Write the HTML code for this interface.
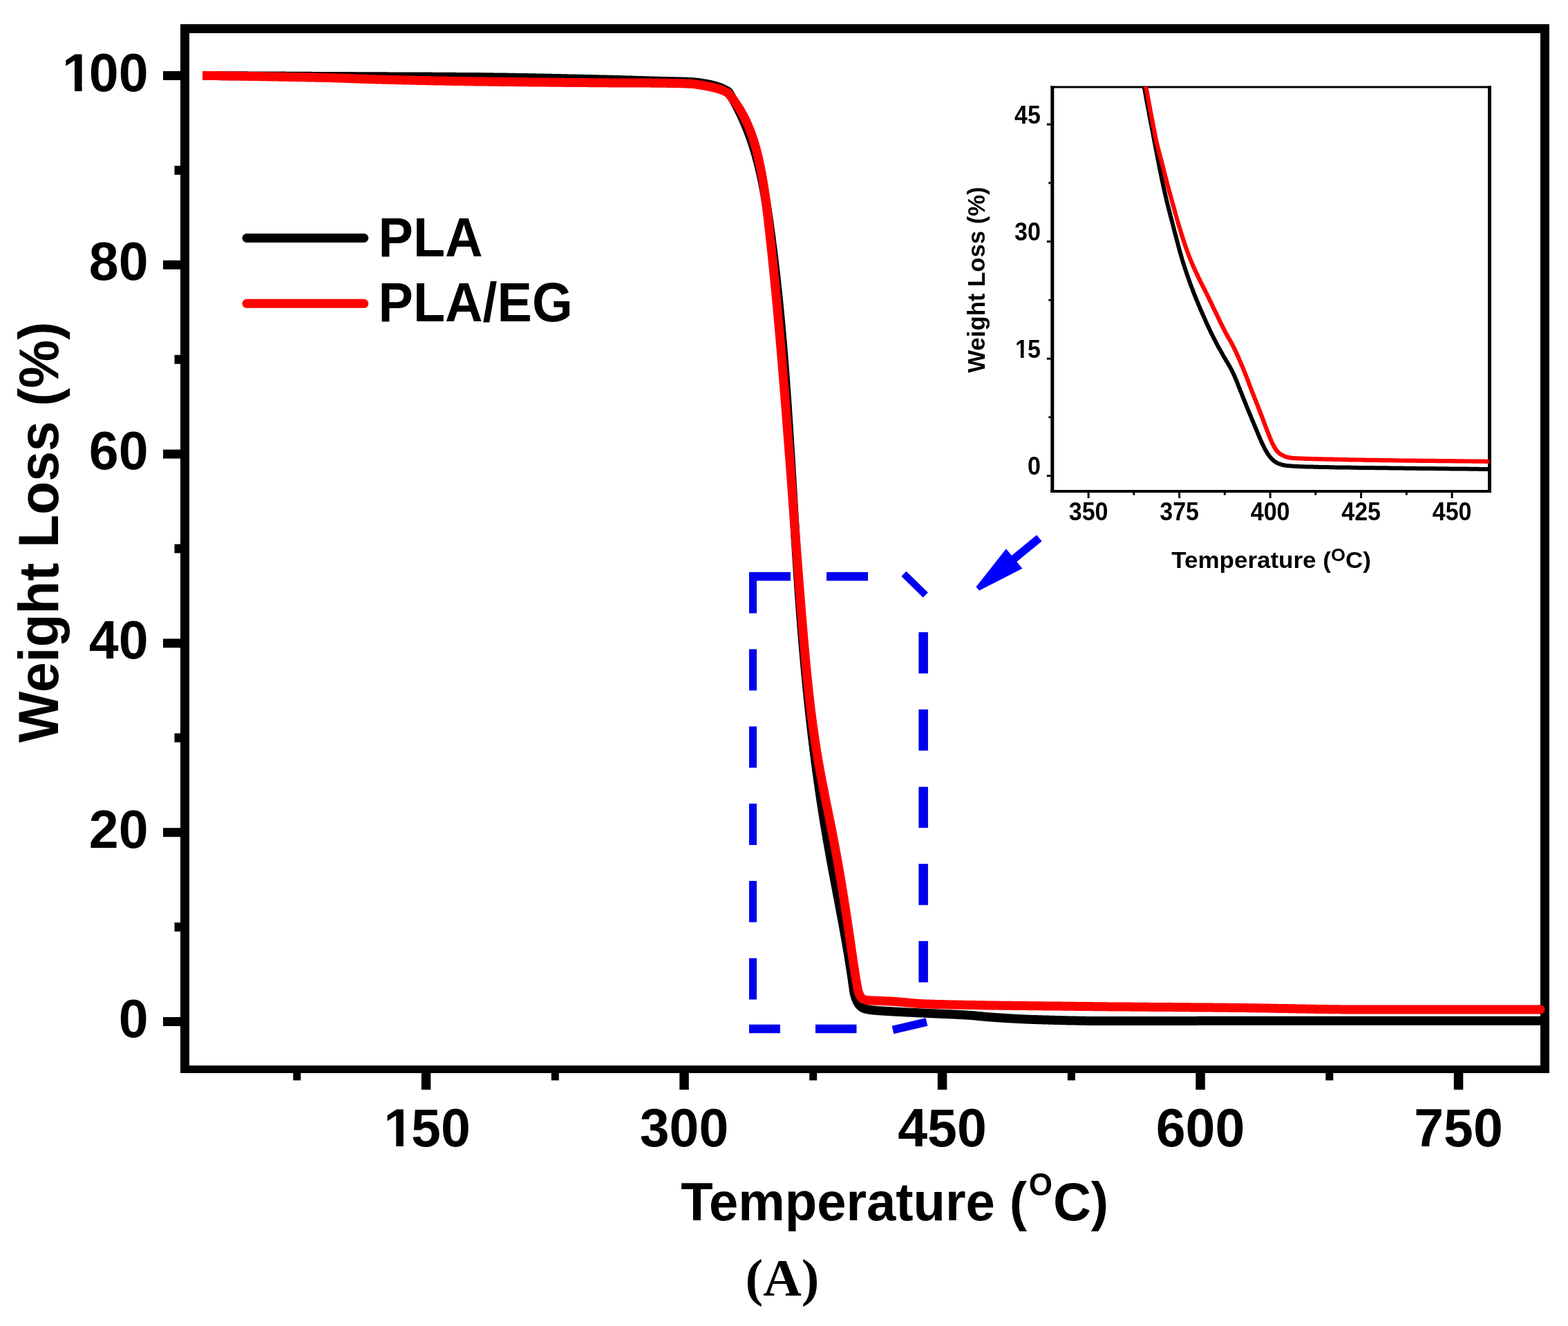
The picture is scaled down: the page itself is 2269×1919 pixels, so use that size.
<!DOCTYPE html>
<html><head><meta charset="utf-8"><title>TGA</title>
<style>html,body{margin:0;padding:0;background:#fff;}svg{display:block;}.s{font-family:"Liberation Sans",Arial,sans-serif;font-weight:bold;fill:#000;}.r{font-family:"Liberation Serif","Times New Roman",serif;font-weight:bold;fill:#000;}</style>
</head><body>
<svg xmlns="http://www.w3.org/2000/svg" width="2269" height="1919" viewBox="0 0 2269 1919">
<rect x="0" y="0" width="2269" height="1919" fill="#fff"/>
<g fill="#000">
<rect x="261" y="35" width="1981" height="13"/>
<rect x="261" y="35" width="13" height="1518"/>
<rect x="2229" y="35" width="13" height="1518"/>
<rect x="261" y="1542" width="1981" height="11"/>
<rect x="236" y="1472.0" width="25" height="13"/>
<rect x="236" y="1198.2" width="25" height="13"/>
<rect x="236" y="924.4" width="25" height="13"/>
<rect x="236" y="650.6" width="25" height="13"/>
<rect x="236" y="376.8" width="25" height="13"/>
<rect x="236" y="103.0" width="25" height="13"/>
<rect x="252.5" y="1335.1" width="8.5" height="13"/>
<rect x="252.5" y="1061.3" width="8.5" height="13"/>
<rect x="252.5" y="787.5" width="8.5" height="13"/>
<rect x="252.5" y="513.7" width="8.5" height="13"/>
<rect x="252.5" y="239.9" width="8.5" height="13"/>
<rect x="609.8" y="1553" width="13.5" height="24"/>
<rect x="983.3" y="1553" width="13.5" height="24"/>
<rect x="1356.8" y="1553" width="13.5" height="24"/>
<rect x="1730.3" y="1553" width="13.5" height="24"/>
<rect x="2103.8" y="1553" width="13.5" height="24"/>
<rect x="424.2" y="1553" width="11" height="10.5"/>
<rect x="797.8" y="1553" width="11" height="10.5"/>
<rect x="1171.2" y="1553" width="11" height="10.5"/>
<rect x="1544.8" y="1553" width="11" height="10.5"/>
<rect x="1918.3" y="1553" width="11" height="10.5"/>
</g>
<text class="s" font-size="77" transform="translate(171.68,1500.50) scale(1,1.000)">0</text>
<text class="s" font-size="77" transform="translate(128.85,1226.70) scale(1,1.000)">20</text>
<text class="s" font-size="77" transform="translate(128.85,952.90) scale(1,1.000)">40</text>
<text class="s" font-size="77" transform="translate(128.85,679.10) scale(1,1.000)">60</text>
<text class="s" font-size="77" transform="translate(128.85,405.30) scale(1,1.000)">80</text>
<text class="s" font-size="77" transform="translate(90.03,131.50) scale(1,1.000)">1</text>
<text class="s" font-size="77" transform="translate(128.85,131.50) scale(1,1.000)">00</text>
<rect x="93.11" y="122.11" width="14.89" height="10.59" fill="#fff"/>
<rect x="118.57" y="122.11" width="13.44" height="10.59" fill="#fff"/>
<text class="s" font-size="77" transform="translate(555.26,1659.00) scale(1,1.000)">1</text>
<text class="s" font-size="77" transform="translate(595.09,1659.00) scale(1,1.000)">50</text>
<rect x="558.34" y="1649.61" width="14.89" height="10.59" fill="#fff"/>
<rect x="583.80" y="1649.61" width="13.44" height="10.59" fill="#fff"/>
<text class="s" font-size="77" transform="translate(925.76,1659.00) scale(1,1.000)">300</text>
<text class="s" font-size="77" transform="translate(1299.26,1659.00) scale(1,1.000)">450</text>
<text class="s" font-size="77" transform="translate(1672.76,1659.00) scale(1,1.000)">600</text>
<text class="s" font-size="77" transform="translate(2046.26,1659.00) scale(1,1.000)">750</text>
<text class="s" font-size="78.5" text-anchor="middle" transform="translate(83.5,770.2) rotate(-90) scale(1,1.05)">Weight Loss (%)</text>
<text class="s" font-size="76" transform="translate(985.15,1765.8) scale(1,1.03)">Temperature (<tspan font-size="44" dx="2.5" dy="-35.2">O</tspan><tspan dy="35.2" dx="1">C)</tspan></text>
<text class="r" font-size="77" x="1078.6" y="1875">(A)</text>
<line x1="357" y1="344.5" x2="526.7" y2="344.5" stroke="#000" stroke-width="13" stroke-linecap="round"/>
<line x1="357" y1="439.3" x2="526.7" y2="439.3" stroke="#f00" stroke-width="13" stroke-linecap="round"/>
<text class="s" font-size="75.5" transform="translate(547.6,370.5) scale(1,1.045)">PLA</text>
<text class="s" font-size="75.5" transform="translate(547.6,465) scale(1,1.045)">PLA/EG</text>
<path d="M293.0 109.5 L293.2 109.5 L293.6 109.5 L294.1 109.5 L294.9 109.5 L295.6 109.5 L296.4 109.5 L297.1 109.5 L297.9 109.5 L298.6 109.5 L299.4 109.5 L300.1 109.5 L300.9 109.5 L301.6 109.5 L302.4 109.6 L303.1 109.6 L303.9 109.6 L304.6 109.6 L305.3 109.6 L306.1 109.6 L306.8 109.6 L307.6 109.6 L308.3 109.6 L309.1 109.6 L309.8 109.6 L310.6 109.6 L311.3 109.6 L312.1 109.6 L312.8 109.6 L313.6 109.6 L314.3 109.6 L315.1 109.6 L315.8 109.6 L316.6 109.6 L317.3 109.6 L318.1 109.6 L318.8 109.6 L319.6 109.6 L320.3 109.7 L321.1 109.7 L321.8 109.7 L322.6 109.7 L323.3 109.7 L324.1 109.7 L324.8 109.7 L325.6 109.7 L326.3 109.7 L327.0 109.7 L327.8 109.7 L328.5 109.7 L329.3 109.7 L330.0 109.7 L330.8 109.7 L331.5 109.7 L332.3 109.7 L333.0 109.7 L333.8 109.7 L334.5 109.7 L335.3 109.7 L336.0 109.7 L336.8 109.7 L337.5 109.7 L338.3 109.7 L339.0 109.8 L339.8 109.8 L340.5 109.8 L341.3 109.8 L342.0 109.8 L342.8 109.8 L343.5 109.8 L344.3 109.8 L345.0 109.8 L345.8 109.8 L346.5 109.8 L347.3 109.8 L348.0 109.8 L348.8 109.8 L349.5 109.8 L350.2 109.8 L351.0 109.8 L351.7 109.8 L352.5 109.8 L353.2 109.8 L354.0 109.8 L354.7 109.8 L355.5 109.8 L356.2 109.8 L357.0 109.8 L357.7 109.9 L358.5 109.9 L359.2 109.9 L360.0 109.9 L360.7 109.9 L361.5 109.9 L362.2 109.9 L363.0 109.9 L363.7 109.9 L364.5 109.9 L365.2 109.9 L366.0 109.9 L366.7 109.9 L367.5 109.9 L368.2 109.9 L369.0 109.9 L369.7 109.9 L370.5 109.9 L371.2 109.9 L371.9 109.9 L372.7 109.9 L373.4 109.9 L374.2 109.9 L374.9 109.9 L375.7 110.0 L376.4 110.0 L377.2 110.0 L377.9 110.0 L378.7 110.0 L379.4 110.0 L380.2 110.0 L380.9 110.0 L381.7 110.0 L382.4 110.0 L383.2 110.0 L383.9 110.0 L384.7 110.0 L385.4 110.0 L386.2 110.0 L386.9 110.0 L387.7 110.0 L388.4 110.0 L389.2 110.0 L389.9 110.0 L390.7 110.0 L391.4 110.0 L392.2 110.0 L392.9 110.0 L393.7 110.0 L394.4 110.1 L395.1 110.1 L395.9 110.1 L396.6 110.1 L397.4 110.1 L398.1 110.1 L398.9 110.1 L399.6 110.1 L400.4 110.1 L401.1 110.1 L401.9 110.1 L402.6 110.1 L403.4 110.1 L404.1 110.1 L404.9 110.1 L405.6 110.1 L406.4 110.1 L407.1 110.1 L407.9 110.1 L408.6 110.1 L409.4 110.1 L410.1 110.1 L410.9 110.1 L411.6 110.1 L412.4 110.1 L413.1 110.1 L413.9 110.2 L414.6 110.2 L415.4 110.2 L416.1 110.2 L416.8 110.2 L417.6 110.2 L418.3 110.2 L419.1 110.2 L419.8 110.2 L420.6 110.2 L421.3 110.2 L422.1 110.2 L422.8 110.2 L423.6 110.2 L424.3 110.2 L425.1 110.2 L425.8 110.2 L426.6 110.2 L427.3 110.2 L428.1 110.2 L428.8 110.2 L429.6 110.2 L430.3 110.2 L431.1 110.2 L431.8 110.2 L432.6 110.3 L433.3 110.3 L434.1 110.3 L434.8 110.3 L435.6 110.3 L436.3 110.3 L437.1 110.3 L437.8 110.3 L438.6 110.3 L439.3 110.3 L440.0 110.3 L440.8 110.3 L441.5 110.3 L442.3 110.3 L443.0 110.3 L443.8 110.3 L444.5 110.3 L445.3 110.3 L446.0 110.3 L446.8 110.3 L447.5 110.3 L448.3 110.3 L449.0 110.3 L449.8 110.3 L450.5 110.3 L451.3 110.4 L452.0 110.4 L452.8 110.4 L453.5 110.4 L454.3 110.4 L455.0 110.4 L455.8 110.4 L456.5 110.4 L457.3 110.4 L458.0 110.4 L458.8 110.4 L459.5 110.4 L460.3 110.4 L461.0 110.4 L461.8 110.4 L462.5 110.4 L463.2 110.4 L464.0 110.4 L464.7 110.4 L465.5 110.4 L466.2 110.4 L467.0 110.4 L467.7 110.4 L468.5 110.4 L469.2 110.4 L470.0 110.4 L470.7 110.5 L471.5 110.5 L472.2 110.5 L473.0 110.5 L473.7 110.5 L474.5 110.5 L475.2 110.5 L476.0 110.5 L476.7 110.5 L477.5 110.5 L478.2 110.5 L479.0 110.5 L479.7 110.5 L480.5 110.5 L481.2 110.5 L482.0 110.5 L482.7 110.5 L483.5 110.5 L484.2 110.5 L484.9 110.5 L485.7 110.5 L486.4 110.5 L487.2 110.5 L487.9 110.5 L488.7 110.5 L489.4 110.5 L490.2 110.6 L490.9 110.6 L491.7 110.6 L492.4 110.6 L493.2 110.6 L493.9 110.6 L494.7 110.6 L495.4 110.6 L496.2 110.6 L496.9 110.6 L497.7 110.6 L498.4 110.6 L499.2 110.6 L499.9 110.6 L500.7 110.6 L501.4 110.6 L502.2 110.6 L502.9 110.6 L503.7 110.6 L504.4 110.6 L505.2 110.6 L505.9 110.6 L506.7 110.6 L507.4 110.6 L508.1 110.6 L508.9 110.6 L509.6 110.6 L510.4 110.6 L511.1 110.6 L511.9 110.7 L512.6 110.7 L513.4 110.7 L514.1 110.7 L514.9 110.7 L515.6 110.7 L516.4 110.7 L517.1 110.7 L517.9 110.7 L518.6 110.7 L519.4 110.7 L520.1 110.7 L520.9 110.7 L521.6 110.7 L522.4 110.7 L523.1 110.7 L523.9 110.7 L524.6 110.7 L525.4 110.7 L526.1 110.7 L526.9 110.7 L527.6 110.7 L528.4 110.7 L529.1 110.7 L529.8 110.7 L530.6 110.7 L531.3 110.7 L532.1 110.7 L532.8 110.7 L533.6 110.7 L534.3 110.7 L535.1 110.7 L535.8 110.8 L536.6 110.8 L537.3 110.8 L538.1 110.8 L538.8 110.8 L539.6 110.8 L540.3 110.8 L541.1 110.8 L541.8 110.8 L542.6 110.8 L543.3 110.8 L544.1 110.8 L544.8 110.8 L545.6 110.8 L546.3 110.8 L547.1 110.8 L547.8 110.8 L548.6 110.8 L549.3 110.8 L550.1 110.8 L550.8 110.8 L551.6 110.8 L552.3 110.8 L553.0 110.8 L553.8 110.8 L554.5 110.8 L555.3 110.8 L556.0 110.8 L556.8 110.8 L557.5 110.8 L558.3 110.8 L559.0 110.8 L559.8 110.8 L560.5 110.9 L561.3 110.9 L562.0 110.9 L562.8 110.9 L563.5 110.9 L564.3 110.9 L565.0 110.9 L565.8 110.9 L566.5 110.9 L567.3 110.9 L568.0 110.9 L568.8 110.9 L569.5 110.9 L570.3 110.9 L571.0 110.9 L571.8 110.9 L572.5 110.9 L573.3 110.9 L574.0 110.9 L574.8 110.9 L575.5 110.9 L576.2 110.9 L577.0 110.9 L577.7 110.9 L578.5 110.9 L579.2 110.9 L580.0 110.9 L580.7 110.9 L581.5 110.9 L582.2 110.9 L583.0 110.9 L583.7 110.9 L584.5 111.0 L585.2 111.0 L586.0 111.0 L586.7 111.0 L587.5 111.0 L588.2 111.0 L589.0 111.0 L589.7 111.0 L590.5 111.0 L591.2 111.0 L592.0 111.0 L592.7 111.0 L593.5 111.0 L594.2 111.0 L595.0 111.0 L595.7 111.0 L596.5 111.0 L597.2 111.0 L597.9 111.0 L598.7 111.0 L599.4 111.0 L600.2 111.0 L600.9 111.0 L601.7 111.0 L602.4 111.0 L603.2 111.0 L603.9 111.0 L604.7 111.0 L605.4 111.0 L606.2 111.0 L606.9 111.1 L607.7 111.1 L608.4 111.1 L609.2 111.1 L609.9 111.1 L610.7 111.1 L611.4 111.1 L612.2 111.1 L612.9 111.1 L613.7 111.1 L614.4 111.1 L615.2 111.1 L615.9 111.1 L616.7 111.1 L617.4 111.1 L618.2 111.1 L618.9 111.1 L619.7 111.1 L620.4 111.1 L621.1 111.1 L621.9 111.1 L622.6 111.1 L623.4 111.1 L624.1 111.1 L624.9 111.1 L625.6 111.1 L626.4 111.2 L627.1 111.2 L627.9 111.2 L628.6 111.2 L629.4 111.2 L630.1 111.2 L630.9 111.2 L631.6 111.2 L632.4 111.2 L633.1 111.2 L633.9 111.2 L634.6 111.2 L635.4 111.2 L636.1 111.2 L636.9 111.2 L637.6 111.2 L638.4 111.2 L639.1 111.2 L639.9 111.2 L640.6 111.2 L641.4 111.2 L642.1 111.2 L642.9 111.2 L643.6 111.2 L644.3 111.3 L645.1 111.3 L645.8 111.3 L646.6 111.3 L647.3 111.3 L648.1 111.3 L648.8 111.3 L649.6 111.3 L650.3 111.3 L651.1 111.3 L651.8 111.3 L652.6 111.3 L653.3 111.3 L654.1 111.3 L654.8 111.3 L655.6 111.3 L656.3 111.3 L657.1 111.3 L657.8 111.3 L658.6 111.3 L659.3 111.3 L660.1 111.4 L660.8 111.4 L661.6 111.4 L662.3 111.4 L663.1 111.4 L663.8 111.4 L664.6 111.4 L665.3 111.4 L666.0 111.4 L666.8 111.4 L667.5 111.4 L668.3 111.4 L669.0 111.4 L669.8 111.4 L670.5 111.4 L671.3 111.4 L672.0 111.4 L672.8 111.4 L673.5 111.5 L674.3 111.5 L675.0 111.5 L675.8 111.5 L676.5 111.5 L677.3 111.5 L678.0 111.5 L678.8 111.5 L679.5 111.5 L680.3 111.5 L681.0 111.5 L681.8 111.5 L682.5 111.5 L683.3 111.5 L684.0 111.5 L684.8 111.5 L685.5 111.5 L686.3 111.6 L687.0 111.6 L687.7 111.6 L688.5 111.6 L689.2 111.6 L690.0 111.6 L690.7 111.6 L691.5 111.6 L692.2 111.6 L693.0 111.6 L693.7 111.6 L694.5 111.6 L695.2 111.6 L696.0 111.6 L696.7 111.7 L697.5 111.7 L698.2 111.7 L699.0 111.7 L699.7 111.7 L700.5 111.7 L701.2 111.7 L702.0 111.7 L702.7 111.7 L703.5 111.7 L704.2 111.7 L705.0 111.7 L705.7 111.8 L706.5 111.8 L707.2 111.8 L708.0 111.8 L708.7 111.8 L709.4 111.8 L710.2 111.8 L710.9 111.8 L711.7 111.8 L712.4 111.8 L713.2 111.8 L713.9 111.9 L714.7 111.9 L715.4 111.9 L716.2 111.9 L716.9 111.9 L717.7 111.9 L718.4 111.9 L719.2 111.9 L719.9 111.9 L720.7 111.9 L721.4 112.0 L722.2 112.0 L722.9 112.0 L723.7 112.0 L724.4 112.0 L725.2 112.0 L725.9 112.0 L726.7 112.0 L727.4 112.0 L728.2 112.1 L728.9 112.1 L729.7 112.1 L730.4 112.1 L731.1 112.1 L731.9 112.1 L732.6 112.1 L733.4 112.1 L734.1 112.1 L734.9 112.2 L735.6 112.2 L736.4 112.2 L737.1 112.2 L737.9 112.2 L738.6 112.2 L739.4 112.2 L740.1 112.2 L740.9 112.3 L741.6 112.3 L742.4 112.3 L743.1 112.3 L743.9 112.3 L744.6 112.3 L745.4 112.3 L746.1 112.3 L746.9 112.4 L747.6 112.4 L748.4 112.4 L749.1 112.4 L749.9 112.4 L750.6 112.4 L751.4 112.4 L752.1 112.4 L752.8 112.5 L753.6 112.5 L754.3 112.5 L755.1 112.5 L755.8 112.5 L756.6 112.5 L757.3 112.5 L758.1 112.6 L758.8 112.6 L759.6 112.6 L760.3 112.6 L761.1 112.6 L761.8 112.6 L762.6 112.6 L763.3 112.6 L764.1 112.7 L764.8 112.7 L765.6 112.7 L766.3 112.7 L767.1 112.7 L767.8 112.7 L768.6 112.7 L769.3 112.8 L770.1 112.8 L770.8 112.8 L771.6 112.8 L772.3 112.8 L773.0 112.8 L773.8 112.8 L774.5 112.9 L775.3 112.9 L776.0 112.9 L776.8 112.9 L777.5 112.9 L778.3 112.9 L779.0 113.0 L779.8 113.0 L780.5 113.0 L781.3 113.0 L782.0 113.0 L782.8 113.0 L783.5 113.0 L784.3 113.1 L785.0 113.1 L785.8 113.1 L786.5 113.1 L787.3 113.1 L788.0 113.1 L788.8 113.1 L789.5 113.2 L790.3 113.2 L791.0 113.2 L791.8 113.2 L792.5 113.2 L793.3 113.2 L794.0 113.3 L794.7 113.3 L795.5 113.3 L796.2 113.3 L797.0 113.3 L797.7 113.3 L798.5 113.4 L799.2 113.4 L800.0 113.4 L800.7 113.4 L801.5 113.4 L802.2 113.4 L803.0 113.4 L803.7 113.5 L804.5 113.5 L805.2 113.5 L806.0 113.5 L806.7 113.5 L807.5 113.5 L808.2 113.6 L809.0 113.6 L809.7 113.6 L810.5 113.6 L811.2 113.6 L812.0 113.6 L812.7 113.7 L813.5 113.7 L814.2 113.7 L814.9 113.7 L815.7 113.7 L816.4 113.7 L817.2 113.8 L817.9 113.8 L818.7 113.8 L819.4 113.8 L820.2 113.8 L820.9 113.8 L821.7 113.9 L822.4 113.9 L823.2 113.9 L823.9 113.9 L824.7 113.9 L825.4 113.9 L826.2 114.0 L826.9 114.0 L827.7 114.0 L828.4 114.0 L829.2 114.0 L829.9 114.0 L830.7 114.1 L831.4 114.1 L832.2 114.1 L832.9 114.1 L833.7 114.1 L834.4 114.1 L835.2 114.2 L835.9 114.2 L836.6 114.2 L837.4 114.2 L838.1 114.2 L838.9 114.2 L839.6 114.3 L840.4 114.3 L841.1 114.3 L841.9 114.3 L842.6 114.3 L843.4 114.3 L844.1 114.4 L844.9 114.4 L845.6 114.4 L846.4 114.4 L847.1 114.4 L847.9 114.4 L848.6 114.5 L849.4 114.5 L850.1 114.5 L850.9 114.5 L851.6 114.5 L852.4 114.6 L853.1 114.6 L853.9 114.6 L854.6 114.6 L855.4 114.6 L856.1 114.6 L856.8 114.7 L857.6 114.7 L858.3 114.7 L859.1 114.7 L859.8 114.7 L860.6 114.7 L861.3 114.8 L862.1 114.8 L862.8 114.8 L863.6 114.8 L864.3 114.8 L865.1 114.8 L865.8 114.9 L866.6 114.9 L867.3 114.9 L868.1 114.9 L868.8 114.9 L869.6 114.9 L870.3 115.0 L871.1 115.0 L871.8 115.0 L872.6 115.0 L873.3 115.0 L874.1 115.0 L874.8 115.1 L875.6 115.1 L876.3 115.1 L877.0 115.1 L877.8 115.1 L878.5 115.2 L879.3 115.2 L880.0 115.2 L880.8 115.2 L881.5 115.2 L882.3 115.2 L883.0 115.3 L883.8 115.3 L884.5 115.3 L885.3 115.3 L886.0 115.3 L886.8 115.4 L887.5 115.4 L888.3 115.4 L889.0 115.4 L889.8 115.4 L890.5 115.5 L891.3 115.5 L892.0 115.5 L892.8 115.5 L893.5 115.5 L894.3 115.6 L895.0 115.6 L895.7 115.6 L896.5 115.6 L897.2 115.6 L898.0 115.7 L898.7 115.7 L899.5 115.7 L900.2 115.7 L901.0 115.8 L901.7 115.8 L902.5 115.8 L903.2 115.8 L904.0 115.8 L904.7 115.9 L905.5 115.9 L906.2 115.9 L907.0 115.9 L907.7 115.9 L908.5 116.0 L909.2 116.0 L910.0 116.0 L910.7 116.0 L911.5 116.1 L912.2 116.1 L913.0 116.1 L913.7 116.1 L914.5 116.1 L915.2 116.2 L915.9 116.2 L916.7 116.2 L917.4 116.2 L918.2 116.3 L918.9 116.3 L919.7 116.3 L920.4 116.3 L921.2 116.4 L921.9 116.4 L922.7 116.4 L923.4 116.4 L924.2 116.4 L924.9 116.5 L925.7 116.5 L926.4 116.5 L927.2 116.5 L927.9 116.6 L928.7 116.6 L929.4 116.6 L930.2 116.6 L930.9 116.6 L931.7 116.7 L932.4 116.7 L933.2 116.7 L933.9 116.7 L934.6 116.8 L935.4 116.8 L936.1 116.8 L936.9 116.8 L937.6 116.8 L938.4 116.9 L939.1 116.9 L939.9 116.9 L940.6 116.9 L941.4 117.0 L942.1 117.0 L942.9 117.0 L943.6 117.0 L944.4 117.0 L945.1 117.1 L945.9 117.1 L946.6 117.1 L947.4 117.1 L948.1 117.2 L948.9 117.2 L949.6 117.2 L950.4 117.2 L951.1 117.2 L951.9 117.3 L952.6 117.3 L953.3 117.3 L954.1 117.3 L954.8 117.4 L955.6 117.4 L956.3 117.4 L957.1 117.4 L957.8 117.4 L958.6 117.5 L959.3 117.5 L960.1 117.5 L960.8 117.5 L961.6 117.5 L962.3 117.6 L963.1 117.6 L963.8 117.6 L964.6 117.6 L965.3 117.6 L966.1 117.7 L966.8 117.7 L967.6 117.7 L968.3 117.7 L969.1 117.7 L969.8 117.7 L970.6 117.8 L971.3 117.8 L972.1 117.8 L972.8 117.8 L973.6 117.8 L974.3 117.8 L975.1 117.8 L975.8 117.9 L976.6 117.9 L977.3 117.9 L978.1 117.9 L978.8 117.9 L979.5 117.9 L980.3 118.0 L981.0 118.0 L981.8 118.0 L982.5 118.0 L983.3 118.0 L984.0 118.0 L984.8 118.1 L985.5 118.1 L986.3 118.1 L987.0 118.1 L987.8 118.1 L988.5 118.2 L989.3 118.2 L990.0 118.2 L990.8 118.2 L991.5 118.3 L992.3 118.3 L993.0 118.3 L993.8 118.3 L994.5 118.4 L995.3 118.4 L996.0 118.4 L996.7 118.5 L997.5 118.5 L998.2 118.5 L999.0 118.6 L999.7 118.6 L1000.5 118.6 L1001.2 118.7 L1002.0 118.7 L1002.7 118.8 L1003.5 118.8 L1004.2 118.9 L1004.9 119.0 L1005.7 119.0 L1006.4 119.1 L1007.2 119.2 L1007.9 119.3 L1008.7 119.4 L1009.4 119.5 L1010.2 119.5 L1010.9 119.6 L1011.7 119.7 L1012.4 119.8 L1013.1 120.0 L1013.9 120.1 L1014.6 120.2 L1015.4 120.3 L1016.1 120.4 L1016.8 120.5 L1017.6 120.6 L1018.3 120.7 L1019.1 120.9 L1019.8 121.0 L1020.5 121.1 L1021.3 121.2 L1022.0 121.3 L1022.7 121.5 L1023.5 121.6 L1024.2 121.8 L1025.0 121.9 L1025.7 122.0 L1026.4 122.2 L1027.2 122.4 L1027.9 122.5 L1028.6 122.7 L1029.4 122.9 L1030.1 123.0 L1030.8 123.2 L1031.6 123.4 L1032.3 123.6 L1033.0 123.8 L1033.7 124.0 L1034.5 124.2 L1035.2 124.4 L1035.9 124.6 L1036.6 124.8 L1037.3 125.0 L1038.0 125.2 L1038.7 125.4 L1039.4 125.7 L1040.1 125.9 L1040.8 126.1 L1041.5 126.4 L1042.2 126.7 L1042.9 126.9 L1043.6 127.2 L1044.3 127.5 L1045.0 127.8 L1045.7 128.1 L1046.3 128.4 L1047.0 128.8 L1047.7 129.1 L1048.4 129.4 L1049.0 129.8 L1049.7 130.1 L1050.4 130.5 L1051.0 130.8 L1051.7 131.2 L1052.4 131.6 L1053.0 131.9 L1053.6 132.4 L1054.2 133.0 L1054.7 133.6 L1055.1 134.4 L1055.6 135.1 L1056.0 135.9 L1056.5 136.6 L1056.9 137.4 L1057.4 138.1 L1057.8 138.9 L1058.3 139.6 L1058.7 140.4 L1059.1 141.1 L1059.6 141.9 L1060.0 142.6 L1060.4 143.4 L1060.8 144.1 L1061.3 144.9 L1061.7 145.6 L1062.1 146.4 L1062.5 147.1 L1062.9 147.9 L1063.3 148.6 L1063.7 149.4 L1064.1 150.1 L1064.5 150.9 L1064.9 151.6 L1065.3 152.4 L1065.7 153.1 L1066.1 153.9 L1066.5 154.6 L1066.9 155.4 L1067.3 156.1 L1067.6 156.9 L1068.0 157.6 L1068.4 158.4 L1068.8 159.1 L1069.2 159.9 L1069.5 160.6 L1069.9 161.4 L1070.3 162.1 L1070.6 162.9 L1071.0 163.6 L1071.3 164.4 L1071.7 165.1 L1072.1 165.9 L1072.4 166.6 L1072.8 167.4 L1073.1 168.1 L1073.5 168.9 L1073.8 169.6 L1074.2 170.4 L1074.5 171.1 L1074.8 171.9 L1075.2 172.6 L1075.5 173.4 L1075.8 174.1 L1076.2 174.9 L1076.5 175.6 L1076.8 176.4 L1077.1 177.1 L1077.5 177.9 L1077.8 178.6 L1078.1 179.4 L1078.4 180.1 L1078.7 180.9 L1079.0 181.6 L1079.4 182.4 L1079.7 183.1 L1080.0 183.9 L1080.3 184.6 L1080.6 185.4 L1080.9 186.1 L1081.2 186.9 L1081.5 187.6 L1081.8 188.4 L1082.1 189.1 L1082.4 189.9 L1082.6 190.6 L1082.9 191.4 L1083.2 192.1 L1083.5 192.9 L1083.8 193.6 L1084.1 194.4 L1084.3 195.1 L1084.6 195.9 L1084.9 196.6 L1085.2 197.4 L1085.4 198.1 L1085.7 198.9 L1086.0 199.6 L1086.2 200.4 L1086.5 201.1 L1086.8 201.9 L1087.0 202.6 L1087.3 203.4 L1087.5 204.1 L1087.8 204.9 L1088.0 205.6 L1088.3 206.4 L1088.5 207.1 L1088.8 207.9 L1089.0 208.6 L1089.3 209.4 L1089.5 210.1 L1089.8 210.9 L1090.0 211.6 L1090.3 212.4 L1090.5 213.1 L1090.7 213.9 L1091.0 214.6 L1091.2 215.4 L1091.4 216.1 L1091.7 216.9 L1091.9 217.6 L1092.1 218.4 L1092.3 219.1 L1092.6 219.9 L1092.8 220.6 L1093.0 221.4 L1093.2 222.1 L1093.4 222.9 L1093.7 223.6 L1093.9 224.4 L1094.1 225.1 L1094.3 225.9 L1094.5 226.6 L1094.7 227.4 L1094.9 228.1 L1095.1 228.9 L1095.3 229.6 L1095.5 230.4 L1095.7 231.1 L1095.9 231.9 L1096.1 232.6 L1096.3 233.4 L1096.5 234.1 L1096.7 234.9 L1096.9 235.6 L1097.1 236.4 L1097.3 237.1 L1097.5 237.9 L1097.7 238.6 L1097.9 239.4 L1098.1 240.1 L1098.2 240.9 L1098.4 241.6 L1098.6 242.4 L1098.8 243.1 L1099.0 243.9 L1099.2 244.6 L1099.3 245.4 L1099.5 246.1 L1099.7 246.9 L1099.9 247.6 L1100.0 248.4 L1100.2 249.1 L1100.4 249.9 L1100.5 250.6 L1100.7 251.4 L1100.9 252.1 L1101.0 252.9 L1101.2 253.6 L1101.4 254.4 L1101.5 255.1 L1101.7 255.9 L1101.9 256.6 L1102.0 257.4 L1102.2 258.1 L1102.3 258.9 L1102.5 259.6 L1102.7 260.4 L1102.8 261.1 L1103.0 261.9 L1103.1 262.6 L1103.3 263.4 L1103.4 264.1 L1103.6 264.9 L1103.7 265.6 L1103.9 266.4 L1104.0 267.1 L1104.2 267.9 L1104.3 268.6 L1104.5 269.4 L1104.6 270.1 L1104.7 270.9 L1104.9 271.6 L1105.0 272.4 L1105.2 273.1 L1105.3 273.9 L1105.4 274.6 L1105.6 275.4 L1105.7 276.1 L1105.9 276.9 L1106.0 277.6 L1106.1 278.4 L1106.3 279.1 L1106.4 279.9 L1106.5 280.6 L1106.7 281.4 L1106.8 282.1 L1106.9 282.9 L1107.1 283.6 L1107.2 284.4 L1107.3 285.1 L1107.4 285.9 L1107.6 286.6 L1107.7 287.4 L1107.8 288.1 L1107.9 288.9 L1108.1 289.6 L1108.2 290.4 L1108.3 291.1 L1108.4 291.9 L1108.6 292.6 L1108.7 293.4 L1108.8 294.1 L1108.9 294.9 L1109.0 295.6 L1109.2 296.4 L1109.3 297.1 L1109.4 297.9 L1109.5 298.6 L1109.6 299.4 L1109.8 300.1 L1109.9 300.9 L1110.0 301.6 L1110.1 302.4 L1110.2 303.1 L1110.3 303.9 L1110.4 304.6 L1110.6 305.4 L1110.7 306.1 L1110.8 306.9 L1110.9 307.6 L1111.0 308.4 L1111.1 309.1 L1111.2 309.9 L1111.3 310.6 L1111.5 311.4 L1111.6 312.1 L1111.7 312.9 L1111.8 313.6 L1111.9 314.4 L1112.0 315.1 L1112.1 315.9 L1112.2 316.6 L1112.3 317.4 L1112.4 318.1 L1112.5 318.9 L1112.6 319.6 L1112.8 320.4 L1112.9 321.1 L1113.0 321.9 L1113.1 322.6 L1113.2 323.4 L1113.3 324.1 L1113.4 324.9 L1113.5 325.6 L1113.6 326.4 L1113.7 327.1 L1113.8 327.9 L1113.9 328.6 L1114.0 329.4 L1114.1 330.1 L1114.2 330.9 L1114.3 331.6 L1114.4 332.4 L1114.5 333.1 L1114.6 333.9 L1114.7 334.6 L1114.8 335.4 L1114.9 336.1 L1115.0 336.9 L1115.1 337.6 L1115.2 338.4 L1115.4 339.1 L1115.5 339.9 L1115.6 340.6 L1115.7 341.4 L1115.8 342.1 L1115.9 342.9 L1116.0 343.6 L1116.1 344.4 L1116.2 345.1 L1116.3 345.9 L1116.3 346.6 L1116.4 347.4 L1116.5 348.1 L1116.6 348.9 L1116.7 349.6 L1116.8 350.4 L1116.9 351.1 L1117.0 351.9 L1117.1 352.6 L1117.2 353.4 L1117.3 354.1 L1117.4 354.9 L1117.5 355.6 L1117.6 356.4 L1117.7 357.1 L1117.8 357.9 L1117.9 358.6 L1118.0 359.4 L1118.1 360.1 L1118.2 360.9 L1118.3 361.6 L1118.4 362.4 L1118.5 363.1 L1118.6 363.9 L1118.7 364.6 L1118.8 365.4 L1118.8 366.1 L1118.9 366.9 L1119.0 367.6 L1119.1 368.4 L1119.2 369.1 L1119.3 369.9 L1119.4 370.6 L1119.5 371.4 L1119.6 372.1 L1119.7 372.9 L1119.8 373.6 L1119.9 374.4 L1119.9 375.1 L1120.0 375.9 L1120.1 376.6 L1120.2 377.4 L1120.3 378.1 L1120.4 378.9 L1120.5 379.6 L1120.6 380.4 L1120.7 381.1 L1120.8 381.9 L1120.8 382.6 L1120.9 383.4 L1121.0 384.1 L1121.1 384.9 L1121.2 385.6 L1121.3 386.4 L1121.4 387.1 L1121.5 387.9 L1121.5 388.6 L1121.6 389.4 L1121.7 390.1 L1121.8 390.9 L1121.9 391.6 L1122.0 392.4 L1122.1 393.1 L1122.2 393.9 L1122.2 394.6 L1122.3 395.4 L1122.4 396.1 L1122.5 396.9 L1122.6 397.6 L1122.7 398.4 L1122.8 399.1 L1122.8 399.9 L1122.9 400.6 L1123.0 401.4 L1123.1 402.1 L1123.2 402.9 L1123.3 403.6 L1123.3 404.4 L1123.4 405.1 L1123.5 405.9 L1123.6 406.6 L1123.7 407.4 L1123.8 408.1 L1123.8 408.9 L1123.9 409.6 L1124.0 410.4 L1124.1 411.1 L1124.2 411.9 L1124.2 412.6 L1124.3 413.4 L1124.4 414.1 L1124.5 414.9 L1124.6 415.6 L1124.6 416.4 L1124.7 417.1 L1124.8 417.9 L1124.9 418.6 L1125.0 419.4 L1125.0 420.1 L1125.1 420.9 L1125.2 421.6 L1125.3 422.4 L1125.4 423.1 L1125.4 423.9 L1125.5 424.6 L1125.6 425.4 L1125.7 426.1 L1125.8 426.9 L1125.8 427.6 L1125.9 428.4 L1126.0 429.1 L1126.1 429.9 L1126.1 430.6 L1126.2 431.4 L1126.3 432.1 L1126.4 432.9 L1126.4 433.6 L1126.5 434.4 L1126.6 435.1 L1126.7 435.9 L1126.8 436.6 L1126.8 437.4 L1126.9 438.1 L1127.0 438.9 L1127.1 439.6 L1127.1 440.4 L1127.2 441.1 L1127.3 441.9 L1127.4 442.6 L1127.4 443.4 L1127.5 444.1 L1127.6 444.9 L1127.7 445.6 L1127.7 446.4 L1127.8 447.1 L1127.9 447.9 L1127.9 448.6 L1128.0 449.4 L1128.1 450.1 L1128.2 450.9 L1128.2 451.6 L1128.3 452.4 L1128.4 453.1 L1128.5 453.9 L1128.5 454.6 L1128.6 455.4 L1128.7 456.1 L1128.7 456.9 L1128.8 457.6 L1128.9 458.4 L1129.0 459.1 L1129.0 459.9 L1129.1 460.6 L1129.2 461.4 L1129.2 462.1 L1129.3 462.9 L1129.4 463.6 L1129.4 464.4 L1129.5 465.1 L1129.6 465.9 L1129.7 466.6 L1129.7 467.4 L1129.8 468.1 L1129.9 468.9 L1129.9 469.6 L1130.0 470.4 L1130.1 471.1 L1130.1 471.9 L1130.2 472.6 L1130.3 473.4 L1130.3 474.1 L1130.4 474.9 L1130.5 475.6 L1130.5 476.4 L1130.6 477.1 L1130.7 477.9 L1130.7 478.6 L1130.8 479.4 L1130.9 480.1 L1130.9 480.9 L1131.0 481.6 L1131.1 482.4 L1131.1 483.1 L1131.2 483.9 L1131.3 484.6 L1131.3 485.4 L1131.4 486.1 L1131.5 486.9 L1131.5 487.6 L1131.6 488.4 L1131.7 489.1 L1131.7 489.9 L1131.8 490.6 L1131.9 491.4 L1131.9 492.1 L1132.0 492.9 L1132.1 493.6 L1132.1 494.4 L1132.2 495.1 L1132.3 495.9 L1132.3 496.6 L1132.4 497.4 L1132.4 498.1 L1132.5 498.9 L1132.6 499.6 L1132.6 500.4 L1132.7 501.1 L1132.8 501.9 L1132.8 502.6 L1132.9 503.4 L1133.0 504.1 L1133.0 504.9 L1133.1 505.6 L1133.1 506.4 L1133.2 507.1 L1133.3 507.9 L1133.3 508.6 L1133.4 509.4 L1133.4 510.1 L1133.5 510.9 L1133.6 511.6 L1133.6 512.4 L1133.7 513.1 L1133.8 513.9 L1133.8 514.6 L1133.9 515.4 L1133.9 516.1 L1134.0 516.9 L1134.1 517.6 L1134.1 518.4 L1134.2 519.1 L1134.2 519.9 L1134.3 520.6 L1134.4 521.4 L1134.4 522.1 L1134.5 522.9 L1134.5 523.6 L1134.6 524.4 L1134.7 525.1 L1134.7 525.9 L1134.8 526.6 L1134.8 527.4 L1134.9 528.1 L1135.0 528.9 L1135.0 529.6 L1135.1 530.4 L1135.1 531.1 L1135.2 531.9 L1135.2 532.6 L1135.3 533.4 L1135.4 534.1 L1135.4 534.9 L1135.5 535.6 L1135.5 536.4 L1135.6 537.1 L1135.7 537.9 L1135.7 538.6 L1135.8 539.4 L1135.8 540.1 L1135.9 540.9 L1135.9 541.6 L1136.0 542.4 L1136.1 543.1 L1136.1 543.9 L1136.2 544.6 L1136.2 545.4 L1136.3 546.1 L1136.3 546.9 L1136.4 547.6 L1136.4 548.4 L1136.5 549.1 L1136.6 549.9 L1136.6 550.6 L1136.7 551.4 L1136.7 552.1 L1136.8 552.9 L1136.8 553.6 L1136.9 554.4 L1136.9 555.1 L1137.0 555.9 L1137.1 556.6 L1137.1 557.4 L1137.2 558.1 L1137.2 558.9 L1137.3 559.6 L1137.3 560.4 L1137.4 561.1 L1137.4 561.9 L1137.5 562.6 L1137.5 563.4 L1137.6 564.1 L1137.7 564.9 L1137.7 565.6 L1137.8 566.4 L1137.8 567.1 L1137.9 567.9 L1137.9 568.6 L1138.0 569.4 L1138.0 570.1 L1138.1 570.9 L1138.1 571.6 L1138.2 572.4 L1138.2 573.1 L1138.3 573.9 L1138.3 574.6 L1138.4 575.4 L1138.5 576.1 L1138.5 576.9 L1138.6 577.6 L1138.6 578.4 L1138.7 579.1 L1138.7 579.9 L1138.8 580.6 L1138.8 581.4 L1138.9 582.1 L1138.9 582.9 L1139.0 583.6 L1139.0 584.4 L1139.1 585.1 L1139.1 585.9 L1139.2 586.6 L1139.2 587.4 L1139.3 588.1 L1139.3 588.9 L1139.4 589.6 L1139.4 590.4 L1139.5 591.1 L1139.5 591.9 L1139.6 592.6 L1139.6 593.4 L1139.7 594.1 L1139.7 594.9 L1139.8 595.6 L1139.8 596.4 L1139.9 597.1 L1139.9 597.9 L1140.0 598.6 L1140.0 599.4 L1140.1 600.1 L1140.1 600.9 L1140.2 601.6 L1140.2 602.4 L1140.3 603.1 L1140.3 603.9 L1140.4 604.6 L1140.4 605.4 L1140.5 606.1 L1140.5 606.9 L1140.6 607.6 L1140.6 608.4 L1140.7 609.1 L1140.7 609.9 L1140.8 610.6 L1140.8 611.4 L1140.9 612.1 L1140.9 612.9 L1141.0 613.6 L1141.0 614.4 L1141.1 615.1 L1141.1 615.9 L1141.2 616.6 L1141.2 617.4 L1141.3 618.1 L1141.3 618.9 L1141.4 619.6 L1141.4 620.4 L1141.5 621.1 L1141.5 621.9 L1141.6 622.6 L1141.6 623.4 L1141.7 624.1 L1141.7 624.9 L1141.8 625.6 L1141.8 626.4 L1141.9 627.1 L1141.9 627.9 L1142.0 628.6 L1142.0 629.4 L1142.1 630.1 L1142.1 630.9 L1142.1 631.6 L1142.2 632.4 L1142.2 633.1 L1142.3 633.9 L1142.3 634.6 L1142.4 635.4 L1142.4 636.1 L1142.5 636.9 L1142.5 637.6 L1142.6 638.4 L1142.6 639.1 L1142.7 639.9 L1142.7 640.6 L1142.8 641.4 L1142.8 642.1 L1142.9 642.9 L1142.9 643.6 L1143.0 644.4 L1143.0 645.1 L1143.0 645.9 L1143.1 646.6 L1143.1 647.4 L1143.2 648.1 L1143.2 648.9 L1143.3 649.6 L1143.3 650.4 L1143.4 651.1 L1143.4 651.9 L1143.5 652.6 L1143.5 653.4 L1143.6 654.1 L1143.6 654.9 L1143.7 655.6 L1143.7 656.4 L1143.7 657.1 L1143.8 657.9 L1143.8 658.6 L1143.9 659.4 L1143.9 660.1 L1144.0 660.9 L1144.0 661.6 L1144.1 662.4 L1144.1 663.1 L1144.2 663.9 L1144.2 664.6 L1144.3 665.4 L1144.3 666.1 L1144.3 666.9 L1144.4 667.6 L1144.4 668.4 L1144.5 669.1 L1144.5 669.9 L1144.6 670.6 L1144.6 671.4 L1144.7 672.1 L1144.7 672.9 L1144.8 673.6 L1144.8 674.4 L1144.8 675.1 L1144.9 675.9 L1144.9 676.6 L1145.0 677.4 L1145.0 678.1 L1145.1 678.9 L1145.1 679.6 L1145.2 680.4 L1145.2 681.1 L1145.3 681.9 L1145.3 682.6 L1145.3 683.4 L1145.4 684.1 L1145.4 684.9 L1145.5 685.6 L1145.5 686.4 L1145.6 687.1 L1145.6 687.9 L1145.7 688.6 L1145.7 689.4 L1145.8 690.1 L1145.8 690.9 L1145.8 691.6 L1145.9 692.4 L1145.9 693.1 L1146.0 693.9 L1146.0 694.6 L1146.1 695.4 L1146.1 696.1 L1146.2 696.9 L1146.2 697.6 L1146.2 698.4 L1146.3 699.1 L1146.3 699.9 L1146.4 700.6 L1146.4 701.4 L1146.5 702.1 L1146.5 702.9 L1146.6 703.6 L1146.6 704.4 L1146.7 705.1 L1146.7 705.9 L1146.7 706.6 L1146.8 707.4 L1146.8 708.1 L1146.9 708.9 L1146.9 709.6 L1147.0 710.4 L1147.0 711.1 L1147.1 711.9 L1147.1 712.6 L1147.1 713.4 L1147.2 714.1 L1147.2 714.9 L1147.3 715.6 L1147.3 716.4 L1147.4 717.1 L1147.4 717.9 L1147.5 718.6 L1147.5 719.4 L1147.5 720.1 L1147.6 720.9 L1147.6 721.6 L1147.7 722.4 L1147.7 723.1 L1147.8 723.9 L1147.8 724.6 L1147.9 725.4 L1147.9 726.1 L1148.0 726.9 L1148.0 727.6 L1148.0 728.4 L1148.1 729.1 L1148.1 729.9 L1148.2 730.6 L1148.2 731.4 L1148.3 732.1 L1148.3 732.9 L1148.4 733.6 L1148.4 734.4 L1148.4 735.1 L1148.5 735.9 L1148.5 736.6 L1148.6 737.4 L1148.6 738.1 L1148.7 738.9 L1148.7 739.6 L1148.8 740.4 L1148.8 741.1 L1148.9 741.9 L1148.9 742.6 L1148.9 743.4 L1149.0 744.1 L1149.0 744.9 L1149.1 745.6 L1149.1 746.4 L1149.2 747.1 L1149.2 747.9 L1149.3 748.6 L1149.3 749.4 L1149.3 750.1 L1149.4 750.9 L1149.4 751.6 L1149.5 752.4 L1149.5 753.1 L1149.6 753.9 L1149.6 754.6 L1149.7 755.4 L1149.7 756.1 L1149.8 756.9 L1149.8 757.6 L1149.8 758.4 L1149.9 759.1 L1149.9 759.9 L1150.0 760.6 L1150.0 761.4 L1150.1 762.1 L1150.1 762.9 L1150.2 763.6 L1150.2 764.4 L1150.3 765.1 L1150.3 765.9 L1150.4 766.6 L1150.4 767.4 L1150.4 768.1 L1150.5 768.9 L1150.5 769.6 L1150.6 770.4 L1150.6 771.1 L1150.7 771.9 L1150.7 772.6 L1150.8 773.4 L1150.8 774.1 L1150.9 774.9 L1150.9 775.6 L1150.9 776.4 L1151.0 777.1 L1151.0 777.9 L1151.1 778.6 L1151.1 779.4 L1151.2 780.1 L1151.2 780.9 L1151.3 781.6 L1151.3 782.4 L1151.4 783.1 L1151.4 783.9 L1151.5 784.6 L1151.5 785.4 L1151.6 786.1 L1151.6 786.9 L1151.6 787.6 L1151.7 788.4 L1151.7 789.1 L1151.8 789.9 L1151.8 790.6 L1151.9 791.4 L1151.9 792.1 L1152.0 792.9 L1152.0 793.6 L1152.1 794.4 L1152.1 795.1 L1152.2 795.9 L1152.2 796.6 L1152.3 797.4 L1152.3 798.1 L1152.4 798.9 L1152.4 799.6 L1152.5 800.4 L1152.5 801.1 L1152.5 801.9 L1152.6 802.6 L1152.6 803.4 L1152.7 804.1 L1152.7 804.9 L1152.8 805.6 L1152.8 806.4 L1152.9 807.1 L1152.9 807.9 L1153.0 808.6 L1153.0 809.4 L1153.1 810.1 L1153.1 810.9 L1153.2 811.6 L1153.2 812.4 L1153.3 813.1 L1153.3 813.9 L1153.4 814.6 L1153.4 815.4 L1153.5 816.1 L1153.5 816.9 L1153.6 817.6 L1153.6 818.4 L1153.7 819.1 L1153.7 819.9 L1153.8 820.6 L1153.8 821.4 L1153.9 822.1 L1153.9 822.9 L1154.0 823.6 L1154.0 824.4 L1154.1 825.1 L1154.1 825.9 L1154.2 826.6 L1154.2 827.4 L1154.2 828.1 L1154.3 828.9 L1154.3 829.6 L1154.4 830.4 L1154.4 831.1 L1154.5 831.9 L1154.5 832.6 L1154.6 833.4 L1154.7 834.1 L1154.7 834.9 L1154.8 835.6 L1154.8 836.4 L1154.9 837.1 L1154.9 837.9 L1155.0 838.6 L1155.0 839.4 L1155.1 840.1 L1155.1 840.9 L1155.2 841.6 L1155.2 842.4 L1155.3 843.1 L1155.3 843.9 L1155.4 844.6 L1155.4 845.4 L1155.5 846.1 L1155.5 846.9 L1155.6 847.6 L1155.6 848.4 L1155.7 849.1 L1155.7 849.9 L1155.8 850.6 L1155.8 851.4 L1155.9 852.1 L1155.9 852.9 L1156.0 853.6 L1156.0 854.4 L1156.1 855.1 L1156.1 855.9 L1156.2 856.6 L1156.2 857.4 L1156.3 858.1 L1156.4 858.9 L1156.4 859.6 L1156.5 860.4 L1156.5 861.1 L1156.6 861.9 L1156.6 862.6 L1156.7 863.4 L1156.7 864.1 L1156.8 864.9 L1156.8 865.6 L1156.9 866.4 L1156.9 867.1 L1157.0 867.9 L1157.0 868.6 L1157.1 869.4 L1157.2 870.1 L1157.2 870.9 L1157.3 871.6 L1157.3 872.4 L1157.4 873.1 L1157.4 873.9 L1157.5 874.6 L1157.5 875.4 L1157.6 876.1 L1157.6 876.9 L1157.7 877.6 L1157.8 878.4 L1157.8 879.1 L1157.9 879.9 L1157.9 880.6 L1158.0 881.4 L1158.0 882.1 L1158.1 882.9 L1158.1 883.6 L1158.2 884.4 L1158.3 885.1 L1158.3 885.9 L1158.4 886.6 L1158.4 887.4 L1158.5 888.1 L1158.5 888.9 L1158.6 889.6 L1158.6 890.4 L1158.7 891.1 L1158.8 891.9 L1158.8 892.6 L1158.9 893.4 L1158.9 894.1 L1159.0 894.9 L1159.0 895.6 L1159.1 896.4 L1159.2 897.1 L1159.2 897.9 L1159.3 898.6 L1159.3 899.4 L1159.4 900.1 L1159.5 900.9 L1159.5 901.6 L1159.6 902.4 L1159.6 903.1 L1159.7 903.9 L1159.7 904.6 L1159.8 905.4 L1159.9 906.1 L1159.9 906.9 L1160.0 907.6 L1160.0 908.4 L1160.1 909.1 L1160.2 909.9 L1160.2 910.6 L1160.3 911.4 L1160.3 912.1 L1160.4 912.9 L1160.5 913.6 L1160.5 914.4 L1160.6 915.1 L1160.6 915.9 L1160.7 916.6 L1160.8 917.4 L1160.8 918.1 L1160.9 918.9 L1160.9 919.6 L1161.0 920.4 L1161.1 921.1 L1161.1 921.9 L1161.2 922.6 L1161.3 923.4 L1161.3 924.1 L1161.4 924.9 L1161.4 925.6 L1161.5 926.4 L1161.6 927.1 L1161.6 927.9 L1161.7 928.6 L1161.7 929.4 L1161.8 930.1 L1161.9 930.9 L1161.9 931.6 L1162.0 932.4 L1162.1 933.1 L1162.1 933.9 L1162.2 934.6 L1162.3 935.4 L1162.3 936.1 L1162.4 936.9 L1162.4 937.6 L1162.5 938.4 L1162.6 939.1 L1162.6 939.9 L1162.7 940.6 L1162.8 941.4 L1162.8 942.1 L1162.9 942.9 L1163.0 943.6 L1163.0 944.4 L1163.1 945.1 L1163.2 945.9 L1163.2 946.6 L1163.3 947.4 L1163.4 948.1 L1163.4 948.9 L1163.5 949.6 L1163.6 950.4 L1163.6 951.1 L1163.7 951.9 L1163.7 952.6 L1163.8 953.4 L1163.9 954.1 L1163.9 954.9 L1164.0 955.6 L1164.1 956.4 L1164.2 957.1 L1164.2 957.9 L1164.3 958.6 L1164.4 959.4 L1164.4 960.1 L1164.5 960.9 L1164.6 961.6 L1164.6 962.4 L1164.7 963.1 L1164.8 963.9 L1164.8 964.6 L1164.9 965.4 L1165.0 966.1 L1165.0 966.9 L1165.1 967.6 L1165.2 968.4 L1165.2 969.1 L1165.3 969.9 L1165.4 970.6 L1165.5 971.4 L1165.5 972.1 L1165.6 972.9 L1165.7 973.6 L1165.7 974.4 L1165.8 975.1 L1165.9 975.9 L1165.9 976.6 L1166.0 977.4 L1166.1 978.1 L1166.2 978.9 L1166.2 979.6 L1166.3 980.4 L1166.4 981.1 L1166.4 981.9 L1166.5 982.6 L1166.6 983.4 L1166.7 984.1 L1166.7 984.9 L1166.8 985.6 L1166.9 986.4 L1167.0 987.1 L1167.0 987.9 L1167.1 988.6 L1167.2 989.4 L1167.2 990.1 L1167.3 990.9 L1167.4 991.6 L1167.5 992.4 L1167.5 993.1 L1167.6 993.9 L1167.7 994.6 L1167.8 995.4 L1167.8 996.1 L1167.9 996.9 L1168.0 997.6 L1168.1 998.4 L1168.1 999.1 L1168.2 999.9 L1168.3 1000.6 L1168.4 1001.4 L1168.4 1002.1 L1168.5 1002.9 L1168.6 1003.6 L1168.7 1004.4 L1168.7 1005.1 L1168.8 1005.9 L1168.9 1006.6 L1169.0 1007.4 L1169.0 1008.1 L1169.1 1008.9 L1169.2 1009.6 L1169.3 1010.4 L1169.4 1011.1 L1169.4 1011.9 L1169.5 1012.6 L1169.6 1013.4 L1169.7 1014.1 L1169.7 1014.9 L1169.8 1015.6 L1169.9 1016.4 L1170.0 1017.1 L1170.1 1017.9 L1170.1 1018.6 L1170.2 1019.4 L1170.3 1020.1 L1170.4 1020.9 L1170.5 1021.6 L1170.5 1022.4 L1170.6 1023.1 L1170.7 1023.9 L1170.8 1024.6 L1170.9 1025.4 L1170.9 1026.1 L1171.0 1026.9 L1171.1 1027.6 L1171.2 1028.4 L1171.3 1029.1 L1171.3 1029.9 L1171.4 1030.6 L1171.5 1031.4 L1171.6 1032.1 L1171.7 1032.9 L1171.8 1033.6 L1171.8 1034.4 L1171.9 1035.1 L1172.0 1035.9 L1172.1 1036.6 L1172.2 1037.4 L1172.2 1038.1 L1172.3 1038.9 L1172.4 1039.6 L1172.5 1040.4 L1172.6 1041.1 L1172.7 1041.9 L1172.7 1042.6 L1172.8 1043.4 L1172.9 1044.1 L1173.0 1044.9 L1173.1 1045.6 L1173.2 1046.4 L1173.3 1047.1 L1173.3 1047.9 L1173.4 1048.6 L1173.5 1049.4 L1173.6 1050.1 L1173.7 1050.9 L1173.8 1051.6 L1173.9 1052.4 L1173.9 1053.1 L1174.0 1053.9 L1174.1 1054.6 L1174.2 1055.4 L1174.3 1056.1 L1174.4 1056.9 L1174.5 1057.6 L1174.6 1058.4 L1174.6 1059.1 L1174.7 1059.9 L1174.8 1060.6 L1174.9 1061.4 L1175.0 1062.1 L1175.1 1062.9 L1175.2 1063.6 L1175.3 1064.4 L1175.4 1065.1 L1175.4 1065.9 L1175.5 1066.6 L1175.6 1067.4 L1175.7 1068.1 L1175.8 1068.9 L1175.9 1069.6 L1176.0 1070.4 L1176.1 1071.1 L1176.2 1071.9 L1176.3 1072.6 L1176.3 1073.4 L1176.4 1074.1 L1176.5 1074.9 L1176.6 1075.6 L1176.7 1076.4 L1176.8 1077.1 L1176.9 1077.9 L1177.0 1078.6 L1177.1 1079.4 L1177.2 1080.1 L1177.3 1080.9 L1177.4 1081.6 L1177.5 1082.4 L1177.5 1083.1 L1177.6 1083.9 L1177.7 1084.6 L1177.8 1085.4 L1177.9 1086.1 L1178.0 1086.9 L1178.1 1087.6 L1178.2 1088.4 L1178.3 1089.1 L1178.4 1089.9 L1178.5 1090.6 L1178.6 1091.4 L1178.7 1092.1 L1178.8 1092.9 L1178.9 1093.6 L1179.0 1094.4 L1179.1 1095.1 L1179.2 1095.9 L1179.3 1096.6 L1179.4 1097.4 L1179.5 1098.1 L1179.5 1098.9 L1179.6 1099.6 L1179.7 1100.4 L1179.8 1101.1 L1179.9 1101.9 L1180.0 1102.6 L1180.1 1103.4 L1180.2 1104.1 L1180.3 1104.9 L1180.4 1105.6 L1180.5 1106.4 L1180.6 1107.1 L1180.7 1107.9 L1180.8 1108.6 L1180.9 1109.4 L1181.0 1110.1 L1181.1 1110.9 L1181.2 1111.6 L1181.3 1112.4 L1181.4 1113.1 L1181.5 1113.9 L1181.6 1114.6 L1181.7 1115.4 L1181.8 1116.1 L1181.9 1116.9 L1182.0 1117.6 L1182.1 1118.4 L1182.2 1119.1 L1182.4 1119.9 L1182.5 1120.6 L1182.6 1121.4 L1182.7 1122.1 L1182.8 1122.9 L1182.9 1123.6 L1183.0 1124.4 L1183.1 1125.1 L1183.2 1125.9 L1183.3 1126.6 L1183.4 1127.4 L1183.5 1128.1 L1183.6 1128.9 L1183.7 1129.6 L1183.8 1130.4 L1183.9 1131.1 L1184.0 1131.9 L1184.1 1132.6 L1184.2 1133.4 L1184.3 1134.1 L1184.4 1134.9 L1184.6 1135.6 L1184.7 1136.4 L1184.8 1137.1 L1184.9 1137.9 L1185.0 1138.6 L1185.1 1139.4 L1185.2 1140.1 L1185.3 1140.9 L1185.4 1141.6 L1185.5 1142.4 L1185.6 1143.1 L1185.7 1143.9 L1185.9 1144.6 L1186.0 1145.4 L1186.1 1146.1 L1186.2 1146.9 L1186.3 1147.6 L1186.4 1148.4 L1186.5 1149.1 L1186.6 1149.9 L1186.7 1150.6 L1186.8 1151.4 L1187.0 1152.1 L1187.1 1152.9 L1187.2 1153.6 L1187.3 1154.4 L1187.4 1155.1 L1187.5 1155.9 L1187.6 1156.6 L1187.7 1157.4 L1187.9 1158.1 L1188.0 1158.9 L1188.1 1159.6 L1188.2 1160.4 L1188.3 1161.1 L1188.4 1161.9 L1188.5 1162.6 L1188.7 1163.4 L1188.8 1164.1 L1188.9 1164.9 L1189.0 1165.6 L1189.1 1166.4 L1189.2 1167.1 L1189.3 1167.9 L1189.5 1168.6 L1189.6 1169.4 L1189.7 1170.1 L1189.8 1170.9 L1189.9 1171.6 L1190.0 1172.4 L1190.2 1173.1 L1190.3 1173.9 L1190.4 1174.6 L1190.5 1175.4 L1190.6 1176.1 L1190.7 1176.9 L1190.9 1177.6 L1191.0 1178.4 L1191.1 1179.1 L1191.2 1179.9 L1191.3 1180.6 L1191.5 1181.4 L1191.6 1182.1 L1191.7 1182.9 L1191.8 1183.6 L1191.9 1184.4 L1192.1 1185.1 L1192.2 1185.9 L1192.3 1186.6 L1192.4 1187.4 L1192.5 1188.1 L1192.7 1188.9 L1192.8 1189.6 L1192.9 1190.4 L1193.0 1191.1 L1193.2 1191.9 L1193.3 1192.6 L1193.4 1193.4 L1193.5 1194.1 L1193.7 1194.9 L1193.8 1195.6 L1193.9 1196.4 L1194.0 1197.1 L1194.2 1197.9 L1194.3 1198.6 L1194.4 1199.4 L1194.5 1200.1 L1194.7 1200.9 L1194.8 1201.6 L1194.9 1202.4 L1195.0 1203.1 L1195.2 1203.9 L1195.3 1204.6 L1195.4 1205.4 L1195.5 1206.1 L1195.7 1206.9 L1195.8 1207.6 L1195.9 1208.4 L1196.0 1209.1 L1196.2 1209.9 L1196.3 1210.6 L1196.4 1211.4 L1196.6 1212.1 L1196.7 1212.9 L1196.8 1213.6 L1196.9 1214.4 L1197.1 1215.1 L1197.2 1215.9 L1197.3 1216.6 L1197.5 1217.4 L1197.6 1218.1 L1197.7 1218.9 L1197.9 1219.6 L1198.0 1220.4 L1198.1 1221.1 L1198.3 1221.9 L1198.4 1222.6 L1198.5 1223.4 L1198.7 1224.1 L1198.8 1224.9 L1198.9 1225.6 L1199.1 1226.4 L1199.2 1227.1 L1199.3 1227.9 L1199.5 1228.6 L1199.6 1229.4 L1199.7 1230.1 L1199.9 1230.9 L1200.0 1231.6 L1200.1 1232.4 L1200.3 1233.1 L1200.4 1233.9 L1200.5 1234.6 L1200.7 1235.4 L1200.8 1236.1 L1200.9 1236.9 L1201.1 1237.6 L1201.2 1238.4 L1201.3 1239.1 L1201.5 1239.9 L1201.6 1240.6 L1201.8 1241.4 L1201.9 1242.1 L1202.0 1242.9 L1202.2 1243.6 L1202.3 1244.4 L1202.4 1245.1 L1202.6 1245.9 L1202.7 1246.6 L1202.9 1247.4 L1203.0 1248.1 L1203.1 1248.9 L1203.3 1249.6 L1203.4 1250.4 L1203.6 1251.1 L1203.7 1251.9 L1203.8 1252.6 L1204.0 1253.4 L1204.1 1254.1 L1204.3 1254.9 L1204.4 1255.6 L1204.5 1256.4 L1204.7 1257.1 L1204.8 1257.9 L1205.0 1258.6 L1205.1 1259.4 L1205.2 1260.1 L1205.4 1260.9 L1205.5 1261.6 L1205.7 1262.4 L1205.8 1263.1 L1205.9 1263.9 L1206.1 1264.6 L1206.2 1265.4 L1206.4 1266.1 L1206.5 1266.9 L1206.6 1267.6 L1206.8 1268.4 L1206.9 1269.1 L1207.1 1269.9 L1207.2 1270.6 L1207.3 1271.4 L1207.5 1272.1 L1207.6 1272.9 L1207.8 1273.6 L1207.9 1274.4 L1208.1 1275.1 L1208.2 1275.9 L1208.3 1276.6 L1208.5 1277.4 L1208.6 1278.1 L1208.8 1278.9 L1208.9 1279.6 L1209.0 1280.4 L1209.2 1281.1 L1209.3 1281.9 L1209.5 1282.6 L1209.6 1283.4 L1209.8 1284.1 L1209.9 1284.9 L1210.0 1285.6 L1210.2 1286.4 L1210.3 1287.1 L1210.5 1287.9 L1210.6 1288.6 L1210.8 1289.4 L1210.9 1290.1 L1211.0 1290.9 L1211.2 1291.6 L1211.3 1292.4 L1211.5 1293.1 L1211.6 1293.9 L1211.8 1294.6 L1211.9 1295.4 L1212.0 1296.1 L1212.2 1296.9 L1212.3 1297.6 L1212.5 1298.4 L1212.6 1299.1 L1212.8 1299.9 L1212.9 1300.6 L1213.0 1301.4 L1213.2 1302.1 L1213.3 1302.9 L1213.5 1303.6 L1213.6 1304.4 L1213.7 1305.1 L1213.9 1305.9 L1214.0 1306.6 L1214.2 1307.4 L1214.3 1308.1 L1214.5 1308.9 L1214.6 1309.6 L1214.7 1310.4 L1214.9 1311.1 L1215.0 1311.9 L1215.2 1312.6 L1215.3 1313.4 L1215.4 1314.1 L1215.6 1314.9 L1215.7 1315.6 L1215.9 1316.4 L1216.0 1317.1 L1216.2 1317.9 L1216.3 1318.6 L1216.4 1319.4 L1216.6 1320.1 L1216.7 1320.9 L1216.9 1321.6 L1217.0 1322.4 L1217.1 1323.1 L1217.3 1323.9 L1217.4 1324.6 L1217.6 1325.4 L1217.7 1326.1 L1217.8 1326.9 L1218.0 1327.6 L1218.1 1328.4 L1218.3 1329.1 L1218.4 1329.9 L1218.5 1330.6 L1218.7 1331.4 L1218.8 1332.1 L1219.0 1332.9 L1219.1 1333.6 L1219.2 1334.4 L1219.4 1335.1 L1219.5 1335.9 L1219.6 1336.6 L1219.8 1337.4 L1219.9 1338.1 L1220.1 1338.9 L1220.2 1339.6 L1220.3 1340.4 L1220.5 1341.1 L1220.6 1341.9 L1220.7 1342.6 L1220.9 1343.4 L1221.0 1344.1 L1221.2 1344.9 L1221.3 1345.6 L1221.4 1346.4 L1221.6 1347.1 L1221.7 1347.9 L1221.8 1348.6 L1222.0 1349.4 L1222.1 1350.1 L1222.2 1350.9 L1222.4 1351.6 L1222.5 1352.4 L1222.6 1353.1 L1222.8 1353.9 L1222.9 1354.6 L1223.0 1355.4 L1223.2 1356.1 L1223.3 1356.9 L1223.4 1357.6 L1223.6 1358.4 L1223.7 1359.1 L1223.8 1359.9 L1224.0 1360.6 L1224.1 1361.4 L1224.2 1362.1 L1224.4 1362.9 L1224.5 1363.6 L1224.6 1364.4 L1224.8 1365.1 L1224.9 1365.9 L1225.0 1366.6 L1225.2 1367.4 L1225.3 1368.1 L1225.4 1368.9 L1225.5 1369.6 L1225.7 1370.4 L1225.8 1371.1 L1225.9 1371.9 L1226.1 1372.6 L1226.2 1373.4 L1226.3 1374.1 L1226.4 1374.9 L1226.6 1375.6 L1226.7 1376.4 L1226.8 1377.1 L1227.0 1377.9 L1227.1 1378.6 L1227.2 1379.4 L1227.3 1380.1 L1227.5 1380.9 L1227.6 1381.6 L1227.7 1382.4 L1227.8 1383.1 L1228.0 1383.9 L1228.1 1384.6 L1228.2 1385.4 L1228.3 1386.1 L1228.4 1386.9 L1228.6 1387.6 L1228.7 1388.4 L1228.8 1389.1 L1228.9 1389.9 L1229.1 1390.6 L1229.2 1391.4 L1229.3 1392.1 L1229.4 1392.9 L1229.5 1393.6 L1229.7 1394.4 L1229.8 1395.1 L1229.9 1395.9 L1230.0 1396.6 L1230.1 1397.4 L1230.3 1398.1 L1230.4 1398.9 L1230.5 1399.6 L1230.6 1400.4 L1230.7 1401.1 L1230.8 1401.9 L1231.0 1402.6 L1231.1 1403.4 L1231.2 1404.1 L1231.3 1404.9 L1231.4 1405.6 L1231.5 1406.4 L1231.6 1407.1 L1231.8 1407.9 L1231.9 1408.6 L1232.0 1409.4 L1232.1 1410.1 L1232.2 1410.9 L1232.3 1411.6 L1232.4 1412.4 L1232.5 1413.1 L1232.7 1413.9 L1232.8 1414.6 L1232.9 1415.4 L1233.0 1416.1 L1233.1 1416.9 L1233.2 1417.6 L1233.3 1418.4 L1233.4 1419.1 L1233.5 1419.9 L1233.6 1420.6 L1233.7 1421.4 L1233.8 1422.1 L1233.9 1422.9 L1234.0 1423.6 L1234.2 1424.4 L1234.3 1425.1 L1234.4 1425.9 L1234.5 1426.6 L1234.6 1427.4 L1234.7 1428.1 L1234.8 1428.8 L1234.9 1429.6 L1235.0 1430.2 L1235.1 1431.0 L1235.2 1431.7 L1235.2 1432.4 L1235.3 1433.2 L1235.5 1433.9 L1235.6 1434.7 L1235.7 1435.4 L1235.9 1436.2 L1236.0 1436.9 L1236.2 1437.7 L1236.4 1438.4 L1236.6 1439.1 L1236.8 1439.8 L1237.0 1440.6 L1237.2 1441.3 L1237.4 1442.0 L1237.6 1442.7 L1237.8 1443.4 L1238.0 1444.1 L1238.3 1444.8 L1238.5 1445.5 L1238.8 1446.2 L1239.1 1446.9 L1239.4 1447.6 L1239.7 1448.3 L1240.0 1449.0 L1240.3 1449.7 L1240.7 1450.4 L1241.1 1451.0 L1241.4 1451.7 L1241.8 1452.3 L1242.2 1452.9 L1242.7 1453.5 L1243.1 1454.1 L1243.6 1454.7 L1244.1 1455.2 L1244.6 1455.7 L1245.2 1456.3 L1245.8 1456.8 L1246.4 1457.3 L1247.0 1457.8 L1247.6 1458.2 L1248.2 1458.6 L1248.9 1458.9 L1249.5 1459.2 L1250.2 1459.5 L1250.9 1459.8 L1251.6 1460.0 L1252.3 1460.1 L1253.0 1460.3 L1253.7 1460.5 L1254.4 1460.6 L1255.2 1460.8 L1255.9 1460.9 L1256.7 1461.1 L1257.4 1461.2 L1258.2 1461.3 L1259.0 1461.4 L1259.7 1461.5 L1260.5 1461.6 L1261.2 1461.7 L1262.0 1461.8 L1262.7 1461.9 L1263.5 1462.0 L1264.2 1462.0 L1265.0 1462.1 L1265.7 1462.2 L1266.4 1462.2 L1267.2 1462.3 L1267.9 1462.4 L1268.7 1462.4 L1269.4 1462.5 L1270.2 1462.6 L1270.9 1462.6 L1271.7 1462.7 L1272.4 1462.7 L1273.2 1462.8 L1273.9 1462.8 L1274.7 1462.9 L1275.4 1462.9 L1276.2 1463.0 L1276.9 1463.0 L1277.6 1463.1 L1278.4 1463.1 L1279.1 1463.2 L1279.9 1463.2 L1280.6 1463.3 L1281.4 1463.3 L1282.1 1463.3 L1282.9 1463.4 L1283.6 1463.4 L1284.4 1463.5 L1285.1 1463.5 L1285.9 1463.6 L1286.6 1463.6 L1287.4 1463.6 L1288.1 1463.7 L1288.9 1463.7 L1289.6 1463.8 L1290.4 1463.8 L1291.1 1463.9 L1291.9 1463.9 L1292.6 1464.0 L1293.4 1464.0 L1294.1 1464.0 L1294.9 1464.1 L1295.6 1464.1 L1296.4 1464.2 L1297.1 1464.2 L1297.9 1464.2 L1298.6 1464.3 L1299.4 1464.3 L1300.1 1464.4 L1300.8 1464.4 L1301.6 1464.4 L1302.3 1464.5 L1303.1 1464.5 L1303.8 1464.6 L1304.6 1464.6 L1305.3 1464.6 L1306.1 1464.7 L1306.8 1464.7 L1307.6 1464.8 L1308.3 1464.8 L1309.1 1464.8 L1309.8 1464.9 L1310.6 1464.9 L1311.3 1464.9 L1312.1 1465.0 L1312.8 1465.0 L1313.6 1465.0 L1314.3 1465.1 L1315.1 1465.1 L1315.8 1465.2 L1316.6 1465.2 L1317.3 1465.2 L1318.1 1465.3 L1318.8 1465.3 L1319.6 1465.3 L1320.3 1465.4 L1321.1 1465.4 L1321.8 1465.4 L1322.5 1465.5 L1323.3 1465.5 L1324.0 1465.5 L1324.8 1465.6 L1325.5 1465.6 L1326.3 1465.6 L1327.0 1465.7 L1327.8 1465.7 L1328.5 1465.8 L1329.3 1465.8 L1330.0 1465.8 L1330.8 1465.9 L1331.5 1465.9 L1332.3 1465.9 L1333.0 1466.0 L1333.8 1466.0 L1334.5 1466.0 L1335.3 1466.1 L1336.0 1466.1 L1336.8 1466.1 L1337.5 1466.2 L1338.3 1466.2 L1339.0 1466.3 L1339.8 1466.3 L1340.5 1466.3 L1341.3 1466.4 L1342.0 1466.4 L1342.8 1466.4 L1343.5 1466.5 L1344.2 1466.5 L1345.0 1466.5 L1345.7 1466.6 L1346.5 1466.6 L1347.2 1466.6 L1348.0 1466.7 L1348.7 1466.7 L1349.5 1466.7 L1350.2 1466.8 L1351.0 1466.8 L1351.7 1466.8 L1352.5 1466.9 L1353.2 1466.9 L1354.0 1466.9 L1354.7 1467.0 L1355.5 1467.0 L1356.2 1467.0 L1357.0 1467.1 L1357.7 1467.1 L1358.5 1467.1 L1359.2 1467.2 L1360.0 1467.2 L1360.7 1467.2 L1361.5 1467.3 L1362.2 1467.3 L1363.0 1467.3 L1363.7 1467.4 L1364.5 1467.4 L1365.2 1467.4 L1366.0 1467.4 L1366.7 1467.5 L1367.5 1467.5 L1368.2 1467.5 L1369.0 1467.6 L1369.7 1467.6 L1370.4 1467.6 L1371.2 1467.7 L1371.9 1467.7 L1372.7 1467.7 L1373.4 1467.8 L1374.2 1467.8 L1374.9 1467.8 L1375.7 1467.9 L1376.4 1467.9 L1377.2 1467.9 L1377.9 1468.0 L1378.7 1468.0 L1379.4 1468.0 L1380.2 1468.1 L1380.9 1468.1 L1381.7 1468.1 L1382.4 1468.2 L1383.2 1468.2 L1383.9 1468.2 L1384.7 1468.3 L1385.4 1468.3 L1386.2 1468.4 L1386.9 1468.4 L1387.7 1468.4 L1388.4 1468.5 L1389.2 1468.5 L1389.9 1468.5 L1390.7 1468.6 L1391.4 1468.6 L1392.2 1468.7 L1392.9 1468.7 L1393.6 1468.7 L1394.4 1468.8 L1395.1 1468.8 L1395.9 1468.9 L1396.6 1468.9 L1397.4 1469.0 L1398.1 1469.0 L1398.9 1469.0 L1399.6 1469.1 L1400.4 1469.1 L1401.1 1469.2 L1401.9 1469.2 L1402.6 1469.3 L1403.4 1469.3 L1404.1 1469.4 L1404.9 1469.4 L1405.6 1469.5 L1406.3 1469.5 L1407.1 1469.6 L1407.8 1469.6 L1408.6 1469.7 L1409.3 1469.8 L1410.1 1469.8 L1410.8 1469.9 L1411.6 1470.0 L1412.3 1470.0 L1413.1 1470.1 L1413.8 1470.2 L1414.6 1470.3 L1415.3 1470.4 L1416.0 1470.4 L1416.8 1470.5 L1417.5 1470.6 L1418.3 1470.7 L1419.0 1470.7 L1419.8 1470.8 L1420.5 1470.9 L1421.3 1471.0 L1422.0 1471.1 L1422.8 1471.1 L1423.5 1471.2 L1424.2 1471.3 L1425.0 1471.3 L1425.7 1471.4 L1426.5 1471.5 L1427.2 1471.5 L1428.0 1471.6 L1428.7 1471.7 L1429.5 1471.7 L1430.2 1471.8 L1431.0 1471.8 L1431.7 1471.9 L1432.5 1471.9 L1433.2 1472.0 L1433.9 1472.0 L1434.7 1472.1 L1435.4 1472.1 L1436.2 1472.2 L1436.9 1472.3 L1437.7 1472.3 L1438.4 1472.4 L1439.2 1472.4 L1439.9 1472.5 L1440.7 1472.5 L1441.4 1472.6 L1442.2 1472.6 L1442.9 1472.7 L1443.7 1472.7 L1444.4 1472.8 L1445.2 1472.8 L1445.9 1472.9 L1446.7 1472.9 L1447.4 1473.0 L1448.1 1473.0 L1448.9 1473.1 L1449.6 1473.1 L1450.4 1473.2 L1451.1 1473.2 L1451.9 1473.3 L1452.6 1473.3 L1453.4 1473.4 L1454.1 1473.4 L1454.9 1473.5 L1455.6 1473.5 L1456.4 1473.6 L1457.1 1473.6 L1457.9 1473.7 L1458.6 1473.7 L1459.4 1473.7 L1460.1 1473.8 L1460.9 1473.8 L1461.6 1473.9 L1462.4 1473.9 L1463.1 1474.0 L1463.9 1474.0 L1464.6 1474.1 L1465.3 1474.1 L1466.1 1474.1 L1466.8 1474.2 L1467.6 1474.2 L1468.3 1474.3 L1469.1 1474.3 L1469.8 1474.3 L1470.6 1474.4 L1471.3 1474.4 L1472.1 1474.5 L1472.8 1474.5 L1473.6 1474.5 L1474.3 1474.6 L1475.1 1474.6 L1475.8 1474.7 L1476.6 1474.7 L1477.3 1474.7 L1478.1 1474.8 L1478.8 1474.8 L1479.6 1474.8 L1480.3 1474.9 L1481.1 1474.9 L1481.8 1474.9 L1482.6 1475.0 L1483.3 1475.0 L1484.1 1475.0 L1484.8 1475.1 L1485.6 1475.1 L1486.3 1475.1 L1487.1 1475.2 L1487.8 1475.2 L1488.5 1475.2 L1489.3 1475.3 L1490.0 1475.3 L1490.8 1475.3 L1491.5 1475.3 L1492.3 1475.4 L1493.0 1475.4 L1493.8 1475.4 L1494.5 1475.5 L1495.3 1475.5 L1496.0 1475.5 L1496.8 1475.5 L1497.5 1475.6 L1498.3 1475.6 L1499.0 1475.6 L1499.8 1475.6 L1500.5 1475.6 L1501.3 1475.7 L1502.0 1475.7 L1502.8 1475.7 L1503.5 1475.7 L1504.3 1475.8 L1505.0 1475.8 L1505.8 1475.8 L1506.5 1475.8 L1507.3 1475.8 L1508.0 1475.9 L1508.8 1475.9 L1509.5 1475.9 L1510.3 1475.9 L1511.0 1476.0 L1511.8 1476.0 L1512.5 1476.0 L1513.2 1476.0 L1514.0 1476.0 L1514.7 1476.1 L1515.5 1476.1 L1516.2 1476.1 L1517.0 1476.1 L1517.7 1476.2 L1518.5 1476.2 L1519.2 1476.2 L1520.0 1476.2 L1520.7 1476.2 L1521.5 1476.3 L1522.2 1476.3 L1523.0 1476.3 L1523.7 1476.3 L1524.5 1476.3 L1525.2 1476.4 L1526.0 1476.4 L1526.7 1476.4 L1527.5 1476.4 L1528.2 1476.5 L1529.0 1476.5 L1529.7 1476.5 L1530.5 1476.5 L1531.2 1476.5 L1532.0 1476.6 L1532.7 1476.6 L1533.5 1476.6 L1534.2 1476.6 L1535.0 1476.6 L1535.7 1476.6 L1536.5 1476.7 L1537.2 1476.7 L1538.0 1476.7 L1538.7 1476.7 L1539.5 1476.7 L1540.2 1476.8 L1541.0 1476.8 L1541.7 1476.8 L1542.5 1476.8 L1543.2 1476.8 L1544.0 1476.9 L1544.7 1476.9 L1545.5 1476.9 L1546.2 1476.9 L1546.9 1476.9 L1547.7 1476.9 L1548.4 1477.0 L1549.2 1477.0 L1549.9 1477.0 L1550.7 1477.0 L1551.4 1477.0 L1552.2 1477.0 L1552.9 1477.0 L1553.7 1477.1 L1554.4 1477.1 L1555.2 1477.1 L1555.9 1477.1 L1556.7 1477.1 L1557.4 1477.1 L1558.2 1477.1 L1558.9 1477.2 L1559.7 1477.2 L1560.4 1477.2 L1561.2 1477.2 L1561.9 1477.2 L1562.7 1477.2 L1563.4 1477.2 L1564.2 1477.2 L1564.9 1477.3 L1565.7 1477.3 L1566.4 1477.3 L1567.2 1477.3 L1567.9 1477.3 L1568.7 1477.3 L1569.4 1477.3 L1570.2 1477.3 L1570.9 1477.3 L1571.7 1477.4 L1572.4 1477.4 L1573.2 1477.4 L1573.9 1477.4 L1574.7 1477.4 L1575.4 1477.4 L1576.2 1477.4 L1576.9 1477.4 L1577.7 1477.4 L1578.4 1477.4 L1579.2 1477.4 L1579.9 1477.4 L1580.7 1477.4 L1581.4 1477.5 L1582.2 1477.5 L1582.9 1477.5 L1583.7 1477.5 L1584.4 1477.5 L1585.2 1477.5 L1585.9 1477.5 L1586.7 1477.5 L1587.4 1477.5 L1588.1 1477.5 L1588.9 1477.5 L1589.6 1477.5 L1590.4 1477.5 L1591.1 1477.5 L1591.9 1477.5 L1592.6 1477.5 L1593.4 1477.5 L1594.1 1477.5 L1594.9 1477.5 L1595.6 1477.5 L1596.4 1477.5 L1597.1 1477.5 L1597.9 1477.5 L1598.6 1477.5 L1599.4 1477.5 L1600.1 1477.5 L1600.9 1477.5 L1601.6 1477.5 L1602.4 1477.5 L1603.1 1477.5 L1603.9 1477.5 L1604.6 1477.5 L1605.4 1477.5 L1606.1 1477.5 L1606.9 1477.5 L1607.6 1477.5 L1608.4 1477.5 L1609.1 1477.5 L1609.9 1477.5 L1610.6 1477.5 L1611.4 1477.5 L1612.1 1477.5 L1612.9 1477.5 L1613.6 1477.5 L1614.4 1477.5 L1615.1 1477.5 L1615.9 1477.5 L1616.6 1477.5 L1617.4 1477.5 L1618.1 1477.5 L1618.9 1477.5 L1619.6 1477.5 L1620.4 1477.5 L1621.1 1477.5 L1621.9 1477.5 L1622.6 1477.5 L1623.4 1477.5 L1624.1 1477.5 L1624.9 1477.5 L1625.6 1477.5 L1626.4 1477.5 L1627.1 1477.5 L1627.8 1477.5 L1628.6 1477.5 L1629.3 1477.5 L1630.1 1477.5 L1630.8 1477.5 L1631.6 1477.5 L1632.3 1477.5 L1633.1 1477.5 L1633.8 1477.5 L1634.6 1477.5 L1635.3 1477.5 L1636.1 1477.5 L1636.8 1477.5 L1637.6 1477.5 L1638.3 1477.5 L1639.1 1477.5 L1639.8 1477.5 L1640.6 1477.5 L1641.3 1477.5 L1642.1 1477.5 L1642.8 1477.5 L1643.6 1477.5 L1644.3 1477.5 L1645.1 1477.5 L1645.8 1477.5 L1646.6 1477.5 L1647.3 1477.5 L1648.1 1477.5 L1648.8 1477.5 L1649.6 1477.5 L1650.3 1477.5 L1651.1 1477.5 L1651.8 1477.5 L1652.6 1477.5 L1653.3 1477.5 L1654.1 1477.5 L1654.8 1477.5 L1655.6 1477.5 L1656.3 1477.5 L1657.1 1477.5 L1657.8 1477.5 L1658.6 1477.5 L1659.3 1477.5 L1660.1 1477.5 L1660.8 1477.5 L1661.6 1477.4 L1662.3 1477.4 L1663.1 1477.4 L1663.8 1477.4 L1664.6 1477.4 L1665.3 1477.4 L1666.1 1477.4 L1666.8 1477.4 L1667.5 1477.4 L1668.3 1477.4 L1669.0 1477.4 L1669.8 1477.4 L1670.5 1477.4 L1671.3 1477.4 L1672.0 1477.4 L1672.8 1477.4 L1673.5 1477.4 L1674.3 1477.4 L1675.0 1477.4 L1675.8 1477.4 L1676.5 1477.4 L1677.3 1477.4 L1678.0 1477.4 L1678.8 1477.4 L1679.5 1477.4 L1680.3 1477.4 L1681.0 1477.4 L1681.8 1477.4 L1682.5 1477.4 L1683.3 1477.4 L1684.0 1477.4 L1684.8 1477.4 L1685.5 1477.4 L1686.3 1477.4 L1687.0 1477.4 L1687.8 1477.4 L1688.5 1477.4 L1689.3 1477.4 L1690.0 1477.4 L1690.8 1477.4 L1691.5 1477.4 L1692.3 1477.4 L1693.0 1477.4 L1693.8 1477.4 L1694.5 1477.4 L1695.3 1477.4 L1696.0 1477.4 L1696.8 1477.4 L1697.5 1477.4 L1698.3 1477.4 L1699.0 1477.4 L1699.8 1477.4 L1700.5 1477.4 L1701.3 1477.4 L1702.0 1477.4 L1702.8 1477.4 L1703.5 1477.4 L1704.3 1477.4 L1705.0 1477.4 L1705.8 1477.4 L1706.5 1477.4 L1707.3 1477.4 L1708.0 1477.4 L1708.8 1477.4 L1709.5 1477.4 L1710.2 1477.4 L1711.0 1477.4 L1711.7 1477.4 L1712.5 1477.4 L1713.2 1477.4 L1714.0 1477.4 L1714.7 1477.4 L1715.5 1477.4 L1716.2 1477.4 L1717.0 1477.4 L1717.7 1477.4 L1718.5 1477.4 L1719.2 1477.4 L1720.0 1477.4 L1720.7 1477.4 L1721.5 1477.4 L1722.2 1477.4 L1723.0 1477.4 L1723.7 1477.4 L1724.5 1477.4 L1725.2 1477.4 L1726.0 1477.4 L1726.7 1477.4 L1727.5 1477.4 L1728.2 1477.4 L1729.0 1477.4 L1729.7 1477.4 L1730.5 1477.4 L1731.2 1477.4 L1732.0 1477.4 L1732.7 1477.4 L1733.5 1477.3 L1734.2 1477.3 L1735.0 1477.3 L1735.7 1477.3 L1736.5 1477.3 L1737.2 1477.3 L1738.0 1477.3 L1738.7 1477.3 L1739.5 1477.3 L1740.2 1477.3 L1741.0 1477.3 L1741.7 1477.3 L1742.5 1477.3 L1743.2 1477.3 L1744.0 1477.3 L1744.7 1477.3 L1745.5 1477.3 L1746.2 1477.3 L1747.0 1477.3 L1747.7 1477.3 L1748.5 1477.3 L1749.2 1477.3 L1750.0 1477.3 L1750.7 1477.3 L1751.5 1477.3 L1752.2 1477.3 L1752.9 1477.3 L1753.7 1477.3 L1754.4 1477.3 L1755.2 1477.3 L1755.9 1477.3 L1756.7 1477.3 L1757.4 1477.3 L1758.2 1477.3 L1758.9 1477.3 L1759.7 1477.3 L1760.4 1477.3 L1761.2 1477.3 L1761.9 1477.3 L1762.7 1477.3 L1763.4 1477.3 L1764.2 1477.3 L1764.9 1477.3 L1765.7 1477.3 L1766.4 1477.3 L1767.2 1477.3 L1767.9 1477.3 L1768.7 1477.3 L1769.4 1477.3 L1770.2 1477.3 L1770.9 1477.3 L1771.7 1477.3 L1772.4 1477.3 L1773.2 1477.3 L1773.9 1477.3 L1774.7 1477.3 L1775.4 1477.3 L1776.2 1477.3 L1776.9 1477.3 L1777.7 1477.3 L1778.4 1477.3 L1779.2 1477.3 L1779.9 1477.3 L1780.7 1477.3 L1781.4 1477.3 L1782.2 1477.3 L1782.9 1477.3 L1783.7 1477.3 L1784.4 1477.3 L1785.2 1477.3 L1785.9 1477.3 L1786.7 1477.3 L1787.4 1477.3 L1788.2 1477.3 L1788.9 1477.3 L1789.7 1477.3 L1790.4 1477.3 L1791.2 1477.3 L1791.9 1477.3 L1792.7 1477.3 L1793.4 1477.3 L1794.2 1477.3 L1794.9 1477.3 L1795.6 1477.3 L1796.4 1477.3 L1797.1 1477.3 L1797.9 1477.3 L1798.6 1477.3 L1799.4 1477.3 L1800.1 1477.3 L1800.9 1477.3 L1801.6 1477.3 L1802.4 1477.3 L1803.1 1477.3 L1803.9 1477.3 L1804.6 1477.3 L1805.4 1477.3 L1806.1 1477.3 L1806.9 1477.3 L1807.6 1477.3 L1808.4 1477.3 L1809.1 1477.3 L1809.9 1477.3 L1810.6 1477.3 L1811.4 1477.3 L1812.1 1477.3 L1812.9 1477.3 L1813.6 1477.3 L1814.4 1477.3 L1815.1 1477.3 L1815.9 1477.3 L1816.6 1477.3 L1817.4 1477.3 L1818.1 1477.3 L1818.9 1477.3 L1819.6 1477.3 L1820.4 1477.3 L1821.1 1477.3 L1821.9 1477.3 L1822.6 1477.3 L1823.4 1477.3 L1824.1 1477.3 L1824.9 1477.3 L1825.6 1477.3 L1826.4 1477.3 L1827.1 1477.3 L1827.9 1477.3 L1828.6 1477.3 L1829.4 1477.3 L1830.1 1477.3 L1830.9 1477.3 L1831.6 1477.3 L1832.4 1477.3 L1833.1 1477.3 L1833.9 1477.3 L1834.6 1477.3 L1835.4 1477.3 L1836.1 1477.3 L1836.8 1477.3 L1837.6 1477.3 L1838.3 1477.3 L1839.1 1477.3 L1839.8 1477.3 L1840.6 1477.3 L1841.3 1477.3 L1842.1 1477.3 L1842.8 1477.3 L1843.6 1477.3 L1844.3 1477.3 L1845.1 1477.3 L1845.8 1477.3 L1846.6 1477.3 L1847.3 1477.3 L1848.1 1477.3 L1848.8 1477.3 L1849.6 1477.3 L1850.3 1477.3 L1851.1 1477.3 L1851.8 1477.3 L1852.6 1477.3 L1853.3 1477.3 L1854.1 1477.3 L1854.8 1477.3 L1855.6 1477.3 L1856.3 1477.3 L1857.1 1477.3 L1857.8 1477.3 L1858.6 1477.3 L1859.3 1477.3 L1860.1 1477.3 L1860.8 1477.3 L1861.6 1477.3 L1862.3 1477.3 L1863.1 1477.3 L1863.8 1477.3 L1864.6 1477.3 L1865.3 1477.3 L1866.1 1477.3 L1866.8 1477.3 L1867.6 1477.3 L1868.3 1477.3 L1869.1 1477.3 L1869.8 1477.3 L1870.6 1477.3 L1871.3 1477.3 L1872.1 1477.3 L1872.8 1477.3 L1873.6 1477.3 L1874.3 1477.3 L1875.1 1477.3 L1875.8 1477.3 L1876.6 1477.3 L1877.3 1477.3 L1878.0 1477.3 L1878.8 1477.3 L1879.5 1477.3 L1880.3 1477.3 L1881.0 1477.3 L1881.8 1477.3 L1882.5 1477.3 L1883.3 1477.3 L1884.0 1477.3 L1884.8 1477.3 L1885.5 1477.3 L1886.3 1477.3 L1887.0 1477.3 L1887.8 1477.3 L1888.5 1477.3 L1889.3 1477.3 L1890.0 1477.3 L1890.8 1477.3 L1891.5 1477.3 L1892.3 1477.3 L1893.0 1477.3 L1893.8 1477.3 L1894.5 1477.3 L1895.3 1477.3 L1896.0 1477.3 L1896.8 1477.3 L1897.5 1477.3 L1898.3 1477.3 L1899.0 1477.3 L1899.8 1477.3 L1900.5 1477.3 L1901.3 1477.3 L1902.0 1477.3 L1902.8 1477.3 L1903.5 1477.3 L1904.3 1477.3 L1905.0 1477.3 L1905.8 1477.3 L1906.5 1477.3 L1907.3 1477.3 L1908.0 1477.3 L1908.8 1477.3 L1909.5 1477.3 L1910.3 1477.3 L1911.0 1477.3 L1911.8 1477.3 L1912.5 1477.3 L1913.3 1477.3 L1914.0 1477.3 L1914.8 1477.3 L1915.5 1477.3 L1916.3 1477.3 L1917.0 1477.3 L1917.8 1477.3 L1918.5 1477.3 L1919.2 1477.3 L1920.0 1477.3 L1920.7 1477.3 L1921.5 1477.3 L1922.2 1477.3 L1923.0 1477.3 L1923.7 1477.3 L1924.5 1477.3 L1925.2 1477.3 L1926.0 1477.3 L1926.7 1477.3 L1927.5 1477.3 L1928.2 1477.3 L1929.0 1477.3 L1929.7 1477.3 L1930.5 1477.3 L1931.2 1477.3 L1932.0 1477.3 L1932.7 1477.3 L1933.5 1477.3 L1934.2 1477.3 L1935.0 1477.3 L1935.7 1477.3 L1936.5 1477.3 L1937.2 1477.3 L1938.0 1477.3 L1938.7 1477.3 L1939.5 1477.3 L1940.2 1477.3 L1941.0 1477.3 L1941.7 1477.3 L1942.5 1477.3 L1943.2 1477.3 L1944.0 1477.3 L1944.7 1477.3 L1945.5 1477.3 L1946.2 1477.3 L1947.0 1477.3 L1947.7 1477.3 L1948.5 1477.3 L1949.2 1477.3 L1950.0 1477.3 L1950.7 1477.3 L1951.5 1477.3 L1952.2 1477.3 L1953.0 1477.3 L1953.7 1477.3 L1954.5 1477.3 L1955.2 1477.3 L1956.0 1477.3 L1956.7 1477.3 L1957.5 1477.3 L1958.2 1477.3 L1959.0 1477.3 L1959.7 1477.3 L1960.4 1477.3 L1961.2 1477.3 L1961.9 1477.3 L1962.7 1477.3 L1963.4 1477.3 L1964.2 1477.3 L1964.9 1477.3 L1965.7 1477.3 L1966.4 1477.3 L1967.2 1477.3 L1967.9 1477.3 L1968.7 1477.3 L1969.4 1477.3 L1970.2 1477.3 L1970.9 1477.3 L1971.7 1477.3 L1972.4 1477.3 L1973.2 1477.3 L1973.9 1477.3 L1974.7 1477.3 L1975.4 1477.3 L1976.2 1477.3 L1976.9 1477.3 L1977.7 1477.3 L1978.4 1477.3 L1979.2 1477.3 L1979.9 1477.3 L1980.7 1477.3 L1981.4 1477.3 L1982.2 1477.3 L1982.9 1477.3 L1983.7 1477.3 L1984.4 1477.3 L1985.2 1477.3 L1985.9 1477.3 L1986.7 1477.3 L1987.4 1477.3 L1988.2 1477.3 L1988.9 1477.3 L1989.7 1477.3 L1990.4 1477.3 L1991.2 1477.3 L1991.9 1477.3 L1992.7 1477.3 L1993.4 1477.3 L1994.2 1477.3 L1994.9 1477.3 L1995.7 1477.3 L1996.4 1477.3 L1997.2 1477.3 L1997.9 1477.3 L1998.7 1477.3 L1999.4 1477.3 L2000.2 1477.3 L2000.9 1477.3 L2001.6 1477.3 L2002.4 1477.3 L2003.1 1477.3 L2003.9 1477.3 L2004.6 1477.3 L2005.4 1477.3 L2006.1 1477.3 L2006.9 1477.3 L2007.6 1477.3 L2008.4 1477.3 L2009.1 1477.3 L2009.9 1477.3 L2010.6 1477.3 L2011.4 1477.3 L2012.1 1477.3 L2012.9 1477.3 L2013.6 1477.3 L2014.4 1477.3 L2015.1 1477.3 L2015.9 1477.3 L2016.6 1477.3 L2017.4 1477.3 L2018.1 1477.3 L2018.9 1477.3 L2019.6 1477.3 L2020.4 1477.3 L2021.1 1477.3 L2021.9 1477.3 L2022.6 1477.3 L2023.4 1477.3 L2024.1 1477.3 L2024.9 1477.3 L2025.6 1477.3 L2026.4 1477.3 L2027.1 1477.3 L2027.9 1477.3 L2028.6 1477.3 L2029.4 1477.3 L2030.1 1477.3 L2030.9 1477.3 L2031.6 1477.3 L2032.4 1477.3 L2033.1 1477.3 L2033.9 1477.3 L2034.6 1477.3 L2035.4 1477.3 L2036.1 1477.3 L2036.9 1477.3 L2037.6 1477.3 L2038.4 1477.3 L2039.1 1477.3 L2039.9 1477.3 L2040.6 1477.3 L2041.4 1477.3 L2042.1 1477.3 L2042.8 1477.3 L2043.6 1477.3 L2044.3 1477.3 L2045.1 1477.3 L2045.8 1477.3 L2046.6 1477.3 L2047.3 1477.3 L2048.1 1477.3 L2048.8 1477.3 L2049.6 1477.3 L2050.3 1477.3 L2051.1 1477.3 L2051.8 1477.3 L2052.6 1477.3 L2053.3 1477.3 L2054.1 1477.3 L2054.8 1477.3 L2055.6 1477.3 L2056.3 1477.3 L2057.1 1477.3 L2057.8 1477.3 L2058.6 1477.3 L2059.3 1477.3 L2060.1 1477.3 L2060.8 1477.3 L2061.6 1477.3 L2062.3 1477.3 L2063.1 1477.3 L2063.8 1477.3 L2064.6 1477.3 L2065.3 1477.3 L2066.1 1477.3 L2066.8 1477.3 L2067.6 1477.3 L2068.3 1477.3 L2069.1 1477.3 L2069.8 1477.3 L2070.6 1477.3 L2071.3 1477.3 L2072.1 1477.3 L2072.8 1477.3 L2073.6 1477.3 L2074.3 1477.3 L2075.1 1477.3 L2075.8 1477.3 L2076.6 1477.3 L2077.3 1477.3 L2078.1 1477.3 L2078.8 1477.3 L2079.6 1477.3 L2080.3 1477.3 L2081.1 1477.3 L2081.8 1477.3 L2082.6 1477.3 L2083.3 1477.3 L2084.0 1477.3 L2084.8 1477.3 L2085.5 1477.3 L2086.3 1477.3 L2087.0 1477.3 L2087.8 1477.3 L2088.5 1477.3 L2089.3 1477.3 L2090.0 1477.3 L2090.8 1477.3 L2091.5 1477.3 L2092.3 1477.3 L2093.0 1477.3 L2093.8 1477.3 L2094.5 1477.3 L2095.3 1477.3 L2096.0 1477.3 L2096.8 1477.3 L2097.5 1477.3 L2098.3 1477.3 L2099.0 1477.3 L2099.8 1477.3 L2100.5 1477.3 L2101.3 1477.3 L2102.0 1477.3 L2102.8 1477.3 L2103.5 1477.3 L2104.3 1477.3 L2105.0 1477.3 L2105.8 1477.3 L2106.5 1477.3 L2107.3 1477.3 L2108.0 1477.3 L2108.8 1477.3 L2109.5 1477.3 L2110.3 1477.3 L2111.0 1477.3 L2111.8 1477.3 L2112.5 1477.3 L2113.3 1477.3 L2114.0 1477.3 L2114.8 1477.3 L2115.5 1477.3 L2116.3 1477.3 L2117.0 1477.3 L2117.8 1477.3 L2118.5 1477.3 L2119.3 1477.3 L2120.0 1477.3 L2120.8 1477.3 L2121.5 1477.3 L2122.3 1477.3 L2123.0 1477.3 L2123.8 1477.3 L2124.5 1477.3 L2125.3 1477.3 L2126.0 1477.3 L2126.7 1477.3 L2127.5 1477.3 L2128.2 1477.3 L2129.0 1477.3 L2129.7 1477.3 L2130.5 1477.3 L2131.2 1477.3 L2132.0 1477.3 L2132.7 1477.3 L2133.5 1477.3 L2134.2 1477.3 L2135.0 1477.3 L2135.7 1477.3 L2136.5 1477.3 L2137.2 1477.3 L2138.0 1477.3 L2138.7 1477.3 L2139.5 1477.3 L2140.2 1477.3 L2141.0 1477.3 L2141.7 1477.3 L2142.5 1477.3 L2143.2 1477.3 L2144.0 1477.3 L2144.7 1477.3 L2145.5 1477.3 L2146.2 1477.3 L2147.0 1477.3 L2147.7 1477.3 L2148.5 1477.3 L2149.2 1477.3 L2150.0 1477.3 L2150.7 1477.3 L2151.5 1477.3 L2152.2 1477.3 L2153.0 1477.3 L2153.7 1477.3 L2154.5 1477.3 L2155.2 1477.3 L2156.0 1477.3 L2156.7 1477.3 L2157.5 1477.3 L2158.2 1477.3 L2159.0 1477.3 L2159.7 1477.3 L2160.5 1477.3 L2161.2 1477.3 L2162.0 1477.3 L2162.7 1477.3 L2163.5 1477.3 L2164.2 1477.3 L2165.0 1477.3 L2165.7 1477.3 L2166.5 1477.3 L2167.2 1477.3 L2167.9 1477.3 L2168.7 1477.3 L2169.4 1477.3 L2170.2 1477.3 L2170.9 1477.3 L2171.7 1477.3 L2172.4 1477.3 L2173.2 1477.3 L2173.9 1477.3 L2174.7 1477.3 L2175.4 1477.3 L2176.2 1477.3 L2176.9 1477.3 L2177.7 1477.3 L2178.4 1477.3 L2179.2 1477.3 L2179.9 1477.3 L2180.7 1477.3 L2181.4 1477.3 L2182.2 1477.3 L2182.9 1477.3 L2183.7 1477.3 L2184.4 1477.3 L2185.2 1477.3 L2185.9 1477.3 L2186.7 1477.3 L2187.4 1477.3 L2188.2 1477.3 L2188.9 1477.3 L2189.7 1477.3 L2190.4 1477.3 L2191.2 1477.3 L2191.9 1477.3 L2192.7 1477.3 L2193.4 1477.3 L2194.2 1477.3 L2194.9 1477.3 L2195.7 1477.3 L2196.4 1477.3 L2197.2 1477.3 L2197.9 1477.3 L2198.7 1477.3 L2199.4 1477.3 L2200.2 1477.3 L2200.9 1477.3 L2201.7 1477.3 L2202.4 1477.3 L2203.2 1477.3 L2203.9 1477.3 L2204.7 1477.3 L2205.4 1477.3 L2206.2 1477.3 L2206.9 1477.3 L2207.7 1477.3 L2208.4 1477.3 L2209.1 1477.3 L2209.9 1477.3 L2210.6 1477.3 L2211.4 1477.3 L2212.1 1477.3 L2212.9 1477.3 L2213.6 1477.3 L2214.4 1477.3 L2215.1 1477.3 L2215.9 1477.3 L2216.6 1477.3 L2217.4 1477.3 L2218.1 1477.3 L2218.9 1477.3 L2219.6 1477.3 L2220.4 1477.3 L2221.1 1477.3 L2221.9 1477.3 L2222.6 1477.3 L2223.4 1477.3 L2224.1 1477.3 L2224.9 1477.3 L2225.6 1477.3 L2226.4 1477.3 L2227.1 1477.3 L2227.9 1477.3 L2228.4 1477.3 L2228.8 1477.3 L2229.0 1477.3" fill="none" stroke="#000" stroke-width="13" stroke-linejoin="round"/>
<path d="M293.0 109.3 L293.2 109.3 L293.6 109.3 L294.1 109.3 L294.9 109.3 L295.6 109.3 L296.4 109.4 L297.1 109.4 L297.9 109.4 L298.6 109.4 L299.4 109.4 L300.1 109.4 L300.9 109.4 L301.6 109.4 L302.3 109.4 L303.1 109.5 L303.8 109.5 L304.6 109.5 L305.3 109.5 L306.1 109.5 L306.8 109.5 L307.6 109.5 L308.3 109.5 L309.1 109.5 L309.8 109.6 L310.6 109.6 L311.3 109.6 L312.1 109.6 L312.8 109.6 L313.6 109.6 L314.3 109.6 L315.1 109.6 L315.8 109.7 L316.6 109.7 L317.3 109.7 L318.0 109.7 L318.8 109.7 L319.5 109.7 L320.3 109.7 L321.0 109.7 L321.8 109.7 L322.5 109.8 L323.3 109.8 L324.0 109.8 L324.8 109.8 L325.5 109.8 L326.3 109.8 L327.0 109.8 L327.8 109.8 L328.5 109.9 L329.3 109.9 L330.0 109.9 L330.8 109.9 L331.5 109.9 L332.3 109.9 L333.0 109.9 L333.7 109.9 L334.5 110.0 L335.2 110.0 L336.0 110.0 L336.7 110.0 L337.5 110.0 L338.2 110.0 L339.0 110.0 L339.7 110.0 L340.5 110.1 L341.2 110.1 L342.0 110.1 L342.7 110.1 L343.5 110.1 L344.2 110.1 L345.0 110.1 L345.7 110.1 L346.5 110.2 L347.2 110.2 L348.0 110.2 L348.7 110.2 L349.5 110.2 L350.2 110.2 L350.9 110.2 L351.7 110.2 L352.4 110.3 L353.2 110.3 L353.9 110.3 L354.7 110.3 L355.4 110.3 L356.2 110.3 L356.9 110.3 L357.7 110.3 L358.4 110.4 L359.2 110.4 L359.9 110.4 L360.7 110.4 L361.4 110.4 L362.2 110.4 L362.9 110.4 L363.7 110.4 L364.4 110.5 L365.2 110.5 L365.9 110.5 L366.6 110.5 L367.4 110.5 L368.1 110.5 L368.9 110.5 L369.6 110.6 L370.4 110.6 L371.1 110.6 L371.9 110.6 L372.6 110.6 L373.4 110.6 L374.1 110.6 L374.9 110.6 L375.6 110.7 L376.4 110.7 L377.1 110.7 L377.9 110.7 L378.6 110.7 L379.4 110.7 L380.1 110.7 L380.9 110.7 L381.6 110.8 L382.3 110.8 L383.1 110.8 L383.8 110.8 L384.6 110.8 L385.3 110.8 L386.1 110.8 L386.8 110.9 L387.6 110.9 L388.3 110.9 L389.1 110.9 L389.8 110.9 L390.6 110.9 L391.3 110.9 L392.1 110.9 L392.8 111.0 L393.6 111.0 L394.3 111.0 L395.1 111.0 L395.8 111.0 L396.6 111.0 L397.3 111.0 L398.1 111.1 L398.8 111.1 L399.5 111.1 L400.3 111.1 L401.0 111.1 L401.8 111.1 L402.5 111.1 L403.3 111.1 L404.0 111.2 L404.8 111.2 L405.5 111.2 L406.3 111.2 L407.0 111.2 L407.8 111.2 L408.5 111.2 L409.3 111.3 L410.0 111.3 L410.8 111.3 L411.5 111.3 L412.3 111.3 L413.0 111.3 L413.8 111.3 L414.5 111.3 L415.2 111.4 L416.0 111.4 L416.7 111.4 L417.5 111.4 L418.2 111.4 L419.0 111.4 L419.7 111.4 L420.5 111.5 L421.2 111.5 L422.0 111.5 L422.7 111.5 L423.5 111.5 L424.2 111.5 L425.0 111.5 L425.7 111.5 L426.5 111.6 L427.2 111.6 L428.0 111.6 L428.7 111.6 L429.5 111.6 L430.2 111.6 L430.9 111.6 L431.7 111.7 L432.4 111.7 L433.2 111.7 L433.9 111.7 L434.7 111.7 L435.4 111.7 L436.2 111.7 L436.9 111.8 L437.7 111.8 L438.4 111.8 L439.2 111.8 L439.9 111.8 L440.7 111.8 L441.4 111.8 L442.2 111.9 L442.9 111.9 L443.7 111.9 L444.4 111.9 L445.2 111.9 L445.9 111.9 L446.7 111.9 L447.4 112.0 L448.1 112.0 L448.9 112.0 L449.6 112.0 L450.4 112.0 L451.1 112.0 L451.9 112.0 L452.6 112.1 L453.4 112.1 L454.1 112.1 L454.9 112.1 L455.6 112.1 L456.4 112.1 L457.1 112.2 L457.9 112.2 L458.6 112.2 L459.4 112.2 L460.1 112.2 L460.9 112.2 L461.6 112.3 L462.4 112.3 L463.1 112.3 L463.8 112.3 L464.6 112.3 L465.3 112.3 L466.1 112.4 L466.8 112.4 L467.6 112.4 L468.3 112.4 L469.1 112.4 L469.8 112.4 L470.6 112.5 L471.3 112.5 L472.1 112.5 L472.8 112.5 L473.6 112.5 L474.3 112.6 L475.1 112.6 L475.8 112.6 L476.6 112.6 L477.3 112.6 L478.0 112.7 L478.8 112.7 L479.5 112.7 L480.3 112.7 L481.0 112.7 L481.8 112.8 L482.5 112.8 L483.3 112.8 L484.0 112.8 L484.8 112.9 L485.5 112.9 L486.3 112.9 L487.0 112.9 L487.8 113.0 L488.5 113.0 L489.3 113.0 L490.0 113.0 L490.8 113.0 L491.5 113.1 L492.2 113.1 L493.0 113.1 L493.7 113.2 L494.5 113.2 L495.2 113.2 L496.0 113.2 L496.7 113.3 L497.5 113.3 L498.2 113.3 L499.0 113.3 L499.7 113.4 L500.5 113.4 L501.2 113.4 L502.0 113.4 L502.7 113.5 L503.5 113.5 L504.2 113.5 L505.0 113.5 L505.7 113.6 L506.4 113.6 L507.2 113.6 L507.9 113.7 L508.7 113.7 L509.4 113.7 L510.2 113.7 L510.9 113.8 L511.7 113.8 L512.4 113.8 L513.2 113.8 L513.9 113.9 L514.7 113.9 L515.4 113.9 L516.2 114.0 L516.9 114.0 L517.7 114.0 L518.4 114.0 L519.2 114.1 L519.9 114.1 L520.6 114.1 L521.4 114.1 L522.1 114.2 L522.9 114.2 L523.6 114.2 L524.4 114.3 L525.1 114.3 L525.9 114.3 L526.6 114.3 L527.4 114.4 L528.1 114.4 L528.9 114.4 L529.6 114.4 L530.4 114.5 L531.1 114.5 L531.9 114.5 L532.6 114.5 L533.4 114.6 L534.1 114.6 L534.8 114.6 L535.6 114.6 L536.3 114.7 L537.1 114.7 L537.8 114.7 L538.6 114.7 L539.3 114.8 L540.1 114.8 L540.8 114.8 L541.6 114.8 L542.3 114.8 L543.1 114.9 L543.8 114.9 L544.6 114.9 L545.3 114.9 L546.1 114.9 L546.8 115.0 L547.6 115.0 L548.3 115.0 L549.0 115.0 L549.8 115.0 L550.5 115.1 L551.3 115.1 L552.0 115.1 L552.8 115.1 L553.5 115.1 L554.3 115.2 L555.0 115.2 L555.8 115.2 L556.5 115.2 L557.3 115.2 L558.0 115.3 L558.8 115.3 L559.5 115.3 L560.3 115.3 L561.0 115.3 L561.8 115.4 L562.5 115.4 L563.3 115.4 L564.0 115.4 L564.7 115.4 L565.5 115.5 L566.2 115.5 L567.0 115.5 L567.7 115.5 L568.5 115.5 L569.2 115.5 L570.0 115.6 L570.7 115.6 L571.5 115.6 L572.2 115.6 L573.0 115.6 L573.7 115.7 L574.5 115.7 L575.2 115.7 L576.0 115.7 L576.7 115.7 L577.5 115.7 L578.2 115.8 L579.0 115.8 L579.7 115.8 L580.4 115.8 L581.2 115.8 L581.9 115.9 L582.7 115.9 L583.4 115.9 L584.2 115.9 L584.9 115.9 L585.7 115.9 L586.4 116.0 L587.2 116.0 L587.9 116.0 L588.7 116.0 L589.4 116.0 L590.2 116.0 L590.9 116.1 L591.7 116.1 L592.4 116.1 L593.2 116.1 L593.9 116.1 L594.7 116.2 L595.4 116.2 L596.1 116.2 L596.9 116.2 L597.6 116.2 L598.4 116.2 L599.1 116.3 L599.9 116.3 L600.6 116.3 L601.4 116.3 L602.1 116.3 L602.9 116.3 L603.6 116.4 L604.4 116.4 L605.1 116.4 L605.9 116.4 L606.6 116.4 L607.4 116.4 L608.1 116.5 L608.9 116.5 L609.6 116.5 L610.4 116.5 L611.1 116.5 L611.8 116.5 L612.6 116.5 L613.3 116.6 L614.1 116.6 L614.8 116.6 L615.6 116.6 L616.3 116.6 L617.1 116.6 L617.8 116.7 L618.6 116.7 L619.3 116.7 L620.1 116.7 L620.8 116.7 L621.6 116.7 L622.3 116.7 L623.1 116.8 L623.8 116.8 L624.6 116.8 L625.3 116.8 L626.1 116.8 L626.8 116.8 L627.5 116.9 L628.3 116.9 L629.0 116.9 L629.8 116.9 L630.5 116.9 L631.3 116.9 L632.0 116.9 L632.8 117.0 L633.5 117.0 L634.3 117.0 L635.0 117.0 L635.8 117.0 L636.5 117.0 L637.3 117.0 L638.0 117.1 L638.8 117.1 L639.5 117.1 L640.3 117.1 L641.0 117.1 L641.8 117.1 L642.5 117.1 L643.2 117.2 L644.0 117.2 L644.7 117.2 L645.5 117.2 L646.2 117.2 L647.0 117.2 L647.7 117.2 L648.5 117.3 L649.2 117.3 L650.0 117.3 L650.7 117.3 L651.5 117.3 L652.2 117.3 L653.0 117.3 L653.7 117.3 L654.5 117.4 L655.2 117.4 L656.0 117.4 L656.7 117.4 L657.5 117.4 L658.2 117.4 L658.9 117.4 L659.7 117.4 L660.4 117.5 L661.2 117.5 L661.9 117.5 L662.7 117.5 L663.4 117.5 L664.2 117.5 L664.9 117.5 L665.7 117.5 L666.4 117.6 L667.2 117.6 L667.9 117.6 L668.7 117.6 L669.4 117.6 L670.2 117.6 L670.9 117.6 L671.7 117.6 L672.4 117.7 L673.2 117.7 L673.9 117.7 L674.7 117.7 L675.4 117.7 L676.1 117.7 L676.9 117.7 L677.6 117.7 L678.4 117.7 L679.1 117.8 L679.9 117.8 L680.6 117.8 L681.4 117.8 L682.1 117.8 L682.9 117.8 L683.6 117.8 L684.4 117.8 L685.1 117.8 L685.9 117.9 L686.6 117.9 L687.4 117.9 L688.1 117.9 L688.9 117.9 L689.6 117.9 L690.4 117.9 L691.1 117.9 L691.8 117.9 L692.6 118.0 L693.3 118.0 L694.1 118.0 L694.8 118.0 L695.6 118.0 L696.3 118.0 L697.1 118.0 L697.8 118.0 L698.6 118.0 L699.3 118.1 L700.1 118.1 L700.8 118.1 L701.6 118.1 L702.3 118.1 L703.1 118.1 L703.8 118.1 L704.6 118.1 L705.3 118.1 L706.1 118.1 L706.8 118.2 L707.6 118.2 L708.3 118.2 L709.0 118.2 L709.8 118.2 L710.5 118.2 L711.3 118.2 L712.0 118.2 L712.8 118.2 L713.5 118.2 L714.3 118.3 L715.0 118.3 L715.8 118.3 L716.5 118.3 L717.3 118.3 L718.0 118.3 L718.8 118.3 L719.5 118.3 L720.3 118.3 L721.0 118.3 L721.8 118.4 L722.5 118.4 L723.3 118.4 L724.0 118.4 L724.7 118.4 L725.5 118.4 L726.2 118.4 L727.0 118.4 L727.7 118.4 L728.5 118.4 L729.2 118.4 L730.0 118.5 L730.7 118.5 L731.5 118.5 L732.2 118.5 L733.0 118.5 L733.7 118.5 L734.5 118.5 L735.2 118.5 L736.0 118.5 L736.7 118.5 L737.5 118.5 L738.2 118.6 L739.0 118.6 L739.7 118.6 L740.5 118.6 L741.2 118.6 L741.9 118.6 L742.7 118.6 L743.4 118.6 L744.2 118.6 L744.9 118.6 L745.7 118.6 L746.4 118.6 L747.2 118.7 L747.9 118.7 L748.7 118.7 L749.4 118.7 L750.2 118.7 L750.9 118.7 L751.7 118.7 L752.4 118.7 L753.2 118.7 L753.9 118.7 L754.7 118.7 L755.4 118.8 L756.2 118.8 L756.9 118.8 L757.6 118.8 L758.4 118.8 L759.1 118.8 L759.9 118.8 L760.6 118.8 L761.4 118.8 L762.1 118.8 L762.9 118.8 L763.6 118.8 L764.4 118.8 L765.1 118.9 L765.9 118.9 L766.6 118.9 L767.4 118.9 L768.1 118.9 L768.9 118.9 L769.6 118.9 L770.4 118.9 L771.1 118.9 L771.9 118.9 L772.6 118.9 L773.4 118.9 L774.1 118.9 L774.8 119.0 L775.6 119.0 L776.3 119.0 L777.1 119.0 L777.8 119.0 L778.6 119.0 L779.3 119.0 L780.1 119.0 L780.8 119.0 L781.6 119.0 L782.3 119.0 L783.1 119.0 L783.8 119.0 L784.6 119.1 L785.3 119.1 L786.1 119.1 L786.8 119.1 L787.6 119.1 L788.3 119.1 L789.1 119.1 L789.8 119.1 L790.6 119.1 L791.3 119.1 L792.0 119.1 L792.8 119.1 L793.5 119.1 L794.3 119.2 L795.0 119.2 L795.8 119.2 L796.5 119.2 L797.3 119.2 L798.0 119.2 L798.8 119.2 L799.5 119.2 L800.3 119.2 L801.0 119.2 L801.8 119.2 L802.5 119.2 L803.3 119.2 L804.0 119.2 L804.8 119.3 L805.5 119.3 L806.3 119.3 L807.0 119.3 L807.7 119.3 L808.5 119.3 L809.2 119.3 L810.0 119.3 L810.7 119.3 L811.5 119.3 L812.2 119.3 L813.0 119.3 L813.7 119.3 L814.5 119.3 L815.2 119.3 L816.0 119.4 L816.7 119.4 L817.5 119.4 L818.2 119.4 L819.0 119.4 L819.7 119.4 L820.5 119.4 L821.2 119.4 L822.0 119.4 L822.7 119.4 L823.5 119.4 L824.2 119.4 L824.9 119.4 L825.7 119.4 L826.4 119.4 L827.2 119.5 L827.9 119.5 L828.7 119.5 L829.4 119.5 L830.2 119.5 L830.9 119.5 L831.7 119.5 L832.4 119.5 L833.2 119.5 L833.9 119.5 L834.7 119.5 L835.4 119.5 L836.2 119.5 L836.9 119.5 L837.7 119.5 L838.4 119.5 L839.2 119.6 L839.9 119.6 L840.7 119.6 L841.4 119.6 L842.1 119.6 L842.9 119.6 L843.6 119.6 L844.4 119.6 L845.1 119.6 L845.9 119.6 L846.6 119.6 L847.4 119.6 L848.1 119.6 L848.9 119.6 L849.6 119.6 L850.4 119.6 L851.1 119.6 L851.9 119.7 L852.6 119.7 L853.4 119.7 L854.1 119.7 L854.9 119.7 L855.6 119.7 L856.4 119.7 L857.1 119.7 L857.9 119.7 L858.6 119.7 L859.3 119.7 L860.1 119.7 L860.8 119.7 L861.6 119.7 L862.3 119.7 L863.1 119.7 L863.8 119.7 L864.6 119.7 L865.3 119.8 L866.1 119.8 L866.8 119.8 L867.6 119.8 L868.3 119.8 L869.1 119.8 L869.8 119.8 L870.6 119.8 L871.3 119.8 L872.1 119.8 L872.8 119.8 L873.6 119.8 L874.3 119.8 L875.0 119.8 L875.8 119.8 L876.5 119.8 L877.3 119.8 L878.0 119.8 L878.8 119.8 L879.5 119.8 L880.3 119.9 L881.0 119.9 L881.8 119.9 L882.5 119.9 L883.3 119.9 L884.0 119.9 L884.8 119.9 L885.5 119.9 L886.3 119.9 L887.0 119.9 L887.8 119.9 L888.5 119.9 L889.3 119.9 L890.0 119.9 L890.8 119.9 L891.5 119.9 L892.2 119.9 L893.0 119.9 L893.7 119.9 L894.5 119.9 L895.2 119.9 L896.0 119.9 L896.7 119.9 L897.5 119.9 L898.2 119.9 L899.0 119.9 L899.7 119.9 L900.5 120.0 L901.2 120.0 L902.0 120.0 L902.7 120.0 L903.5 120.0 L904.2 120.0 L905.0 120.0 L905.7 120.0 L906.5 120.0 L907.2 120.0 L908.0 120.0 L908.7 120.0 L909.4 120.0 L910.2 120.0 L910.9 120.0 L911.7 120.0 L912.4 120.0 L913.2 120.0 L913.9 120.0 L914.7 120.0 L915.4 120.0 L916.2 120.0 L916.9 120.0 L917.7 120.0 L918.4 120.0 L919.2 120.0 L919.9 120.0 L920.7 120.0 L921.4 120.0 L922.2 120.0 L922.9 120.0 L923.7 120.0 L924.4 120.1 L925.2 120.1 L925.9 120.1 L926.6 120.1 L927.4 120.1 L928.1 120.1 L928.9 120.1 L929.6 120.1 L930.4 120.1 L931.1 120.1 L931.9 120.1 L932.6 120.1 L933.4 120.1 L934.1 120.1 L934.9 120.1 L935.6 120.1 L936.4 120.1 L937.1 120.1 L937.9 120.1 L938.6 120.1 L939.4 120.1 L940.1 120.1 L940.9 120.1 L941.6 120.1 L942.4 120.2 L943.1 120.2 L943.8 120.2 L944.6 120.2 L945.3 120.2 L946.1 120.2 L946.8 120.2 L947.6 120.2 L948.3 120.2 L949.1 120.2 L949.8 120.2 L950.6 120.2 L951.3 120.2 L952.1 120.2 L952.8 120.2 L953.6 120.2 L954.3 120.2 L955.1 120.3 L955.8 120.3 L956.6 120.3 L957.3 120.3 L958.1 120.3 L958.8 120.3 L959.5 120.3 L960.3 120.3 L961.0 120.3 L961.8 120.3 L962.5 120.3 L963.3 120.3 L964.0 120.3 L964.8 120.4 L965.5 120.4 L966.3 120.4 L967.0 120.4 L967.8 120.4 L968.5 120.4 L969.3 120.4 L970.0 120.4 L970.8 120.4 L971.5 120.5 L972.3 120.5 L973.0 120.5 L973.8 120.5 L974.5 120.5 L975.3 120.5 L976.0 120.5 L976.8 120.5 L977.5 120.6 L978.3 120.6 L979.0 120.6 L979.8 120.6 L980.5 120.6 L981.3 120.6 L982.0 120.7 L982.8 120.7 L983.5 120.7 L984.2 120.7 L985.0 120.7 L985.7 120.8 L986.5 120.8 L987.2 120.8 L988.0 120.8 L988.7 120.9 L989.5 120.9 L990.2 120.9 L991.0 120.9 L991.7 121.0 L992.5 121.0 L993.2 121.0 L994.0 121.0 L994.7 121.1 L995.4 121.1 L996.2 121.1 L996.9 121.2 L997.7 121.2 L998.4 121.2 L999.2 121.3 L999.9 121.3 L1000.7 121.3 L1001.4 121.4 L1002.1 121.5 L1002.9 121.5 L1003.6 121.6 L1004.4 121.7 L1005.1 121.8 L1005.9 121.8 L1006.6 121.9 L1007.3 122.1 L1008.1 122.2 L1008.8 122.3 L1009.6 122.4 L1010.3 122.5 L1011.1 122.6 L1011.8 122.7 L1012.5 122.9 L1013.3 123.0 L1014.0 123.1 L1014.7 123.3 L1015.5 123.4 L1016.2 123.5 L1017.0 123.6 L1017.7 123.8 L1018.4 123.9 L1019.2 124.0 L1019.9 124.1 L1020.6 124.3 L1021.4 124.4 L1022.1 124.5 L1022.9 124.7 L1023.6 124.8 L1024.3 124.9 L1025.1 125.1 L1025.8 125.2 L1026.6 125.4 L1027.3 125.5 L1028.0 125.7 L1028.8 125.8 L1029.5 126.0 L1030.2 126.2 L1031.0 126.3 L1031.7 126.5 L1032.4 126.7 L1033.1 126.8 L1033.9 127.0 L1034.6 127.2 L1035.3 127.4 L1036.0 127.6 L1036.7 127.8 L1037.5 128.0 L1038.2 128.2 L1038.9 128.4 L1039.6 128.6 L1040.3 128.8 L1041.0 129.0 L1041.7 129.3 L1042.4 129.5 L1043.1 129.8 L1043.8 130.1 L1044.5 130.3 L1045.2 130.6 L1045.9 130.9 L1046.6 131.2 L1047.3 131.5 L1047.9 131.8 L1048.6 132.1 L1049.3 132.4 L1050.0 132.8 L1050.7 133.1 L1051.3 133.4 L1052.0 133.8 L1052.7 134.1 L1053.4 134.5 L1054.0 135.1 L1054.6 135.7 L1055.2 136.5 L1055.8 137.2 L1056.4 138.0 L1057.0 138.7 L1057.6 139.5 L1058.2 140.2 L1058.8 141.0 L1059.3 141.7 L1059.9 142.5 L1060.5 143.2 L1061.0 144.0 L1061.6 144.7 L1062.1 145.5 L1062.6 146.2 L1063.2 147.0 L1063.7 147.7 L1064.2 148.5 L1064.7 149.2 L1065.2 150.0 L1065.7 150.7 L1066.2 151.5 L1066.7 152.2 L1067.2 153.0 L1067.7 153.7 L1068.2 154.5 L1068.7 155.2 L1069.1 156.0 L1069.6 156.7 L1070.1 157.5 L1070.5 158.2 L1071.0 159.0 L1071.4 159.7 L1071.8 160.5 L1072.3 161.2 L1072.7 162.0 L1073.1 162.7 L1073.6 163.5 L1074.0 164.2 L1074.4 165.0 L1074.8 165.7 L1075.2 166.5 L1075.6 167.2 L1076.0 168.0 L1076.4 168.7 L1076.8 169.5 L1077.2 170.2 L1077.6 171.0 L1077.9 171.7 L1078.3 172.5 L1078.7 173.2 L1079.0 174.0 L1079.4 174.7 L1079.8 175.5 L1080.1 176.2 L1080.5 177.0 L1080.8 177.7 L1081.1 178.5 L1081.5 179.2 L1081.8 180.0 L1082.1 180.7 L1082.5 181.5 L1082.8 182.2 L1083.1 183.0 L1083.4 183.7 L1083.7 184.5 L1084.0 185.2 L1084.3 186.0 L1084.6 186.7 L1084.9 187.5 L1085.2 188.2 L1085.5 189.0 L1085.8 189.7 L1086.1 190.5 L1086.4 191.2 L1086.7 192.0 L1086.9 192.7 L1087.2 193.5 L1087.5 194.2 L1087.8 195.0 L1088.0 195.7 L1088.3 196.5 L1088.5 197.2 L1088.8 198.0 L1089.1 198.7 L1089.3 199.5 L1089.6 200.2 L1089.8 201.0 L1090.1 201.7 L1090.3 202.5 L1090.5 203.2 L1090.8 204.0 L1091.0 204.7 L1091.2 205.5 L1091.5 206.2 L1091.7 207.0 L1091.9 207.7 L1092.1 208.5 L1092.4 209.2 L1092.6 210.0 L1092.8 210.7 L1093.0 211.5 L1093.2 212.2 L1093.4 213.0 L1093.6 213.7 L1093.8 214.5 L1094.0 215.2 L1094.2 216.0 L1094.4 216.7 L1094.6 217.5 L1094.8 218.2 L1095.0 219.0 L1095.2 219.7 L1095.4 220.5 L1095.6 221.2 L1095.8 222.0 L1096.0 222.7 L1096.2 223.5 L1096.4 224.2 L1096.5 225.0 L1096.7 225.7 L1096.9 226.5 L1097.1 227.2 L1097.3 228.0 L1097.4 228.7 L1097.6 229.5 L1097.8 230.2 L1098.0 231.0 L1098.1 231.7 L1098.3 232.5 L1098.5 233.2 L1098.6 234.0 L1098.8 234.7 L1099.0 235.5 L1099.1 236.2 L1099.3 237.0 L1099.5 237.7 L1099.6 238.5 L1099.8 239.2 L1099.9 240.0 L1100.1 240.7 L1100.2 241.5 L1100.4 242.2 L1100.5 243.0 L1100.7 243.7 L1100.8 244.5 L1101.0 245.2 L1101.1 246.0 L1101.3 246.7 L1101.4 247.5 L1101.6 248.2 L1101.7 249.0 L1101.9 249.7 L1102.0 250.5 L1102.1 251.2 L1102.3 252.0 L1102.4 252.7 L1102.6 253.5 L1102.7 254.2 L1102.8 255.0 L1103.0 255.7 L1103.1 256.5 L1103.2 257.2 L1103.4 258.0 L1103.5 258.7 L1103.6 259.5 L1103.7 260.2 L1103.9 261.0 L1104.0 261.7 L1104.1 262.5 L1104.2 263.2 L1104.4 264.0 L1104.5 264.7 L1104.6 265.5 L1104.7 266.2 L1104.9 267.0 L1105.0 267.7 L1105.1 268.5 L1105.2 269.2 L1105.3 270.0 L1105.4 270.7 L1105.6 271.5 L1105.7 272.2 L1105.8 273.0 L1105.9 273.7 L1106.0 274.5 L1106.1 275.2 L1106.2 276.0 L1106.3 276.7 L1106.5 277.5 L1106.6 278.2 L1106.7 279.0 L1106.8 279.7 L1106.9 280.5 L1107.0 281.2 L1107.1 282.0 L1107.2 282.7 L1107.3 283.5 L1107.4 284.2 L1107.5 285.0 L1107.6 285.7 L1107.7 286.5 L1107.8 287.2 L1107.9 288.0 L1108.0 288.7 L1108.1 289.5 L1108.2 290.2 L1108.3 291.0 L1108.4 291.7 L1108.5 292.5 L1108.6 293.2 L1108.7 294.0 L1108.8 294.7 L1108.9 295.5 L1109.0 296.2 L1109.1 297.0 L1109.2 297.7 L1109.3 298.5 L1109.4 299.2 L1109.4 300.0 L1109.5 300.7 L1109.6 301.5 L1109.7 302.2 L1109.8 303.0 L1109.9 303.7 L1110.0 304.5 L1110.1 305.2 L1110.2 306.0 L1110.3 306.7 L1110.4 307.5 L1110.4 308.2 L1110.5 309.0 L1110.6 309.7 L1110.7 310.5 L1110.8 311.2 L1110.9 312.0 L1111.0 312.7 L1111.1 313.5 L1111.1 314.2 L1111.2 315.0 L1111.3 315.7 L1111.4 316.5 L1111.5 317.2 L1111.6 318.0 L1111.7 318.7 L1111.7 319.5 L1111.8 320.2 L1111.9 321.0 L1112.0 321.7 L1112.1 322.5 L1112.2 323.2 L1112.3 324.0 L1112.3 324.7 L1112.4 325.5 L1112.5 326.2 L1112.6 327.0 L1112.7 327.7 L1112.8 328.5 L1112.8 329.2 L1112.9 330.0 L1113.0 330.7 L1113.1 331.5 L1113.2 332.2 L1113.3 333.0 L1113.4 333.7 L1113.4 334.5 L1113.5 335.2 L1113.6 336.0 L1113.7 336.7 L1113.8 337.5 L1113.9 338.2 L1113.9 339.0 L1114.0 339.7 L1114.1 340.5 L1114.2 341.2 L1114.3 342.0 L1114.3 342.7 L1114.4 343.5 L1114.5 344.2 L1114.6 345.0 L1114.7 345.7 L1114.8 346.5 L1114.8 347.2 L1114.9 348.0 L1115.0 348.7 L1115.1 349.5 L1115.2 350.2 L1115.2 351.0 L1115.3 351.7 L1115.4 352.5 L1115.5 353.2 L1115.6 354.0 L1115.6 354.7 L1115.7 355.5 L1115.8 356.2 L1115.9 357.0 L1116.0 357.7 L1116.0 358.5 L1116.1 359.2 L1116.2 360.0 L1116.3 360.7 L1116.4 361.5 L1116.4 362.2 L1116.5 363.0 L1116.6 363.7 L1116.7 364.5 L1116.8 365.2 L1116.8 366.0 L1116.9 366.7 L1117.0 367.5 L1117.1 368.2 L1117.2 369.0 L1117.2 369.7 L1117.3 370.5 L1117.4 371.2 L1117.5 372.0 L1117.6 372.7 L1117.6 373.5 L1117.7 374.2 L1117.8 375.0 L1117.9 375.7 L1117.9 376.5 L1118.0 377.2 L1118.1 378.0 L1118.2 378.7 L1118.3 379.5 L1118.3 380.2 L1118.4 381.0 L1118.5 381.7 L1118.6 382.5 L1118.6 383.2 L1118.7 384.0 L1118.8 384.7 L1118.9 385.5 L1118.9 386.2 L1119.0 387.0 L1119.1 387.7 L1119.2 388.5 L1119.3 389.2 L1119.3 390.0 L1119.4 390.7 L1119.5 391.5 L1119.6 392.2 L1119.6 393.0 L1119.7 393.7 L1119.8 394.5 L1119.9 395.2 L1119.9 396.0 L1120.0 396.7 L1120.1 397.5 L1120.2 398.2 L1120.2 399.0 L1120.3 399.7 L1120.4 400.5 L1120.5 401.2 L1120.5 402.0 L1120.6 402.7 L1120.7 403.5 L1120.8 404.2 L1120.8 405.0 L1120.9 405.7 L1121.0 406.5 L1121.1 407.2 L1121.1 408.0 L1121.2 408.7 L1121.3 409.5 L1121.3 410.2 L1121.4 411.0 L1121.5 411.7 L1121.6 412.5 L1121.6 413.2 L1121.7 414.0 L1121.8 414.7 L1121.9 415.5 L1121.9 416.2 L1122.0 417.0 L1122.1 417.7 L1122.2 418.5 L1122.2 419.2 L1122.3 420.0 L1122.4 420.7 L1122.4 421.5 L1122.5 422.2 L1122.6 423.0 L1122.7 423.7 L1122.7 424.5 L1122.8 425.2 L1122.9 426.0 L1122.9 426.7 L1123.0 427.5 L1123.1 428.2 L1123.2 429.0 L1123.2 429.7 L1123.3 430.5 L1123.4 431.2 L1123.4 432.0 L1123.5 432.7 L1123.6 433.5 L1123.7 434.2 L1123.7 435.0 L1123.8 435.7 L1123.9 436.5 L1123.9 437.2 L1124.0 438.0 L1124.1 438.7 L1124.2 439.5 L1124.2 440.2 L1124.3 441.0 L1124.4 441.7 L1124.4 442.5 L1124.5 443.2 L1124.6 444.0 L1124.6 444.7 L1124.7 445.5 L1124.8 446.2 L1124.9 447.0 L1124.9 447.7 L1125.0 448.5 L1125.1 449.2 L1125.1 450.0 L1125.2 450.7 L1125.3 451.5 L1125.3 452.2 L1125.4 453.0 L1125.5 453.7 L1125.6 454.5 L1125.6 455.2 L1125.7 456.0 L1125.8 456.7 L1125.8 457.5 L1125.9 458.2 L1126.0 459.0 L1126.0 459.7 L1126.1 460.5 L1126.2 461.2 L1126.2 462.0 L1126.3 462.7 L1126.4 463.5 L1126.4 464.2 L1126.5 465.0 L1126.6 465.7 L1126.6 466.5 L1126.7 467.2 L1126.8 468.0 L1126.8 468.7 L1126.9 469.5 L1127.0 470.2 L1127.1 471.0 L1127.1 471.7 L1127.2 472.5 L1127.3 473.2 L1127.3 474.0 L1127.4 474.7 L1127.5 475.5 L1127.5 476.2 L1127.6 477.0 L1127.7 477.7 L1127.7 478.5 L1127.8 479.2 L1127.9 480.0 L1127.9 480.7 L1128.0 481.5 L1128.1 482.2 L1128.1 483.0 L1128.2 483.7 L1128.3 484.5 L1128.3 485.2 L1128.4 486.0 L1128.5 486.7 L1128.5 487.5 L1128.6 488.2 L1128.7 489.0 L1128.7 489.7 L1128.8 490.5 L1128.8 491.2 L1128.9 492.0 L1129.0 492.7 L1129.0 493.5 L1129.1 494.2 L1129.2 495.0 L1129.2 495.7 L1129.3 496.5 L1129.4 497.2 L1129.4 498.0 L1129.5 498.7 L1129.6 499.5 L1129.6 500.2 L1129.7 501.0 L1129.8 501.7 L1129.8 502.5 L1129.9 503.2 L1130.0 504.0 L1130.0 504.7 L1130.1 505.5 L1130.1 506.2 L1130.2 507.0 L1130.3 507.7 L1130.3 508.5 L1130.4 509.2 L1130.5 510.0 L1130.5 510.7 L1130.6 511.5 L1130.7 512.2 L1130.7 513.0 L1130.8 513.7 L1130.9 514.5 L1130.9 515.2 L1131.0 516.0 L1131.0 516.7 L1131.1 517.5 L1131.2 518.2 L1131.2 519.0 L1131.3 519.7 L1131.4 520.5 L1131.4 521.2 L1131.5 522.0 L1131.6 522.7 L1131.6 523.5 L1131.7 524.2 L1131.7 525.0 L1131.8 525.7 L1131.9 526.5 L1131.9 527.2 L1132.0 528.0 L1132.1 528.7 L1132.1 529.5 L1132.2 530.2 L1132.2 531.0 L1132.3 531.7 L1132.4 532.5 L1132.4 533.2 L1132.5 534.0 L1132.6 534.7 L1132.6 535.5 L1132.7 536.2 L1132.7 537.0 L1132.8 537.7 L1132.9 538.5 L1132.9 539.2 L1133.0 540.0 L1133.1 540.7 L1133.1 541.5 L1133.2 542.2 L1133.2 543.0 L1133.3 543.7 L1133.4 544.5 L1133.4 545.2 L1133.5 546.0 L1133.5 546.7 L1133.6 547.5 L1133.7 548.2 L1133.7 549.0 L1133.8 549.7 L1133.9 550.5 L1133.9 551.2 L1134.0 552.0 L1134.0 552.7 L1134.1 553.5 L1134.2 554.2 L1134.2 555.0 L1134.3 555.7 L1134.3 556.5 L1134.4 557.2 L1134.5 558.0 L1134.5 558.7 L1134.6 559.5 L1134.6 560.2 L1134.7 561.0 L1134.8 561.7 L1134.8 562.5 L1134.9 563.2 L1134.9 564.0 L1135.0 564.7 L1135.1 565.5 L1135.1 566.2 L1135.2 567.0 L1135.3 567.7 L1135.3 568.5 L1135.4 569.2 L1135.4 570.0 L1135.5 570.7 L1135.6 571.5 L1135.6 572.2 L1135.7 573.0 L1135.7 573.7 L1135.8 574.5 L1135.9 575.2 L1135.9 576.0 L1136.0 576.7 L1136.0 577.5 L1136.1 578.2 L1136.2 579.0 L1136.2 579.7 L1136.3 580.5 L1136.3 581.2 L1136.4 582.0 L1136.4 582.7 L1136.5 583.5 L1136.6 584.2 L1136.6 585.0 L1136.7 585.7 L1136.7 586.5 L1136.8 587.2 L1136.9 588.0 L1136.9 588.7 L1137.0 589.5 L1137.0 590.2 L1137.1 591.0 L1137.2 591.7 L1137.2 592.5 L1137.3 593.2 L1137.3 594.0 L1137.4 594.7 L1137.5 595.5 L1137.5 596.2 L1137.6 597.0 L1137.6 597.7 L1137.7 598.5 L1137.7 599.2 L1137.8 600.0 L1137.9 600.7 L1137.9 601.5 L1138.0 602.2 L1138.0 603.0 L1138.1 603.7 L1138.2 604.5 L1138.2 605.2 L1138.3 606.0 L1138.3 606.7 L1138.4 607.5 L1138.5 608.2 L1138.5 609.0 L1138.6 609.7 L1138.6 610.5 L1138.7 611.2 L1138.7 612.0 L1138.8 612.7 L1138.9 613.5 L1138.9 614.2 L1139.0 615.0 L1139.0 615.7 L1139.1 616.5 L1139.1 617.2 L1139.2 618.0 L1139.3 618.7 L1139.3 619.5 L1139.4 620.2 L1139.4 621.0 L1139.5 621.7 L1139.6 622.5 L1139.6 623.2 L1139.7 624.0 L1139.7 624.7 L1139.8 625.5 L1139.8 626.2 L1139.9 627.0 L1140.0 627.7 L1140.0 628.5 L1140.1 629.2 L1140.1 630.0 L1140.2 630.7 L1140.2 631.5 L1140.3 632.2 L1140.4 633.0 L1140.4 633.7 L1140.5 634.5 L1140.5 635.2 L1140.6 636.0 L1140.6 636.7 L1140.7 637.5 L1140.8 638.2 L1140.8 639.0 L1140.9 639.7 L1140.9 640.5 L1141.0 641.2 L1141.0 642.0 L1141.1 642.7 L1141.2 643.5 L1141.2 644.2 L1141.3 645.0 L1141.3 645.7 L1141.4 646.5 L1141.4 647.2 L1141.5 648.0 L1141.6 648.7 L1141.6 649.5 L1141.7 650.2 L1141.7 651.0 L1141.8 651.7 L1141.8 652.5 L1141.9 653.2 L1142.0 654.0 L1142.0 654.7 L1142.1 655.5 L1142.1 656.2 L1142.2 657.0 L1142.2 657.7 L1142.3 658.5 L1142.4 659.2 L1142.4 660.0 L1142.5 660.7 L1142.5 661.5 L1142.6 662.2 L1142.6 663.0 L1142.7 663.7 L1142.8 664.5 L1142.8 665.2 L1142.9 666.0 L1142.9 666.7 L1143.0 667.5 L1143.0 668.2 L1143.1 669.0 L1143.1 669.7 L1143.2 670.5 L1143.3 671.2 L1143.3 672.0 L1143.4 672.7 L1143.4 673.5 L1143.5 674.2 L1143.5 675.0 L1143.6 675.7 L1143.7 676.5 L1143.7 677.2 L1143.8 678.0 L1143.8 678.7 L1143.9 679.5 L1143.9 680.2 L1144.0 681.0 L1144.1 681.7 L1144.1 682.5 L1144.2 683.2 L1144.2 684.0 L1144.3 684.7 L1144.3 685.5 L1144.4 686.2 L1144.4 687.0 L1144.5 687.7 L1144.6 688.5 L1144.6 689.2 L1144.7 690.0 L1144.7 690.7 L1144.8 691.5 L1144.8 692.2 L1144.9 693.0 L1145.0 693.7 L1145.0 694.5 L1145.1 695.2 L1145.1 696.0 L1145.2 696.7 L1145.2 697.5 L1145.3 698.2 L1145.3 699.0 L1145.4 699.7 L1145.5 700.5 L1145.5 701.2 L1145.6 702.0 L1145.6 702.7 L1145.7 703.5 L1145.7 704.2 L1145.8 705.0 L1145.8 705.7 L1145.9 706.5 L1146.0 707.2 L1146.0 708.0 L1146.1 708.7 L1146.1 709.5 L1146.2 710.2 L1146.2 711.0 L1146.3 711.7 L1146.4 712.5 L1146.4 713.2 L1146.5 714.0 L1146.5 714.7 L1146.6 715.5 L1146.6 716.2 L1146.7 717.0 L1146.7 717.7 L1146.8 718.5 L1146.9 719.2 L1146.9 720.0 L1147.0 720.7 L1147.0 721.5 L1147.1 722.2 L1147.1 723.0 L1147.2 723.7 L1147.3 724.5 L1147.3 725.2 L1147.4 726.0 L1147.4 726.7 L1147.5 727.5 L1147.5 728.2 L1147.6 729.0 L1147.6 729.7 L1147.7 730.5 L1147.8 731.2 L1147.8 732.0 L1147.9 732.7 L1147.9 733.5 L1148.0 734.2 L1148.0 735.0 L1148.1 735.7 L1148.1 736.5 L1148.2 737.2 L1148.3 738.0 L1148.3 738.7 L1148.4 739.5 L1148.4 740.2 L1148.5 741.0 L1148.5 741.7 L1148.6 742.5 L1148.7 743.2 L1148.7 744.0 L1148.8 744.7 L1148.8 745.5 L1148.9 746.2 L1148.9 747.0 L1149.0 747.7 L1149.0 748.5 L1149.1 749.2 L1149.2 750.0 L1149.2 750.7 L1149.3 751.5 L1149.3 752.2 L1149.4 753.0 L1149.4 753.7 L1149.5 754.5 L1149.6 755.2 L1149.6 756.0 L1149.7 756.7 L1149.7 757.5 L1149.8 758.2 L1149.8 759.0 L1149.9 759.7 L1149.9 760.5 L1150.0 761.2 L1150.1 762.0 L1150.1 762.7 L1150.2 763.5 L1150.2 764.2 L1150.3 765.0 L1150.3 765.7 L1150.4 766.5 L1150.5 767.2 L1150.5 768.0 L1150.6 768.7 L1150.6 769.5 L1150.7 770.2 L1150.7 771.0 L1150.8 771.7 L1150.9 772.5 L1150.9 773.2 L1151.0 774.0 L1151.0 774.7 L1151.1 775.5 L1151.1 776.2 L1151.2 777.0 L1151.2 777.7 L1151.3 778.5 L1151.4 779.2 L1151.4 780.0 L1151.5 780.7 L1151.5 781.5 L1151.6 782.2 L1151.6 783.0 L1151.7 783.7 L1151.8 784.5 L1151.8 785.2 L1151.9 786.0 L1151.9 786.7 L1152.0 787.5 L1152.0 788.2 L1152.1 789.0 L1152.2 789.7 L1152.2 790.5 L1152.3 791.2 L1152.3 792.0 L1152.4 792.7 L1152.4 793.5 L1152.5 794.2 L1152.6 795.0 L1152.6 795.7 L1152.7 796.5 L1152.7 797.2 L1152.8 798.0 L1152.8 798.7 L1152.9 799.5 L1153.0 800.2 L1153.0 801.0 L1153.1 801.7 L1153.1 802.5 L1153.2 803.2 L1153.2 804.0 L1153.3 804.7 L1153.4 805.5 L1153.4 806.2 L1153.5 807.0 L1153.5 807.7 L1153.6 808.5 L1153.6 809.2 L1153.7 810.0 L1153.8 810.7 L1153.8 811.5 L1153.9 812.2 L1153.9 813.0 L1154.0 813.7 L1154.0 814.5 L1154.1 815.2 L1154.2 816.0 L1154.2 816.7 L1154.3 817.5 L1154.3 818.2 L1154.4 819.0 L1154.5 819.7 L1154.5 820.5 L1154.6 821.2 L1154.6 822.0 L1154.7 822.7 L1154.7 823.5 L1154.8 824.2 L1154.9 825.0 L1154.9 825.7 L1155.0 826.5 L1155.0 827.2 L1155.1 828.0 L1155.2 828.7 L1155.2 829.5 L1155.3 830.2 L1155.3 831.0 L1155.4 831.7 L1155.4 832.5 L1155.5 833.2 L1155.6 834.0 L1155.6 834.7 L1155.7 835.5 L1155.7 836.2 L1155.8 837.0 L1155.9 837.7 L1155.9 838.5 L1156.0 839.2 L1156.0 840.0 L1156.1 840.7 L1156.1 841.5 L1156.2 842.2 L1156.3 843.0 L1156.3 843.7 L1156.4 844.5 L1156.4 845.2 L1156.5 846.0 L1156.6 846.7 L1156.6 847.5 L1156.7 848.2 L1156.7 849.0 L1156.8 849.7 L1156.9 850.5 L1156.9 851.2 L1157.0 852.0 L1157.0 852.7 L1157.1 853.5 L1157.2 854.2 L1157.2 855.0 L1157.3 855.7 L1157.3 856.5 L1157.4 857.2 L1157.5 858.0 L1157.5 858.7 L1157.6 859.5 L1157.6 860.2 L1157.7 861.0 L1157.7 861.7 L1157.8 862.5 L1157.9 863.2 L1157.9 864.0 L1158.0 864.7 L1158.0 865.5 L1158.1 866.2 L1158.2 867.0 L1158.2 867.7 L1158.3 868.5 L1158.3 869.2 L1158.4 870.0 L1158.5 870.7 L1158.5 871.5 L1158.6 872.2 L1158.7 873.0 L1158.7 873.7 L1158.8 874.5 L1158.8 875.2 L1158.9 876.0 L1159.0 876.7 L1159.0 877.5 L1159.1 878.2 L1159.1 879.0 L1159.2 879.7 L1159.3 880.5 L1159.3 881.2 L1159.4 882.0 L1159.4 882.7 L1159.5 883.5 L1159.6 884.2 L1159.6 885.0 L1159.7 885.7 L1159.7 886.5 L1159.8 887.2 L1159.9 888.0 L1159.9 888.7 L1160.0 889.5 L1160.1 890.2 L1160.1 891.0 L1160.2 891.7 L1160.2 892.5 L1160.3 893.2 L1160.4 894.0 L1160.4 894.7 L1160.5 895.5 L1160.5 896.2 L1160.6 897.0 L1160.7 897.7 L1160.7 898.5 L1160.8 899.2 L1160.9 900.0 L1160.9 900.7 L1161.0 901.5 L1161.0 902.2 L1161.1 903.0 L1161.2 903.7 L1161.2 904.5 L1161.3 905.2 L1161.4 906.0 L1161.4 906.7 L1161.5 907.5 L1161.5 908.2 L1161.6 909.0 L1161.7 909.7 L1161.7 910.5 L1161.8 911.2 L1161.9 912.0 L1161.9 912.7 L1162.0 913.5 L1162.0 914.2 L1162.1 915.0 L1162.2 915.7 L1162.2 916.5 L1162.3 917.2 L1162.4 918.0 L1162.4 918.7 L1162.5 919.5 L1162.6 920.2 L1162.6 921.0 L1162.7 921.7 L1162.7 922.5 L1162.8 923.2 L1162.9 924.0 L1162.9 924.7 L1163.0 925.5 L1163.1 926.2 L1163.1 927.0 L1163.2 927.7 L1163.3 928.5 L1163.3 929.2 L1163.4 930.0 L1163.5 930.7 L1163.5 931.5 L1163.6 932.2 L1163.7 933.0 L1163.7 933.7 L1163.8 934.5 L1163.9 935.2 L1163.9 936.0 L1164.0 936.7 L1164.1 937.5 L1164.1 938.2 L1164.2 939.0 L1164.3 939.7 L1164.3 940.5 L1164.4 941.2 L1164.5 942.0 L1164.5 942.7 L1164.6 943.5 L1164.7 944.2 L1164.7 945.0 L1164.8 945.7 L1164.9 946.5 L1164.9 947.2 L1165.0 948.0 L1165.1 948.7 L1165.1 949.5 L1165.2 950.2 L1165.3 951.0 L1165.3 951.7 L1165.4 952.5 L1165.5 953.2 L1165.5 954.0 L1165.6 954.7 L1165.7 955.5 L1165.7 956.2 L1165.8 957.0 L1165.9 957.7 L1166.0 958.5 L1166.0 959.2 L1166.1 960.0 L1166.2 960.7 L1166.2 961.5 L1166.3 962.2 L1166.4 963.0 L1166.5 963.7 L1166.5 964.5 L1166.6 965.2 L1166.7 966.0 L1166.7 966.7 L1166.8 967.5 L1166.9 968.2 L1167.0 969.0 L1167.0 969.7 L1167.1 970.5 L1167.2 971.2 L1167.3 972.0 L1167.3 972.7 L1167.4 973.5 L1167.5 974.2 L1167.5 975.0 L1167.6 975.7 L1167.7 976.5 L1167.8 977.2 L1167.8 978.0 L1167.9 978.7 L1168.0 979.5 L1168.1 980.2 L1168.1 981.0 L1168.2 981.7 L1168.3 982.5 L1168.4 983.2 L1168.5 984.0 L1168.5 984.7 L1168.6 985.5 L1168.7 986.2 L1168.8 987.0 L1168.8 987.7 L1168.9 988.5 L1169.0 989.2 L1169.1 990.0 L1169.2 990.7 L1169.2 991.5 L1169.3 992.2 L1169.4 993.0 L1169.5 993.7 L1169.5 994.5 L1169.6 995.2 L1169.7 996.0 L1169.8 996.7 L1169.9 997.5 L1170.0 998.2 L1170.0 999.0 L1170.1 999.7 L1170.2 1000.5 L1170.3 1001.2 L1170.4 1002.0 L1170.4 1002.7 L1170.5 1003.5 L1170.6 1004.2 L1170.7 1005.0 L1170.8 1005.7 L1170.9 1006.5 L1170.9 1007.2 L1171.0 1008.0 L1171.1 1008.7 L1171.2 1009.5 L1171.3 1010.2 L1171.4 1011.0 L1171.5 1011.7 L1171.5 1012.5 L1171.6 1013.2 L1171.7 1014.0 L1171.8 1014.7 L1171.9 1015.5 L1172.0 1016.2 L1172.1 1017.0 L1172.1 1017.7 L1172.2 1018.5 L1172.3 1019.2 L1172.4 1020.0 L1172.5 1020.7 L1172.6 1021.5 L1172.7 1022.2 L1172.8 1023.0 L1172.9 1023.7 L1173.0 1024.5 L1173.0 1025.2 L1173.1 1026.0 L1173.2 1026.7 L1173.3 1027.5 L1173.4 1028.2 L1173.5 1029.0 L1173.6 1029.7 L1173.7 1030.5 L1173.8 1031.2 L1173.9 1032.0 L1174.0 1032.7 L1174.1 1033.5 L1174.2 1034.2 L1174.3 1035.0 L1174.3 1035.7 L1174.4 1036.5 L1174.5 1037.2 L1174.6 1038.0 L1174.7 1038.7 L1174.8 1039.5 L1174.9 1040.2 L1175.0 1041.0 L1175.1 1041.7 L1175.2 1042.5 L1175.3 1043.2 L1175.4 1044.0 L1175.5 1044.7 L1175.6 1045.5 L1175.7 1046.2 L1175.8 1047.0 L1175.9 1047.7 L1176.0 1048.5 L1176.1 1049.2 L1176.2 1050.0 L1176.3 1050.7 L1176.4 1051.5 L1176.5 1052.2 L1176.6 1053.0 L1176.7 1053.7 L1176.8 1054.5 L1176.9 1055.2 L1177.0 1056.0 L1177.2 1056.7 L1177.3 1057.5 L1177.4 1058.2 L1177.5 1059.0 L1177.6 1059.7 L1177.7 1060.5 L1177.8 1061.2 L1177.9 1062.0 L1178.0 1062.7 L1178.1 1063.5 L1178.2 1064.2 L1178.3 1065.0 L1178.4 1065.7 L1178.6 1066.5 L1178.7 1067.2 L1178.8 1068.0 L1178.9 1068.7 L1179.0 1069.5 L1179.1 1070.2 L1179.2 1071.0 L1179.3 1071.7 L1179.4 1072.5 L1179.6 1073.2 L1179.7 1074.0 L1179.8 1074.7 L1179.9 1075.5 L1180.0 1076.2 L1180.1 1077.0 L1180.2 1077.7 L1180.4 1078.5 L1180.5 1079.2 L1180.6 1080.0 L1180.7 1080.7 L1180.8 1081.5 L1180.9 1082.2 L1181.1 1083.0 L1181.2 1083.7 L1181.3 1084.5 L1181.4 1085.2 L1181.5 1086.0 L1181.7 1086.7 L1181.8 1087.5 L1181.9 1088.2 L1182.0 1089.0 L1182.2 1089.7 L1182.3 1090.5 L1182.4 1091.2 L1182.5 1092.0 L1182.7 1092.7 L1182.8 1093.5 L1182.9 1094.2 L1183.0 1095.0 L1183.2 1095.7 L1183.3 1096.5 L1183.4 1097.2 L1183.5 1098.0 L1183.7 1098.7 L1183.8 1099.5 L1183.9 1100.2 L1184.0 1101.0 L1184.2 1101.7 L1184.3 1102.5 L1184.4 1103.2 L1184.6 1104.0 L1184.7 1104.7 L1184.8 1105.5 L1185.0 1106.2 L1185.1 1107.0 L1185.2 1107.7 L1185.4 1108.5 L1185.5 1109.2 L1185.6 1110.0 L1185.8 1110.7 L1185.9 1111.5 L1186.0 1112.2 L1186.2 1113.0 L1186.3 1113.7 L1186.4 1114.5 L1186.6 1115.2 L1186.7 1116.0 L1186.9 1116.7 L1187.0 1117.5 L1187.1 1118.2 L1187.3 1119.0 L1187.4 1119.7 L1187.6 1120.5 L1187.7 1121.2 L1187.8 1122.0 L1188.0 1122.7 L1188.1 1123.5 L1188.3 1124.2 L1188.4 1125.0 L1188.5 1125.7 L1188.7 1126.5 L1188.8 1127.2 L1189.0 1128.0 L1189.1 1128.7 L1189.2 1129.5 L1189.4 1130.2 L1189.5 1131.0 L1189.7 1131.7 L1189.8 1132.5 L1190.0 1133.2 L1190.1 1134.0 L1190.3 1134.7 L1190.4 1135.5 L1190.5 1136.2 L1190.7 1137.0 L1190.8 1137.7 L1191.0 1138.5 L1191.1 1139.2 L1191.3 1140.0 L1191.4 1140.7 L1191.6 1141.5 L1191.7 1142.2 L1191.9 1143.0 L1192.0 1143.7 L1192.2 1144.5 L1192.3 1145.2 L1192.5 1146.0 L1192.6 1146.7 L1192.7 1147.5 L1192.9 1148.2 L1193.0 1149.0 L1193.2 1149.7 L1193.3 1150.5 L1193.5 1151.2 L1193.6 1152.0 L1193.8 1152.7 L1193.9 1153.5 L1194.1 1154.2 L1194.2 1155.0 L1194.4 1155.7 L1194.5 1156.5 L1194.7 1157.2 L1194.8 1158.0 L1195.0 1158.7 L1195.1 1159.5 L1195.3 1160.2 L1195.4 1161.0 L1195.6 1161.7 L1195.7 1162.5 L1195.9 1163.2 L1196.0 1164.0 L1196.2 1164.7 L1196.3 1165.5 L1196.5 1166.2 L1196.6 1167.0 L1196.8 1167.7 L1196.9 1168.5 L1197.1 1169.2 L1197.3 1170.0 L1197.4 1170.7 L1197.6 1171.5 L1197.7 1172.2 L1197.9 1173.0 L1198.0 1173.7 L1198.2 1174.5 L1198.3 1175.2 L1198.5 1176.0 L1198.6 1176.7 L1198.8 1177.5 L1198.9 1178.2 L1199.1 1179.0 L1199.2 1179.7 L1199.4 1180.5 L1199.5 1181.2 L1199.7 1182.0 L1199.8 1182.7 L1200.0 1183.5 L1200.1 1184.2 L1200.3 1185.0 L1200.4 1185.7 L1200.6 1186.5 L1200.7 1187.2 L1200.9 1188.0 L1201.0 1188.7 L1201.2 1189.5 L1201.3 1190.2 L1201.5 1191.0 L1201.6 1191.7 L1201.8 1192.5 L1201.9 1193.2 L1202.1 1194.0 L1202.2 1194.7 L1202.4 1195.5 L1202.5 1196.2 L1202.7 1197.0 L1202.8 1197.7 L1203.0 1198.5 L1203.1 1199.2 L1203.3 1200.0 L1203.4 1200.7 L1203.6 1201.5 L1203.7 1202.2 L1203.9 1203.0 L1204.0 1203.7 L1204.2 1204.5 L1204.3 1205.2 L1204.4 1206.0 L1204.6 1206.7 L1204.7 1207.5 L1204.9 1208.2 L1205.0 1209.0 L1205.2 1209.7 L1205.3 1210.5 L1205.5 1211.2 L1205.6 1212.0 L1205.8 1212.7 L1205.9 1213.5 L1206.1 1214.2 L1206.2 1215.0 L1206.3 1215.7 L1206.5 1216.5 L1206.6 1217.2 L1206.8 1218.0 L1206.9 1218.7 L1207.1 1219.5 L1207.2 1220.2 L1207.3 1221.0 L1207.5 1221.7 L1207.6 1222.5 L1207.8 1223.2 L1207.9 1224.0 L1208.1 1224.7 L1208.2 1225.5 L1208.3 1226.2 L1208.5 1227.0 L1208.6 1227.7 L1208.8 1228.5 L1208.9 1229.2 L1209.0 1230.0 L1209.2 1230.7 L1209.3 1231.5 L1209.4 1232.2 L1209.6 1233.0 L1209.7 1233.7 L1209.9 1234.5 L1210.0 1235.2 L1210.1 1236.0 L1210.3 1236.7 L1210.4 1237.5 L1210.5 1238.2 L1210.7 1239.0 L1210.8 1239.7 L1211.0 1240.5 L1211.1 1241.2 L1211.2 1242.0 L1211.4 1242.7 L1211.5 1243.5 L1211.6 1244.2 L1211.8 1245.0 L1211.9 1245.7 L1212.0 1246.5 L1212.2 1247.2 L1212.3 1248.0 L1212.4 1248.7 L1212.6 1249.5 L1212.7 1250.2 L1212.8 1251.0 L1213.0 1251.7 L1213.1 1252.5 L1213.2 1253.2 L1213.4 1254.0 L1213.5 1254.7 L1213.6 1255.5 L1213.8 1256.2 L1213.9 1257.0 L1214.0 1257.7 L1214.1 1258.5 L1214.3 1259.2 L1214.4 1260.0 L1214.5 1260.7 L1214.7 1261.5 L1214.8 1262.2 L1214.9 1263.0 L1215.0 1263.7 L1215.2 1264.5 L1215.3 1265.2 L1215.4 1266.0 L1215.6 1266.7 L1215.7 1267.5 L1215.8 1268.2 L1215.9 1269.0 L1216.1 1269.7 L1216.2 1270.5 L1216.3 1271.2 L1216.4 1272.0 L1216.6 1272.7 L1216.7 1273.5 L1216.8 1274.2 L1217.0 1275.0 L1217.1 1275.7 L1217.2 1276.5 L1217.3 1277.2 L1217.5 1278.0 L1217.6 1278.7 L1217.7 1279.5 L1217.8 1280.2 L1217.9 1281.0 L1218.1 1281.7 L1218.2 1282.5 L1218.3 1283.2 L1218.4 1284.0 L1218.6 1284.7 L1218.7 1285.5 L1218.8 1286.2 L1218.9 1287.0 L1219.1 1287.7 L1219.2 1288.5 L1219.3 1289.2 L1219.4 1290.0 L1219.5 1290.7 L1219.7 1291.5 L1219.8 1292.2 L1219.9 1293.0 L1220.0 1293.7 L1220.1 1294.5 L1220.3 1295.2 L1220.4 1296.0 L1220.5 1296.7 L1220.6 1297.5 L1220.7 1298.2 L1220.9 1299.0 L1221.0 1299.7 L1221.1 1300.5 L1221.2 1301.2 L1221.3 1302.0 L1221.5 1302.7 L1221.6 1303.5 L1221.7 1304.2 L1221.8 1305.0 L1221.9 1305.7 L1222.0 1306.5 L1222.2 1307.2 L1222.3 1308.0 L1222.4 1308.7 L1222.5 1309.5 L1222.6 1310.2 L1222.8 1311.0 L1222.9 1311.7 L1223.0 1312.5 L1223.1 1313.2 L1223.2 1314.0 L1223.3 1314.7 L1223.4 1315.5 L1223.6 1316.2 L1223.7 1317.0 L1223.8 1317.7 L1223.9 1318.5 L1224.0 1319.2 L1224.1 1320.0 L1224.3 1320.7 L1224.4 1321.5 L1224.5 1322.2 L1224.6 1323.0 L1224.7 1323.7 L1224.8 1324.5 L1224.9 1325.2 L1225.1 1326.0 L1225.2 1326.7 L1225.3 1327.5 L1225.4 1328.2 L1225.5 1329.0 L1225.6 1329.7 L1225.7 1330.5 L1225.8 1331.2 L1226.0 1332.0 L1226.1 1332.7 L1226.2 1333.5 L1226.3 1334.2 L1226.4 1335.0 L1226.5 1335.7 L1226.6 1336.5 L1226.7 1337.2 L1226.9 1338.0 L1227.0 1338.7 L1227.1 1339.5 L1227.2 1340.2 L1227.3 1341.0 L1227.4 1341.7 L1227.5 1342.5 L1227.6 1343.2 L1227.7 1344.0 L1227.9 1344.7 L1228.0 1345.5 L1228.1 1346.2 L1228.2 1347.0 L1228.3 1347.7 L1228.4 1348.5 L1228.5 1349.2 L1228.6 1350.0 L1228.7 1350.7 L1228.8 1351.5 L1229.0 1352.2 L1229.1 1353.0 L1229.2 1353.7 L1229.3 1354.5 L1229.4 1355.2 L1229.5 1356.0 L1229.6 1356.7 L1229.7 1357.5 L1229.8 1358.2 L1229.9 1359.0 L1230.0 1359.7 L1230.1 1360.5 L1230.3 1361.2 L1230.4 1362.0 L1230.5 1362.7 L1230.6 1363.5 L1230.7 1364.2 L1230.8 1365.0 L1230.9 1365.7 L1231.0 1366.5 L1231.1 1367.2 L1231.2 1368.0 L1231.3 1368.7 L1231.4 1369.5 L1231.6 1370.2 L1231.7 1371.0 L1231.8 1371.7 L1231.9 1372.5 L1232.0 1373.2 L1232.1 1374.0 L1232.2 1374.7 L1232.3 1375.5 L1232.4 1376.2 L1232.5 1377.0 L1232.6 1377.7 L1232.7 1378.5 L1232.8 1379.2 L1233.0 1380.0 L1233.1 1380.7 L1233.2 1381.5 L1233.3 1382.2 L1233.4 1383.0 L1233.5 1383.7 L1233.6 1384.5 L1233.7 1385.2 L1233.8 1386.0 L1233.9 1386.7 L1234.1 1387.5 L1234.2 1388.2 L1234.3 1389.0 L1234.4 1389.7 L1234.5 1390.5 L1234.6 1391.2 L1234.7 1392.0 L1234.8 1392.7 L1234.9 1393.5 L1235.1 1394.2 L1235.2 1395.0 L1235.3 1395.7 L1235.4 1396.5 L1235.5 1397.2 L1235.6 1398.0 L1235.7 1398.7 L1235.8 1399.5 L1236.0 1400.2 L1236.1 1401.0 L1236.2 1401.7 L1236.3 1402.5 L1236.4 1403.2 L1236.5 1404.0 L1236.7 1404.7 L1236.8 1405.5 L1236.9 1406.2 L1237.0 1407.0 L1237.1 1407.7 L1237.2 1408.5 L1237.4 1409.2 L1237.5 1410.0 L1237.6 1410.7 L1237.7 1411.5 L1237.8 1412.2 L1238.0 1413.0 L1238.1 1413.7 L1238.2 1414.5 L1238.3 1415.2 L1238.5 1416.0 L1238.6 1416.7 L1238.7 1417.5 L1238.8 1418.2 L1239.0 1419.0 L1239.1 1419.7 L1239.2 1420.5 L1239.3 1421.2 L1239.5 1422.0 L1239.6 1422.7 L1239.7 1423.5 L1239.9 1424.2 L1240.0 1425.0 L1240.1 1425.7 L1240.2 1426.5 L1240.4 1427.2 L1240.5 1428.0 L1240.6 1428.7 L1240.8 1429.5 L1240.9 1430.1 L1241.0 1430.5 L1241.0 1430.9 L1241.1 1431.0 L1241.1 1431.4 L1241.2 1431.8 L1241.3 1432.4 L1241.5 1433.2 L1241.7 1433.9 L1241.9 1434.6 L1242.1 1435.4 L1242.4 1436.1 L1242.6 1436.8 L1242.9 1437.5 L1243.2 1438.2 L1243.5 1438.8 L1243.8 1439.5 L1244.1 1440.2 L1244.5 1440.9 L1244.8 1441.6 L1245.2 1442.2 L1245.7 1442.9 L1246.1 1443.5 L1246.6 1444.1 L1247.1 1444.6 L1247.6 1445.1 L1248.2 1445.5 L1248.8 1445.8 L1249.4 1446.1 L1250.1 1446.3 L1250.8 1446.6 L1251.5 1446.8 L1252.3 1447.0 L1253.1 1447.2 L1253.8 1447.3 L1254.6 1447.4 L1255.3 1447.5 L1256.1 1447.6 L1256.8 1447.7 L1257.5 1447.7 L1258.3 1447.8 L1259.0 1447.8 L1259.8 1447.9 L1260.5 1447.9 L1261.3 1447.9 L1262.0 1448.0 L1262.8 1448.0 L1263.5 1448.0 L1264.3 1448.1 L1265.0 1448.1 L1265.8 1448.1 L1266.5 1448.2 L1267.3 1448.2 L1268.0 1448.2 L1268.8 1448.2 L1269.5 1448.3 L1270.3 1448.3 L1271.0 1448.3 L1271.8 1448.4 L1272.5 1448.4 L1273.3 1448.5 L1274.0 1448.5 L1274.8 1448.5 L1275.5 1448.5 L1276.3 1448.6 L1277.0 1448.6 L1277.8 1448.6 L1278.5 1448.7 L1279.3 1448.7 L1280.0 1448.7 L1280.8 1448.8 L1281.5 1448.8 L1282.3 1448.8 L1283.0 1448.9 L1283.8 1448.9 L1284.5 1448.9 L1285.3 1449.0 L1286.0 1449.0 L1286.8 1449.0 L1287.5 1449.1 L1288.2 1449.1 L1289.0 1449.1 L1289.7 1449.2 L1290.5 1449.2 L1291.2 1449.3 L1292.0 1449.3 L1292.7 1449.4 L1293.5 1449.4 L1294.2 1449.5 L1295.0 1449.5 L1295.7 1449.6 L1296.5 1449.6 L1297.2 1449.7 L1298.0 1449.7 L1298.7 1449.8 L1299.5 1449.9 L1300.2 1449.9 L1301.0 1450.0 L1301.7 1450.0 L1302.4 1450.1 L1303.2 1450.2 L1303.9 1450.2 L1304.7 1450.3 L1305.4 1450.4 L1306.2 1450.4 L1306.9 1450.5 L1307.7 1450.6 L1308.4 1450.6 L1309.2 1450.7 L1309.9 1450.8 L1310.7 1450.8 L1311.4 1450.9 L1312.1 1451.0 L1312.9 1451.1 L1313.6 1451.1 L1314.4 1451.2 L1315.1 1451.3 L1315.9 1451.3 L1316.6 1451.4 L1317.4 1451.5 L1318.1 1451.5 L1318.9 1451.6 L1319.6 1451.7 L1320.4 1451.7 L1321.1 1451.8 L1321.8 1451.9 L1322.6 1451.9 L1323.3 1452.0 L1324.1 1452.1 L1324.8 1452.1 L1325.6 1452.2 L1326.3 1452.2 L1327.1 1452.3 L1327.8 1452.3 L1328.6 1452.4 L1329.3 1452.5 L1330.1 1452.5 L1330.8 1452.6 L1331.6 1452.6 L1332.3 1452.6 L1333.0 1452.7 L1333.8 1452.7 L1334.5 1452.8 L1335.3 1452.8 L1336.0 1452.8 L1336.8 1452.9 L1337.5 1452.9 L1338.3 1452.9 L1339.0 1453.0 L1339.8 1453.0 L1340.5 1453.0 L1341.3 1453.0 L1342.0 1453.1 L1342.8 1453.1 L1343.5 1453.1 L1344.3 1453.1 L1345.0 1453.1 L1345.8 1453.2 L1346.5 1453.2 L1347.3 1453.2 L1348.0 1453.2 L1348.7 1453.3 L1349.5 1453.3 L1350.2 1453.3 L1351.0 1453.3 L1351.7 1453.3 L1352.5 1453.4 L1353.2 1453.4 L1354.0 1453.4 L1354.7 1453.4 L1355.5 1453.4 L1356.2 1453.5 L1357.0 1453.5 L1357.7 1453.5 L1358.5 1453.5 L1359.2 1453.5 L1360.0 1453.6 L1360.7 1453.6 L1361.5 1453.6 L1362.2 1453.6 L1363.0 1453.6 L1363.7 1453.6 L1364.5 1453.7 L1365.2 1453.7 L1365.9 1453.7 L1366.7 1453.7 L1367.4 1453.7 L1368.2 1453.8 L1368.9 1453.8 L1369.7 1453.8 L1370.4 1453.8 L1371.2 1453.8 L1371.9 1453.8 L1372.7 1453.9 L1373.4 1453.9 L1374.2 1453.9 L1374.9 1453.9 L1375.7 1453.9 L1376.4 1453.9 L1377.2 1454.0 L1377.9 1454.0 L1378.7 1454.0 L1379.4 1454.0 L1380.2 1454.0 L1380.9 1454.0 L1381.7 1454.1 L1382.4 1454.1 L1383.2 1454.1 L1383.9 1454.1 L1384.7 1454.1 L1385.4 1454.1 L1386.1 1454.2 L1386.9 1454.2 L1387.6 1454.2 L1388.4 1454.2 L1389.1 1454.2 L1389.9 1454.2 L1390.6 1454.2 L1391.4 1454.3 L1392.1 1454.3 L1392.9 1454.3 L1393.6 1454.3 L1394.4 1454.3 L1395.1 1454.3 L1395.9 1454.4 L1396.6 1454.4 L1397.4 1454.4 L1398.1 1454.4 L1398.9 1454.4 L1399.6 1454.4 L1400.4 1454.4 L1401.1 1454.5 L1401.9 1454.5 L1402.6 1454.5 L1403.4 1454.5 L1404.1 1454.5 L1404.9 1454.5 L1405.6 1454.5 L1406.4 1454.5 L1407.1 1454.6 L1407.9 1454.6 L1408.6 1454.6 L1409.4 1454.6 L1410.1 1454.6 L1410.9 1454.6 L1411.6 1454.6 L1412.4 1454.6 L1413.1 1454.7 L1413.8 1454.7 L1414.6 1454.7 L1415.3 1454.7 L1416.1 1454.7 L1416.8 1454.7 L1417.6 1454.7 L1418.3 1454.7 L1419.1 1454.8 L1419.8 1454.8 L1420.6 1454.8 L1421.3 1454.8 L1422.1 1454.8 L1422.8 1454.8 L1423.6 1454.8 L1424.3 1454.8 L1425.1 1454.9 L1425.8 1454.9 L1426.6 1454.9 L1427.3 1454.9 L1428.1 1454.9 L1428.8 1454.9 L1429.6 1454.9 L1430.3 1454.9 L1431.1 1454.9 L1431.8 1455.0 L1432.6 1455.0 L1433.3 1455.0 L1434.1 1455.0 L1434.8 1455.0 L1435.6 1455.0 L1436.3 1455.0 L1437.1 1455.0 L1437.8 1455.0 L1438.6 1455.0 L1439.3 1455.1 L1440.1 1455.1 L1440.8 1455.1 L1441.6 1455.1 L1442.3 1455.1 L1443.1 1455.1 L1443.8 1455.1 L1444.6 1455.1 L1445.3 1455.1 L1446.1 1455.2 L1446.8 1455.2 L1447.5 1455.2 L1448.3 1455.2 L1449.0 1455.2 L1449.8 1455.2 L1450.5 1455.2 L1451.3 1455.2 L1452.0 1455.2 L1452.8 1455.2 L1453.5 1455.2 L1454.3 1455.3 L1455.0 1455.3 L1455.8 1455.3 L1456.5 1455.3 L1457.3 1455.3 L1458.0 1455.3 L1458.8 1455.3 L1459.5 1455.3 L1460.3 1455.3 L1461.0 1455.3 L1461.8 1455.3 L1462.5 1455.4 L1463.3 1455.4 L1464.0 1455.4 L1464.8 1455.4 L1465.5 1455.4 L1466.3 1455.4 L1467.0 1455.4 L1467.8 1455.4 L1468.5 1455.4 L1469.3 1455.4 L1470.0 1455.4 L1470.8 1455.5 L1471.5 1455.5 L1472.3 1455.5 L1473.0 1455.5 L1473.8 1455.5 L1474.5 1455.5 L1475.3 1455.5 L1476.0 1455.5 L1476.8 1455.5 L1477.5 1455.5 L1478.3 1455.5 L1479.0 1455.5 L1479.8 1455.6 L1480.5 1455.6 L1481.3 1455.6 L1482.0 1455.6 L1482.8 1455.6 L1483.5 1455.6 L1484.3 1455.6 L1485.0 1455.6 L1485.8 1455.6 L1486.5 1455.6 L1487.3 1455.6 L1488.0 1455.6 L1488.8 1455.7 L1489.5 1455.7 L1490.3 1455.7 L1491.0 1455.7 L1491.7 1455.7 L1492.5 1455.7 L1493.2 1455.7 L1494.0 1455.7 L1494.7 1455.7 L1495.5 1455.7 L1496.2 1455.7 L1497.0 1455.7 L1497.7 1455.7 L1498.5 1455.8 L1499.2 1455.8 L1500.0 1455.8 L1500.7 1455.8 L1501.5 1455.8 L1502.2 1455.8 L1503.0 1455.8 L1503.7 1455.8 L1504.5 1455.8 L1505.2 1455.8 L1506.0 1455.8 L1506.7 1455.8 L1507.5 1455.8 L1508.2 1455.9 L1509.0 1455.9 L1509.7 1455.9 L1510.5 1455.9 L1511.2 1455.9 L1512.0 1455.9 L1512.7 1455.9 L1513.5 1455.9 L1514.2 1455.9 L1515.0 1455.9 L1515.7 1455.9 L1516.5 1455.9 L1517.2 1455.9 L1518.0 1456.0 L1518.7 1456.0 L1519.5 1456.0 L1520.2 1456.0 L1521.0 1456.0 L1521.7 1456.0 L1522.5 1456.0 L1523.2 1456.0 L1524.0 1456.0 L1524.7 1456.0 L1525.5 1456.0 L1526.2 1456.0 L1527.0 1456.0 L1527.7 1456.1 L1528.5 1456.1 L1529.2 1456.1 L1530.0 1456.1 L1530.7 1456.1 L1531.5 1456.1 L1532.2 1456.1 L1533.0 1456.1 L1533.7 1456.1 L1534.5 1456.1 L1535.2 1456.1 L1535.9 1456.1 L1536.7 1456.1 L1537.4 1456.2 L1538.2 1456.2 L1538.9 1456.2 L1539.7 1456.2 L1540.4 1456.2 L1541.2 1456.2 L1541.9 1456.2 L1542.7 1456.2 L1543.4 1456.2 L1544.2 1456.2 L1544.9 1456.2 L1545.7 1456.2 L1546.4 1456.2 L1547.2 1456.3 L1547.9 1456.3 L1548.7 1456.3 L1549.4 1456.3 L1550.2 1456.3 L1550.9 1456.3 L1551.7 1456.3 L1552.4 1456.3 L1553.2 1456.3 L1553.9 1456.3 L1554.7 1456.3 L1555.4 1456.3 L1556.2 1456.4 L1556.9 1456.4 L1557.7 1456.4 L1558.4 1456.4 L1559.2 1456.4 L1559.9 1456.4 L1560.7 1456.4 L1561.4 1456.4 L1562.2 1456.4 L1562.9 1456.4 L1563.7 1456.4 L1564.4 1456.5 L1565.2 1456.5 L1565.9 1456.5 L1566.7 1456.5 L1567.4 1456.5 L1568.2 1456.5 L1568.9 1456.5 L1569.6 1456.5 L1570.4 1456.5 L1571.1 1456.5 L1571.9 1456.5 L1572.6 1456.5 L1573.4 1456.5 L1574.1 1456.6 L1574.9 1456.6 L1575.6 1456.6 L1576.4 1456.6 L1577.1 1456.6 L1577.9 1456.6 L1578.6 1456.6 L1579.4 1456.6 L1580.1 1456.6 L1580.9 1456.6 L1581.6 1456.6 L1582.4 1456.6 L1583.1 1456.7 L1583.9 1456.7 L1584.6 1456.7 L1585.4 1456.7 L1586.1 1456.7 L1586.9 1456.7 L1587.6 1456.7 L1588.4 1456.7 L1589.1 1456.7 L1589.9 1456.7 L1590.6 1456.7 L1591.4 1456.7 L1592.1 1456.7 L1592.9 1456.8 L1593.6 1456.8 L1594.4 1456.8 L1595.1 1456.8 L1595.9 1456.8 L1596.6 1456.8 L1597.4 1456.8 L1598.1 1456.8 L1598.9 1456.8 L1599.6 1456.8 L1600.4 1456.8 L1601.1 1456.8 L1601.8 1456.8 L1602.6 1456.8 L1603.3 1456.9 L1604.1 1456.9 L1604.8 1456.9 L1605.6 1456.9 L1606.3 1456.9 L1607.1 1456.9 L1607.8 1456.9 L1608.6 1456.9 L1609.3 1456.9 L1610.1 1456.9 L1610.8 1456.9 L1611.6 1456.9 L1612.3 1456.9 L1613.1 1456.9 L1613.8 1457.0 L1614.6 1457.0 L1615.3 1457.0 L1616.1 1457.0 L1616.8 1457.0 L1617.6 1457.0 L1618.3 1457.0 L1619.1 1457.0 L1619.8 1457.0 L1620.6 1457.0 L1621.3 1457.0 L1622.1 1457.0 L1622.8 1457.0 L1623.6 1457.0 L1624.3 1457.0 L1625.1 1457.1 L1625.8 1457.1 L1626.6 1457.1 L1627.3 1457.1 L1628.1 1457.1 L1628.8 1457.1 L1629.6 1457.1 L1630.3 1457.1 L1631.1 1457.1 L1631.8 1457.1 L1632.6 1457.1 L1633.3 1457.1 L1634.0 1457.1 L1634.8 1457.1 L1635.5 1457.1 L1636.3 1457.1 L1637.0 1457.2 L1637.8 1457.2 L1638.5 1457.2 L1639.3 1457.2 L1640.0 1457.2 L1640.8 1457.2 L1641.5 1457.2 L1642.3 1457.2 L1643.0 1457.2 L1643.8 1457.2 L1644.5 1457.2 L1645.3 1457.2 L1646.0 1457.2 L1646.8 1457.2 L1647.5 1457.2 L1648.3 1457.2 L1649.0 1457.3 L1649.8 1457.3 L1650.5 1457.3 L1651.3 1457.3 L1652.0 1457.3 L1652.8 1457.3 L1653.5 1457.3 L1654.3 1457.3 L1655.0 1457.3 L1655.8 1457.3 L1656.5 1457.3 L1657.3 1457.3 L1658.0 1457.3 L1658.8 1457.3 L1659.5 1457.3 L1660.3 1457.3 L1661.0 1457.4 L1661.8 1457.4 L1662.5 1457.4 L1663.3 1457.4 L1664.0 1457.4 L1664.8 1457.4 L1665.5 1457.4 L1666.2 1457.4 L1667.0 1457.4 L1667.7 1457.4 L1668.5 1457.4 L1669.2 1457.4 L1670.0 1457.4 L1670.7 1457.4 L1671.5 1457.4 L1672.2 1457.4 L1673.0 1457.5 L1673.7 1457.5 L1674.5 1457.5 L1675.2 1457.5 L1676.0 1457.5 L1676.7 1457.5 L1677.5 1457.5 L1678.2 1457.5 L1679.0 1457.5 L1679.7 1457.5 L1680.5 1457.5 L1681.2 1457.5 L1682.0 1457.5 L1682.7 1457.5 L1683.5 1457.5 L1684.2 1457.5 L1685.0 1457.5 L1685.7 1457.6 L1686.5 1457.6 L1687.2 1457.6 L1688.0 1457.6 L1688.7 1457.6 L1689.5 1457.6 L1690.2 1457.6 L1691.0 1457.6 L1691.7 1457.6 L1692.5 1457.6 L1693.2 1457.6 L1694.0 1457.6 L1694.7 1457.6 L1695.5 1457.6 L1696.2 1457.6 L1697.0 1457.6 L1697.7 1457.7 L1698.4 1457.7 L1699.2 1457.7 L1699.9 1457.7 L1700.7 1457.7 L1701.4 1457.7 L1702.2 1457.7 L1702.9 1457.7 L1703.7 1457.7 L1704.4 1457.7 L1705.2 1457.7 L1705.9 1457.7 L1706.7 1457.7 L1707.4 1457.7 L1708.2 1457.7 L1708.9 1457.7 L1709.7 1457.7 L1710.4 1457.8 L1711.2 1457.8 L1711.9 1457.8 L1712.7 1457.8 L1713.4 1457.8 L1714.2 1457.8 L1714.9 1457.8 L1715.7 1457.8 L1716.4 1457.8 L1717.2 1457.8 L1717.9 1457.8 L1718.7 1457.8 L1719.4 1457.8 L1720.2 1457.8 L1720.9 1457.8 L1721.7 1457.8 L1722.4 1457.9 L1723.2 1457.9 L1723.9 1457.9 L1724.7 1457.9 L1725.4 1457.9 L1726.2 1457.9 L1726.9 1457.9 L1727.7 1457.9 L1728.4 1457.9 L1729.2 1457.9 L1729.9 1457.9 L1730.6 1457.9 L1731.4 1457.9 L1732.1 1457.9 L1732.9 1457.9 L1733.6 1457.9 L1734.4 1458.0 L1735.1 1458.0 L1735.9 1458.0 L1736.6 1458.0 L1737.4 1458.0 L1738.1 1458.0 L1738.9 1458.0 L1739.6 1458.0 L1740.4 1458.0 L1741.1 1458.0 L1741.9 1458.0 L1742.6 1458.0 L1743.4 1458.0 L1744.1 1458.0 L1744.9 1458.0 L1745.6 1458.1 L1746.4 1458.1 L1747.1 1458.1 L1747.9 1458.1 L1748.6 1458.1 L1749.4 1458.1 L1750.1 1458.1 L1750.9 1458.1 L1751.6 1458.1 L1752.4 1458.1 L1753.1 1458.1 L1753.9 1458.1 L1754.6 1458.1 L1755.4 1458.1 L1756.1 1458.2 L1756.9 1458.2 L1757.6 1458.2 L1758.4 1458.2 L1759.1 1458.2 L1759.9 1458.2 L1760.6 1458.2 L1761.4 1458.2 L1762.1 1458.2 L1762.8 1458.2 L1763.6 1458.2 L1764.3 1458.2 L1765.1 1458.2 L1765.8 1458.2 L1766.6 1458.3 L1767.3 1458.3 L1768.1 1458.3 L1768.8 1458.3 L1769.6 1458.3 L1770.3 1458.3 L1771.1 1458.3 L1771.8 1458.3 L1772.6 1458.3 L1773.3 1458.3 L1774.1 1458.3 L1774.8 1458.3 L1775.6 1458.3 L1776.3 1458.3 L1777.1 1458.4 L1777.8 1458.4 L1778.6 1458.4 L1779.3 1458.4 L1780.1 1458.4 L1780.8 1458.4 L1781.6 1458.4 L1782.3 1458.4 L1783.1 1458.4 L1783.8 1458.4 L1784.6 1458.4 L1785.3 1458.4 L1786.1 1458.4 L1786.8 1458.5 L1787.6 1458.5 L1788.3 1458.5 L1789.1 1458.5 L1789.8 1458.5 L1790.6 1458.5 L1791.3 1458.5 L1792.1 1458.5 L1792.8 1458.5 L1793.6 1458.5 L1794.3 1458.5 L1795.0 1458.5 L1795.8 1458.6 L1796.5 1458.6 L1797.3 1458.6 L1798.0 1458.6 L1798.8 1458.6 L1799.5 1458.6 L1800.3 1458.6 L1801.0 1458.6 L1801.8 1458.6 L1802.5 1458.6 L1803.3 1458.6 L1804.0 1458.6 L1804.8 1458.7 L1805.5 1458.7 L1806.3 1458.7 L1807.0 1458.7 L1807.8 1458.7 L1808.5 1458.7 L1809.3 1458.7 L1810.0 1458.7 L1810.8 1458.7 L1811.5 1458.7 L1812.3 1458.8 L1813.0 1458.8 L1813.8 1458.8 L1814.5 1458.8 L1815.3 1458.8 L1816.0 1458.8 L1816.8 1458.8 L1817.5 1458.8 L1818.3 1458.8 L1819.0 1458.9 L1819.8 1458.9 L1820.5 1458.9 L1821.3 1458.9 L1822.0 1458.9 L1822.8 1458.9 L1823.5 1458.9 L1824.3 1458.9 L1825.0 1458.9 L1825.7 1459.0 L1826.5 1459.0 L1827.2 1459.0 L1828.0 1459.0 L1828.7 1459.0 L1829.5 1459.0 L1830.2 1459.0 L1831.0 1459.0 L1831.7 1459.1 L1832.5 1459.1 L1833.2 1459.1 L1834.0 1459.1 L1834.7 1459.1 L1835.5 1459.1 L1836.2 1459.1 L1837.0 1459.1 L1837.7 1459.2 L1838.5 1459.2 L1839.2 1459.2 L1840.0 1459.2 L1840.7 1459.2 L1841.5 1459.2 L1842.2 1459.2 L1843.0 1459.3 L1843.7 1459.3 L1844.5 1459.3 L1845.2 1459.3 L1846.0 1459.3 L1846.7 1459.3 L1847.5 1459.3 L1848.2 1459.4 L1849.0 1459.4 L1849.7 1459.4 L1850.5 1459.4 L1851.2 1459.4 L1852.0 1459.4 L1852.7 1459.4 L1853.5 1459.5 L1854.2 1459.5 L1855.0 1459.5 L1855.7 1459.5 L1856.5 1459.5 L1857.2 1459.5 L1857.9 1459.5 L1858.7 1459.5 L1859.4 1459.6 L1860.2 1459.6 L1860.9 1459.6 L1861.7 1459.6 L1862.4 1459.6 L1863.2 1459.6 L1863.9 1459.6 L1864.7 1459.7 L1865.4 1459.7 L1866.2 1459.7 L1866.9 1459.7 L1867.7 1459.7 L1868.4 1459.7 L1869.2 1459.7 L1869.9 1459.8 L1870.7 1459.8 L1871.4 1459.8 L1872.2 1459.8 L1872.9 1459.8 L1873.7 1459.8 L1874.4 1459.8 L1875.2 1459.9 L1875.9 1459.9 L1876.7 1459.9 L1877.4 1459.9 L1878.2 1459.9 L1878.9 1459.9 L1879.7 1459.9 L1880.4 1460.0 L1881.2 1460.0 L1881.9 1460.0 L1882.7 1460.0 L1883.4 1460.0 L1884.2 1460.0 L1884.9 1460.0 L1885.7 1460.1 L1886.4 1460.1 L1887.1 1460.1 L1887.9 1460.1 L1888.6 1460.1 L1889.4 1460.1 L1890.1 1460.1 L1890.9 1460.2 L1891.6 1460.2 L1892.4 1460.2 L1893.1 1460.2 L1893.9 1460.2 L1894.6 1460.2 L1895.4 1460.2 L1896.1 1460.2 L1896.9 1460.3 L1897.6 1460.3 L1898.4 1460.3 L1899.1 1460.3 L1899.9 1460.3 L1900.6 1460.3 L1901.4 1460.3 L1902.1 1460.4 L1902.9 1460.4 L1903.6 1460.4 L1904.4 1460.4 L1905.1 1460.4 L1905.9 1460.4 L1906.6 1460.4 L1907.4 1460.4 L1908.1 1460.4 L1908.9 1460.5 L1909.6 1460.5 L1910.4 1460.5 L1911.1 1460.5 L1911.9 1460.5 L1912.6 1460.5 L1913.4 1460.5 L1914.1 1460.5 L1914.9 1460.6 L1915.6 1460.6 L1916.4 1460.6 L1917.1 1460.6 L1917.9 1460.6 L1918.6 1460.6 L1919.3 1460.6 L1920.1 1460.6 L1920.8 1460.6 L1921.6 1460.6 L1922.3 1460.7 L1923.1 1460.7 L1923.8 1460.7 L1924.6 1460.7 L1925.3 1460.7 L1926.1 1460.7 L1926.8 1460.7 L1927.6 1460.7 L1928.3 1460.7 L1929.1 1460.7 L1929.8 1460.8 L1930.6 1460.8 L1931.3 1460.8 L1932.1 1460.8 L1932.8 1460.8 L1933.6 1460.8 L1934.3 1460.8 L1935.1 1460.8 L1935.8 1460.8 L1936.6 1460.8 L1937.3 1460.8 L1938.1 1460.8 L1938.8 1460.8 L1939.6 1460.9 L1940.3 1460.9 L1941.1 1460.9 L1941.8 1460.9 L1942.6 1460.9 L1943.3 1460.9 L1944.1 1460.9 L1944.8 1460.9 L1945.6 1460.9 L1946.3 1460.9 L1947.1 1460.9 L1947.8 1460.9 L1948.6 1460.9 L1949.3 1460.9 L1950.0 1460.9 L1950.8 1460.9 L1951.5 1460.9 L1952.3 1461.0 L1953.0 1461.0 L1953.8 1461.0 L1954.5 1461.0 L1955.3 1461.0 L1956.0 1461.0 L1956.8 1461.0 L1957.5 1461.0 L1958.3 1461.0 L1959.0 1461.0 L1959.8 1461.0 L1960.5 1461.0 L1961.3 1461.0 L1962.0 1461.0 L1962.8 1461.0 L1963.5 1461.0 L1964.3 1461.0 L1965.0 1461.0 L1965.8 1461.0 L1966.5 1461.0 L1967.3 1461.0 L1968.0 1461.0 L1968.8 1461.0 L1969.5 1461.0 L1970.3 1461.0 L1971.0 1461.0 L1971.8 1461.0 L1972.5 1461.0 L1973.3 1461.0 L1974.0 1461.0 L1974.8 1461.0 L1975.5 1461.0 L1976.3 1461.0 L1977.0 1461.0 L1977.8 1461.0 L1978.5 1461.0 L1979.3 1461.0 L1980.0 1461.0 L1980.7 1461.0 L1981.5 1461.0 L1982.2 1461.0 L1983.0 1461.0 L1983.7 1461.0 L1984.5 1461.0 L1985.2 1461.0 L1986.0 1461.0 L1986.7 1461.0 L1987.5 1461.0 L1988.2 1461.0 L1989.0 1461.0 L1989.7 1461.0 L1990.5 1461.0 L1991.2 1461.0 L1992.0 1461.0 L1992.7 1461.0 L1993.5 1461.0 L1994.2 1461.0 L1995.0 1461.0 L1995.7 1461.0 L1996.5 1461.0 L1997.2 1461.0 L1998.0 1461.0 L1998.7 1461.0 L1999.5 1461.0 L2000.2 1461.0 L2001.0 1461.0 L2001.7 1461.0 L2002.5 1461.0 L2003.2 1461.0 L2004.0 1461.0 L2004.7 1461.0 L2005.5 1461.0 L2006.2 1461.0 L2007.0 1461.0 L2007.7 1461.0 L2008.5 1461.0 L2009.2 1461.0 L2010.0 1461.0 L2010.7 1461.0 L2011.5 1461.0 L2012.2 1461.0 L2012.9 1461.0 L2013.7 1461.0 L2014.4 1461.0 L2015.2 1461.0 L2015.9 1461.0 L2016.7 1461.0 L2017.4 1461.0 L2018.2 1461.0 L2018.9 1461.0 L2019.7 1461.0 L2020.4 1461.0 L2021.2 1461.0 L2021.9 1461.0 L2022.7 1461.0 L2023.4 1461.0 L2024.2 1461.0 L2024.9 1461.0 L2025.7 1461.0 L2026.4 1461.0 L2027.2 1461.0 L2027.9 1461.0 L2028.7 1461.0 L2029.4 1461.0 L2030.2 1461.0 L2030.9 1461.0 L2031.7 1461.0 L2032.4 1461.0 L2033.2 1461.0 L2033.9 1461.0 L2034.7 1461.0 L2035.4 1461.0 L2036.2 1461.0 L2036.9 1461.0 L2037.7 1461.0 L2038.4 1461.0 L2039.2 1461.0 L2039.9 1461.0 L2040.7 1461.0 L2041.4 1461.0 L2042.2 1461.0 L2042.9 1461.0 L2043.7 1461.0 L2044.4 1461.0 L2045.2 1461.0 L2045.9 1461.0 L2046.6 1461.0 L2047.4 1461.0 L2048.1 1461.0 L2048.9 1461.0 L2049.6 1461.0 L2050.4 1461.0 L2051.1 1461.0 L2051.9 1461.0 L2052.6 1461.0 L2053.4 1461.0 L2054.1 1461.0 L2054.9 1461.0 L2055.6 1461.0 L2056.4 1461.0 L2057.1 1461.0 L2057.9 1461.0 L2058.6 1461.0 L2059.4 1461.0 L2060.1 1461.0 L2060.9 1461.0 L2061.6 1461.0 L2062.4 1461.0 L2063.1 1461.0 L2063.9 1461.0 L2064.6 1461.0 L2065.4 1461.0 L2066.1 1461.0 L2066.9 1461.0 L2067.6 1461.0 L2068.4 1461.0 L2069.1 1461.0 L2069.9 1461.0 L2070.6 1461.0 L2071.4 1461.0 L2072.1 1461.0 L2072.9 1461.0 L2073.6 1461.0 L2074.4 1461.0 L2075.1 1461.0 L2075.9 1461.0 L2076.6 1461.0 L2077.4 1461.0 L2078.1 1461.0 L2078.8 1461.0 L2079.6 1461.0 L2080.3 1461.0 L2081.1 1461.0 L2081.8 1461.0 L2082.6 1461.0 L2083.3 1461.0 L2084.1 1461.0 L2084.8 1461.0 L2085.6 1461.0 L2086.3 1461.0 L2087.1 1461.0 L2087.8 1461.0 L2088.6 1461.0 L2089.3 1461.0 L2090.1 1461.0 L2090.8 1461.0 L2091.6 1461.0 L2092.3 1461.0 L2093.1 1461.0 L2093.8 1461.0 L2094.6 1461.0 L2095.3 1461.0 L2096.1 1461.0 L2096.8 1461.0 L2097.6 1461.0 L2098.3 1461.0 L2099.1 1461.0 L2099.8 1461.0 L2100.6 1461.0 L2101.3 1461.0 L2102.1 1461.0 L2102.8 1461.0 L2103.6 1461.0 L2104.3 1461.0 L2105.1 1461.0 L2105.8 1461.0 L2106.6 1461.0 L2107.3 1461.0 L2108.1 1461.0 L2108.8 1461.0 L2109.6 1461.0 L2110.3 1461.0 L2111.0 1461.0 L2111.8 1461.0 L2112.5 1461.0 L2113.3 1461.0 L2114.0 1461.0 L2114.8 1461.0 L2115.5 1461.0 L2116.3 1461.0 L2117.0 1461.0 L2117.8 1461.0 L2118.5 1461.0 L2119.3 1461.0 L2120.0 1461.0 L2120.8 1461.0 L2121.5 1461.0 L2122.3 1461.0 L2123.0 1461.0 L2123.8 1461.0 L2124.5 1461.0 L2125.3 1461.0 L2126.0 1461.0 L2126.8 1461.0 L2127.5 1461.0 L2128.3 1461.0 L2129.0 1461.0 L2129.8 1461.0 L2130.5 1461.0 L2131.3 1461.0 L2132.0 1461.0 L2132.8 1461.0 L2133.5 1461.0 L2134.3 1461.0 L2135.0 1461.0 L2135.8 1461.0 L2136.5 1461.0 L2137.3 1461.0 L2138.0 1461.0 L2138.8 1461.0 L2139.5 1461.0 L2140.3 1461.0 L2141.0 1461.0 L2141.8 1461.0 L2142.5 1461.0 L2143.3 1461.0 L2144.0 1461.0 L2144.7 1461.0 L2145.5 1461.0 L2146.2 1461.0 L2147.0 1461.0 L2147.7 1461.0 L2148.5 1461.0 L2149.2 1461.0 L2150.0 1461.0 L2150.7 1461.0 L2151.5 1461.0 L2152.2 1461.0 L2153.0 1461.0 L2153.7 1461.0 L2154.5 1461.0 L2155.2 1461.0 L2156.0 1461.0 L2156.7 1461.0 L2157.5 1461.0 L2158.2 1461.0 L2159.0 1461.0 L2159.7 1461.0 L2160.5 1461.0 L2161.2 1461.0 L2162.0 1461.0 L2162.7 1461.0 L2163.5 1461.0 L2164.2 1461.0 L2165.0 1461.0 L2165.7 1461.0 L2166.5 1461.0 L2167.2 1461.0 L2168.0 1461.0 L2168.7 1461.0 L2169.5 1461.0 L2170.2 1461.0 L2171.0 1461.0 L2171.7 1461.0 L2172.5 1461.0 L2173.2 1461.0 L2174.0 1461.0 L2174.7 1461.0 L2175.5 1461.0 L2176.2 1461.0 L2177.0 1461.0 L2177.7 1461.0 L2178.4 1461.0 L2179.2 1461.0 L2179.9 1461.0 L2180.7 1461.0 L2181.4 1461.0 L2182.2 1461.0 L2182.9 1461.0 L2183.7 1461.0 L2184.4 1461.0 L2185.2 1461.0 L2185.9 1461.0 L2186.7 1461.0 L2187.4 1461.0 L2188.2 1461.0 L2188.9 1461.0 L2189.7 1461.0 L2190.4 1461.0 L2191.2 1461.0 L2191.9 1461.0 L2192.7 1461.0 L2193.4 1461.0 L2194.2 1461.0 L2194.9 1461.0 L2195.7 1461.0 L2196.4 1461.0 L2197.2 1461.0 L2197.9 1461.0 L2198.7 1461.0 L2199.4 1461.0 L2200.2 1461.0 L2200.9 1461.0 L2201.7 1461.0 L2202.4 1461.0 L2203.2 1461.0 L2203.9 1461.0 L2204.7 1461.0 L2205.4 1461.0 L2206.2 1461.0 L2206.9 1461.0 L2207.7 1461.0 L2208.4 1461.0 L2209.2 1461.0 L2209.9 1461.0 L2210.7 1461.0 L2211.4 1461.0 L2212.1 1461.0 L2212.9 1461.0 L2213.6 1461.0 L2214.4 1461.0 L2215.1 1461.0 L2215.9 1461.0 L2216.6 1461.0 L2217.4 1461.0 L2218.1 1461.0 L2218.9 1461.0 L2219.6 1461.0 L2220.4 1461.0 L2221.1 1461.0 L2221.9 1461.0 L2222.6 1461.0 L2223.4 1461.0 L2224.1 1461.0 L2224.9 1461.0 L2225.6 1461.0 L2226.4 1461.0 L2227.1 1461.0 L2227.9 1461.0 L2228.4 1461.0 L2228.8 1461.0 L2229.0 1461.0" fill="none" stroke="#f00" stroke-width="13" stroke-linejoin="round"/>
<rect x="2229" y="1400" width="13" height="100" fill="#000"/>
<circle cx="2229" cy="1461" r="6.5" fill="#f00"/>
<g fill="#0000f0">
<rect x="1084.0" y="828" width="60.0" height="12.5"/>
<rect x="1196.0" y="828" width="60.0" height="12.5"/>
<rect x="1084" y="828.0" width="11" height="59.5"/>
<rect x="1084" y="939.5" width="11" height="59.8"/>
<rect x="1084" y="1051.3" width="11" height="59.7"/>
<rect x="1084" y="1163.0" width="11" height="59.9"/>
<rect x="1084" y="1274.9" width="11" height="59.7"/>
<rect x="1084" y="1386.7" width="11" height="59.8"/>
<rect x="1084.0" y="1482.7" width="45.0" height="12.5"/>
<rect x="1180.0" y="1482.7" width="59.5" height="12.5"/>
<rect x="1329.4" y="914.9" width="13.5" height="59.7"/>
<rect x="1329.4" y="1026.7" width="13.5" height="59.6"/>
<rect x="1329.4" y="1138.7" width="13.5" height="59.4"/>
<rect x="1329.4" y="1250.2" width="13.5" height="59.6"/>
<rect x="1329.4" y="1361.9" width="13.5" height="59.7"/>
</g>
<line x1="1307.9" y1="830.3" x2="1339.3" y2="861.2" stroke="#0000f0" stroke-width="10.2"/>
<line x1="1292" y1="1490.5" x2="1341" y2="1479" stroke="#0000f0" stroke-width="12"/>
<polygon fill="#0000ff" points="1507.6,783.2 1471.3,813.0 1479.4,822.8 1416.9,854.7 1412.5,849.3 1455.9,794.2 1463.9,804.0 1500.2,774.2"/>
<g fill="#000">
<rect x="1520.3" y="124.5" width="637.7" height="3"/>
<rect x="1520.3" y="124.5" width="5" height="588.5"/>
<rect x="2153" y="124.5" width="5" height="588.5"/>
<rect x="1520.3" y="709" width="637.7" height="4"/>
<rect x="1514.8" y="687.1" width="5.5" height="3"/>
<rect x="1514.8" y="517.6" width="5.5" height="3"/>
<rect x="1514.8" y="348.0" width="5.5" height="3"/>
<rect x="1514.8" y="178.5" width="5.5" height="3"/>
<rect x="1517.3" y="602.3" width="3" height="3"/>
<rect x="1517.3" y="432.8" width="3" height="3"/>
<rect x="1517.3" y="263.3" width="3" height="3"/>
<rect x="1573.6" y="713" width="3" height="8"/>
<rect x="1705.1" y="713" width="3" height="8"/>
<rect x="1836.6" y="713" width="3" height="8"/>
<rect x="1968.1" y="713" width="3" height="8"/>
<rect x="2099.6" y="713" width="3" height="8"/>
<rect x="1639.3" y="713" width="3" height="3.5"/>
<rect x="1770.8" y="713" width="3" height="3.5"/>
<rect x="1902.3" y="713" width="3" height="3.5"/>
<rect x="2033.8" y="713" width="3" height="3.5"/>
</g>
<text class="s" font-size="34" transform="translate(1486.89,687.10) scale(1,1.080)">0</text>
<text class="s" font-size="34" transform="translate(1468.98,517.57) scale(1,1.080)">1</text>
<text class="s" font-size="34" transform="translate(1486.89,517.57) scale(1,1.080)">5</text>
<rect x="1470.34" y="512.31" width="6.58" height="6.46" fill="#fff"/>
<rect x="1481.58" y="512.31" width="5.93" height="6.46" fill="#fff"/>
<text class="s" font-size="34" transform="translate(1467.98,348.04) scale(1,1.080)">30</text>
<text class="s" font-size="34" transform="translate(1467.98,178.51) scale(1,1.080)">45</text>
<g class="s" font-size="34" text-anchor="middle">
<text transform="translate(1575.1,753) scale(1,1.1)">350</text>
<text transform="translate(1706.6,753) scale(1,1.1)">375</text>
<text transform="translate(1838.1,753) scale(1,1.1)">400</text>
<text transform="translate(1969.6,753) scale(1,1.1)">425</text>
<text transform="translate(2101.1,753) scale(1,1.1)">450</text>
</g>
<text class="s" font-size="34.7" text-anchor="middle" transform="translate(1424.8,405) rotate(-90) scale(1,1.03)">Weight Loss (%)</text>
<text class="s" font-size="35" transform="translate(1695.2,822) scale(1,0.97)">Temperature (<tspan font-size="27" dy="-10.8">O</tspan><tspan dy="10.8">C)</tspan></text>
<defs><clipPath id="ic"><rect x="1522" y="125.5" width="634" height="586"/></clipPath></defs><g clip-path="url(#ic)">
<path d="M1655.3 124.0 L1655.3 124.1 L1655.4 124.4 L1655.4 124.7 L1655.5 125.2 L1655.6 125.8 L1655.8 126.5 L1655.9 127.3 L1656.1 128.2 L1656.3 129.3 L1656.5 130.4 L1656.7 131.7 L1657.0 133.1 L1657.3 134.7 L1657.6 136.3 L1657.9 138.1 L1658.2 139.9 L1658.6 141.8 L1658.9 143.7 L1659.2 145.5 L1659.6 147.3 L1659.9 149.1 L1660.3 151.0 L1660.6 152.8 L1660.9 154.5 L1661.3 156.3 L1661.6 158.1 L1661.9 159.8 L1662.3 161.6 L1662.6 163.3 L1662.9 165.0 L1663.2 166.8 L1663.6 168.4 L1663.9 170.2 L1664.2 171.8 L1664.5 173.5 L1664.9 175.2 L1665.2 176.9 L1665.5 178.7 L1665.8 180.3 L1666.2 182.0 L1666.5 183.7 L1666.8 185.4 L1667.2 187.1 L1667.5 188.8 L1667.8 190.5 L1668.2 192.2 L1668.5 193.9 L1668.8 195.7 L1669.1 197.4 L1669.5 199.1 L1669.8 200.8 L1670.1 202.5 L1670.5 204.2 L1670.8 205.9 L1671.1 207.7 L1671.5 209.4 L1671.8 211.2 L1672.1 212.9 L1672.5 214.7 L1672.8 216.4 L1673.2 218.2 L1673.5 219.9 L1673.8 221.7 L1674.2 223.5 L1674.5 225.3 L1674.8 227.0 L1675.2 228.8 L1675.5 230.5 L1675.9 232.3 L1676.2 234.0 L1676.5 235.8 L1676.9 237.5 L1677.2 239.3 L1677.6 241.0 L1677.9 242.7 L1678.2 244.4 L1678.6 246.1 L1678.9 247.8 L1679.3 249.5 L1679.6 251.2 L1680.0 252.9 L1680.3 254.7 L1680.7 256.4 L1681.0 258.0 L1681.4 259.8 L1681.7 261.5 L1682.1 263.2 L1682.5 264.8 L1682.8 266.5 L1683.2 268.2 L1683.6 270.0 L1683.9 271.7 L1684.3 273.4 L1684.7 275.1 L1685.1 276.8 L1685.4 278.5 L1685.8 280.2 L1686.2 281.8 L1686.6 283.5 L1687.0 285.2 L1687.4 286.9 L1687.8 288.6 L1688.2 290.4 L1688.6 292.0 L1689.0 293.8 L1689.5 295.5 L1689.9 297.2 L1690.3 298.8 L1690.8 300.5 L1691.2 302.2 L1691.6 303.9 L1692.1 305.6 L1692.5 307.4 L1693.0 309.1 L1693.4 310.8 L1693.8 312.5 L1694.3 314.2 L1694.7 315.9 L1695.2 317.6 L1695.6 319.3 L1696.1 321.0 L1696.5 322.7 L1697.0 324.5 L1697.4 326.2 L1697.8 327.9 L1698.3 329.6 L1698.7 331.3 L1699.2 333.1 L1699.6 334.8 L1700.1 336.5 L1700.5 338.2 L1701.0 340.0 L1701.4 341.7 L1701.9 343.4 L1702.3 345.2 L1702.8 346.9 L1703.3 348.7 L1703.7 350.4 L1704.2 352.1 L1704.6 353.9 L1705.1 355.6 L1705.6 357.4 L1706.1 359.1 L1706.5 360.9 L1707.0 362.6 L1707.5 364.4 L1708.0 366.1 L1708.5 367.8 L1709.0 369.6 L1709.5 371.3 L1710.0 373.0 L1710.5 374.8 L1711.0 376.5 L1711.5 378.2 L1712.1 379.9 L1712.6 381.6 L1713.1 383.3 L1713.7 385.0 L1714.2 386.8 L1714.8 388.4 L1715.3 390.1 L1715.9 391.8 L1716.5 393.5 L1717.0 395.2 L1717.6 396.9 L1718.2 398.6 L1718.8 400.4 L1719.4 402.1 L1720.0 403.8 L1720.6 405.5 L1721.2 407.1 L1721.8 408.9 L1722.4 410.5 L1723.0 412.2 L1723.7 413.9 L1724.3 415.6 L1725.0 417.3 L1725.6 419.0 L1726.3 420.7 L1726.9 422.4 L1727.6 424.1 L1728.2 425.8 L1728.9 427.5 L1729.6 429.2 L1730.2 430.8 L1730.9 432.5 L1731.6 434.2 L1732.3 435.9 L1733.0 437.5 L1733.7 439.2 L1734.3 440.9 L1735.0 442.5 L1735.8 444.2 L1736.5 445.9 L1737.2 447.7 L1738.0 449.4 L1738.8 451.2 L1739.6 453.0 L1740.4 454.9 L1741.2 456.7 L1742.0 458.6 L1742.9 460.5 L1743.8 462.5 L1744.6 464.4 L1745.5 466.4 L1746.4 468.4 L1747.4 470.5 L1748.3 472.5 L1749.3 474.6 L1750.2 476.6 L1751.1 478.6 L1752.1 480.6 L1753.0 482.5 L1754.0 484.4 L1754.9 486.3 L1755.8 488.2 L1756.8 490.1 L1757.7 491.9 L1758.7 493.7 L1759.6 495.5 L1760.5 497.3 L1761.5 499.0 L1762.4 500.8 L1763.3 502.5 L1764.2 504.1 L1765.2 505.8 L1766.1 507.4 L1767.0 509.0 L1767.9 510.6 L1768.8 512.2 L1769.6 513.7 L1770.5 515.3 L1771.4 516.8 L1772.3 518.2 L1773.1 519.7 L1774.0 521.1 L1774.8 522.6 L1775.7 524.0 L1776.5 525.3 L1777.3 526.7 L1778.1 528.0 L1778.9 529.4 L1779.7 530.9 L1780.5 532.3 L1781.3 533.8 L1782.1 535.2 L1782.8 536.7 L1783.6 538.3 L1784.3 539.8 L1785.1 541.4 L1785.8 543.0 L1786.5 544.6 L1787.2 546.2 L1787.9 547.9 L1788.6 549.5 L1789.3 551.2 L1790.0 552.9 L1790.7 554.6 L1791.3 556.4 L1792.0 558.1 L1792.7 559.8 L1793.4 561.5 L1794.0 563.1 L1794.7 564.9 L1795.4 566.5 L1796.1 568.2 L1796.8 569.9 L1797.4 571.6 L1798.1 573.4 L1798.8 575.1 L1799.5 576.8 L1800.1 578.5 L1800.8 580.1 L1801.5 581.9 L1802.2 583.6 L1802.9 585.2 L1803.5 587.0 L1804.2 588.6 L1804.9 590.4 L1805.6 592.1 L1806.3 593.8 L1807.0 595.5 L1807.7 597.1 L1808.4 598.9 L1809.1 600.5 L1809.8 602.2 L1810.5 603.9 L1811.2 605.6 L1811.9 607.3 L1812.6 609.0 L1813.3 610.6 L1814.0 612.3 L1814.6 613.9 L1815.3 615.5 L1815.9 617.0 L1816.6 618.6 L1817.2 620.1 L1817.9 621.6 L1818.5 623.1 L1819.1 624.6 L1819.7 626.0 L1820.3 627.5 L1820.9 628.9 L1821.5 630.3 L1822.1 631.7 L1822.6 633.0 L1823.2 634.3 L1823.7 635.6 L1824.3 636.8 L1824.8 638.0 L1825.3 639.1 L1825.8 640.3 L1826.3 641.4 L1826.8 642.4 L1827.3 643.4 L1827.8 644.4 L1828.2 645.4 L1828.7 646.3 L1829.1 647.2 L1829.5 648.0 L1829.9 648.9 L1830.4 649.7 L1830.8 650.5 L1831.3 651.3 L1831.7 652.1 L1832.2 652.9 L1832.6 653.7 L1833.1 654.4 L1833.6 655.2 L1834.0 655.9 L1834.5 656.7 L1835.0 657.4 L1835.5 658.1 L1836.0 658.8 L1836.5 659.5 L1837.0 660.2 L1837.5 660.9 L1838.0 661.5 L1838.6 662.1 L1839.1 662.8 L1839.7 663.4 L1840.2 663.9 L1840.8 664.5 L1841.3 665.1 L1841.9 665.6 L1842.5 666.1 L1843.1 666.6 L1843.7 667.1 L1844.3 667.6 L1845.0 668.0 L1845.6 668.5 L1846.2 668.9 L1846.9 669.3 L1847.6 669.7 L1848.3 670.1 L1849.0 670.5 L1849.8 670.8 L1850.6 671.1 L1851.4 671.4 L1852.3 671.7 L1853.2 672.0 L1854.1 672.3 L1855.0 672.5 L1855.9 672.8 L1856.9 673.0 L1857.9 673.2 L1859.0 673.4 L1860.0 673.5 L1861.2 673.7 L1862.6 673.9 L1864.0 674.0 L1865.6 674.2 L1867.4 674.3 L1869.3 674.4 L1871.3 674.6 L1873.5 674.7 L1875.7 674.8 L1878.2 674.9 L1880.7 675.1 L1883.4 675.2 L1886.3 675.3 L1889.3 675.4 L1892.4 675.5 L1895.6 675.5 L1899.0 675.6 L1902.5 675.7 L1906.0 675.8 L1909.7 675.9 L1913.5 676.0 L1917.4 676.0 L1921.4 676.1 L1925.6 676.2 L1929.8 676.3 L1934.1 676.4 L1938.6 676.4 L1943.2 676.5 L1947.8 676.6 L1952.6 676.6 L1957.5 676.7 L1962.5 676.8 L1967.8 676.9 L1973.4 676.9 L1979.3 677.0 L1985.4 677.1 L1991.9 677.2 L1998.7 677.2 L2005.7 677.3 L2013.0 677.4 L2020.7 677.5 L2028.6 677.6 L2036.8 677.7 L2045.4 677.8 L2054.2 677.9 L2063.3 678.0 L2072.7 678.1 L2082.3 678.2 L2091.4 678.3 L2099.9 678.4 L2107.8 678.5 L2115.0 678.6 L2121.7 678.6 L2127.8 678.7 L2133.2 678.8 L2138.0 678.8 L2142.3 678.9 L2145.9 678.9 L2148.9 678.9 L2151.4 679.0 L2153.2 679.0 L2154.4 679.0 L2155.0 679.0" fill="none" stroke="#000" stroke-width="6" stroke-linejoin="round"/>
<path d="M1658.0 124.0 L1658.0 124.1 L1658.1 124.4 L1658.1 124.7 L1658.2 125.2 L1658.3 125.8 L1658.5 126.5 L1658.6 127.3 L1658.8 128.2 L1659.0 129.3 L1659.2 130.4 L1659.4 131.7 L1659.7 133.1 L1660.0 134.7 L1660.3 136.3 L1660.6 138.1 L1660.9 139.9 L1661.3 141.8 L1661.6 143.7 L1661.9 145.5 L1662.3 147.3 L1662.6 149.1 L1663.0 151.0 L1663.3 152.8 L1663.6 154.5 L1664.0 156.3 L1664.3 158.1 L1664.6 159.8 L1665.0 161.6 L1665.3 163.3 L1665.6 165.0 L1665.9 166.8 L1666.3 168.4 L1666.6 170.2 L1666.9 171.8 L1667.2 173.5 L1667.6 175.2 L1667.9 176.9 L1668.2 178.7 L1668.5 180.3 L1668.9 182.0 L1669.2 183.7 L1669.5 185.4 L1669.9 187.1 L1670.2 188.8 L1670.5 190.5 L1670.9 192.2 L1671.2 193.9 L1671.5 195.7 L1671.9 197.4 L1672.2 199.1 L1672.6 200.8 L1672.9 202.5 L1673.3 204.2 L1673.7 205.9 L1674.1 207.6 L1674.5 209.3 L1674.9 211.0 L1675.3 212.7 L1675.7 214.5 L1676.2 216.2 L1676.6 217.9 L1677.1 219.6 L1677.5 221.3 L1678.0 223.1 L1678.5 224.8 L1678.9 226.5 L1679.4 228.2 L1679.8 230.0 L1680.3 231.7 L1680.8 233.4 L1681.2 235.2 L1681.7 236.9 L1682.1 238.7 L1682.6 240.4 L1683.0 242.1 L1683.5 243.9 L1683.9 245.6 L1684.3 247.4 L1684.8 249.1 L1685.2 250.9 L1685.7 252.6 L1686.1 254.4 L1686.5 256.1 L1687.0 257.8 L1687.4 259.6 L1687.9 261.3 L1688.3 263.0 L1688.8 264.8 L1689.2 266.5 L1689.7 268.2 L1690.2 269.9 L1690.6 271.6 L1691.1 273.3 L1691.5 275.0 L1692.0 276.8 L1692.5 278.5 L1693.0 280.2 L1693.4 281.8 L1693.9 283.5 L1694.4 285.2 L1694.8 286.9 L1695.3 288.6 L1695.8 290.4 L1696.2 292.0 L1696.7 293.8 L1697.2 295.5 L1697.6 297.2 L1698.1 298.8 L1698.6 300.5 L1699.0 302.2 L1699.5 303.9 L1700.0 305.6 L1700.5 307.4 L1700.9 309.1 L1701.4 310.8 L1701.9 312.5 L1702.4 314.2 L1702.9 315.9 L1703.4 317.6 L1703.9 319.4 L1704.4 321.1 L1704.9 322.8 L1705.4 324.6 L1705.9 326.3 L1706.4 328.1 L1707.0 329.8 L1707.5 331.6 L1708.0 333.3 L1708.6 335.1 L1709.1 336.8 L1709.6 338.6 L1710.2 340.3 L1710.7 342.1 L1711.3 343.8 L1711.9 345.6 L1712.4 347.3 L1713.0 349.0 L1713.6 350.8 L1714.1 352.5 L1714.7 354.2 L1715.3 355.9 L1715.9 357.7 L1716.5 359.4 L1717.1 361.1 L1717.7 362.8 L1718.3 364.5 L1719.0 366.3 L1719.6 368.0 L1720.3 369.7 L1720.9 371.4 L1721.6 373.1 L1722.3 374.8 L1723.0 376.5 L1723.7 378.2 L1724.4 379.9 L1725.1 381.6 L1725.9 383.3 L1726.6 385.0 L1727.4 386.8 L1728.1 388.4 L1728.9 390.1 L1729.7 391.8 L1730.5 393.5 L1731.3 395.2 L1732.1 396.9 L1732.9 398.6 L1733.7 400.4 L1734.5 402.1 L1735.3 403.8 L1736.2 405.5 L1737.0 407.1 L1737.8 408.9 L1738.7 410.5 L1739.6 412.2 L1740.4 413.9 L1741.3 415.6 L1742.1 417.3 L1743.0 419.0 L1743.9 420.7 L1744.7 422.4 L1745.6 424.1 L1746.4 425.8 L1747.2 427.5 L1748.1 429.2 L1748.9 430.8 L1749.7 432.5 L1750.5 434.2 L1751.3 435.9 L1752.2 437.5 L1753.0 439.2 L1753.8 440.9 L1754.5 442.5 L1755.3 444.2 L1756.1 445.9 L1756.9 447.5 L1757.7 449.2 L1758.5 450.8 L1759.3 452.5 L1760.1 454.1 L1760.9 455.8 L1761.7 457.4 L1762.5 459.1 L1763.3 460.7 L1764.0 462.4 L1764.8 464.0 L1765.6 465.6 L1766.4 467.3 L1767.2 468.9 L1768.0 470.5 L1768.8 472.1 L1769.5 473.7 L1770.3 475.2 L1771.1 476.8 L1771.9 478.3 L1772.7 479.7 L1773.4 481.2 L1774.2 482.6 L1775.0 484.0 L1775.8 485.4 L1776.5 486.8 L1777.3 488.1 L1778.1 489.5 L1778.8 490.8 L1779.6 492.0 L1780.4 493.4 L1781.1 494.8 L1781.9 496.2 L1782.7 497.7 L1783.6 499.3 L1784.4 500.9 L1785.2 502.6 L1786.1 504.3 L1787.0 506.1 L1787.9 508.0 L1788.7 509.9 L1789.6 511.8 L1790.6 513.9 L1791.5 516.0 L1792.4 518.1 L1793.4 520.3 L1794.3 522.5 L1795.2 524.6 L1796.1 526.7 L1797.0 528.8 L1797.8 530.8 L1798.7 532.8 L1799.5 534.8 L1800.3 536.8 L1801.0 538.7 L1801.8 540.6 L1802.5 542.4 L1803.3 544.3 L1803.9 546.1 L1804.6 547.8 L1805.3 549.5 L1805.9 551.2 L1806.6 552.9 L1807.2 554.6 L1807.8 556.4 L1808.5 558.1 L1809.1 559.8 L1809.8 561.5 L1810.5 563.1 L1811.1 564.9 L1811.8 566.5 L1812.4 568.2 L1813.1 569.9 L1813.8 571.6 L1814.5 573.4 L1815.1 575.1 L1815.8 576.8 L1816.5 578.5 L1817.2 580.1 L1817.8 581.9 L1818.5 583.6 L1819.2 585.2 L1819.9 587.0 L1820.5 588.6 L1821.2 590.4 L1821.8 592.1 L1822.5 593.8 L1823.2 595.5 L1823.8 597.1 L1824.5 598.9 L1825.1 600.5 L1825.7 602.2 L1826.4 603.9 L1827.0 605.6 L1827.7 607.3 L1828.3 609.0 L1828.9 610.6 L1829.5 612.3 L1830.1 613.9 L1830.7 615.5 L1831.3 617.0 L1831.9 618.6 L1832.5 620.1 L1833.1 621.6 L1833.6 623.1 L1834.2 624.6 L1834.8 626.0 L1835.3 627.5 L1835.9 628.9 L1836.4 630.3 L1837.0 631.7 L1837.5 633.0 L1838.0 634.3 L1838.5 635.5 L1839.0 636.7 L1839.6 637.9 L1840.1 639.0 L1840.5 640.1 L1841.0 641.1 L1841.5 642.1 L1842.0 643.1 L1842.5 644.0 L1842.9 644.9 L1843.4 645.8 L1843.8 646.6 L1844.3 647.3 L1844.7 648.1 L1845.2 648.8 L1845.6 649.5 L1846.0 650.1 L1846.5 650.8 L1846.9 651.4 L1847.3 652.0 L1847.8 652.5 L1848.2 653.0 L1848.6 653.5 L1849.1 654.0 L1849.5 654.5 L1849.9 654.9 L1850.4 655.3 L1850.8 655.6 L1851.2 656.0 L1851.7 656.3 L1852.1 656.6 L1852.6 657.0 L1853.0 657.3 L1853.5 657.6 L1854.0 657.9 L1854.6 658.2 L1855.1 658.5 L1855.6 658.8 L1856.2 659.1 L1856.8 659.3 L1857.3 659.6 L1857.9 659.9 L1858.6 660.2 L1859.2 660.4 L1859.8 660.7 L1860.5 660.9 L1861.2 661.2 L1861.9 661.4 L1862.6 661.6 L1863.4 661.8 L1864.2 662.0 L1865.0 662.1 L1865.9 662.3 L1866.8 662.4 L1867.7 662.6 L1868.6 662.7 L1869.5 662.8 L1870.5 662.9 L1871.5 663.0 L1872.6 663.1 L1873.6 663.1 L1874.8 663.2 L1876.0 663.3 L1877.3 663.3 L1878.7 663.4 L1880.2 663.4 L1881.8 663.5 L1883.4 663.6 L1885.1 663.6 L1887.0 663.7 L1888.9 663.8 L1890.8 663.8 L1892.9 663.9 L1895.1 663.9 L1897.3 664.0 L1899.6 664.1 L1902.0 664.1 L1904.6 664.2 L1907.3 664.3 L1910.2 664.3 L1913.2 664.4 L1916.4 664.5 L1919.8 664.6 L1923.3 664.6 L1927.0 664.7 L1930.9 664.8 L1934.9 664.9 L1939.1 665.0 L1943.5 665.1 L1948.0 665.2 L1952.7 665.3 L1957.5 665.4 L1962.5 665.5 L1967.8 665.5 L1973.4 665.7 L1979.3 665.8 L1985.4 665.8 L1991.9 665.9 L1998.7 666.1 L2005.7 666.2 L2013.0 666.2 L2020.7 666.4 L2028.6 666.5 L2036.8 666.6 L2045.4 666.7 L2054.2 666.8 L2063.3 666.8 L2072.7 666.9 L2082.3 667.1 L2091.4 667.1 L2099.9 667.2 L2107.8 667.3 L2115.0 667.4 L2121.7 667.5 L2127.8 667.5 L2133.2 667.6 L2138.0 667.6 L2142.3 667.7 L2145.9 667.7 L2148.9 667.7 L2151.4 667.8 L2153.2 667.8 L2154.4 667.8 L2155.0 667.8" fill="none" stroke="#f00" stroke-width="6.2" stroke-linejoin="round"/>
</g>
</svg></body></html>
